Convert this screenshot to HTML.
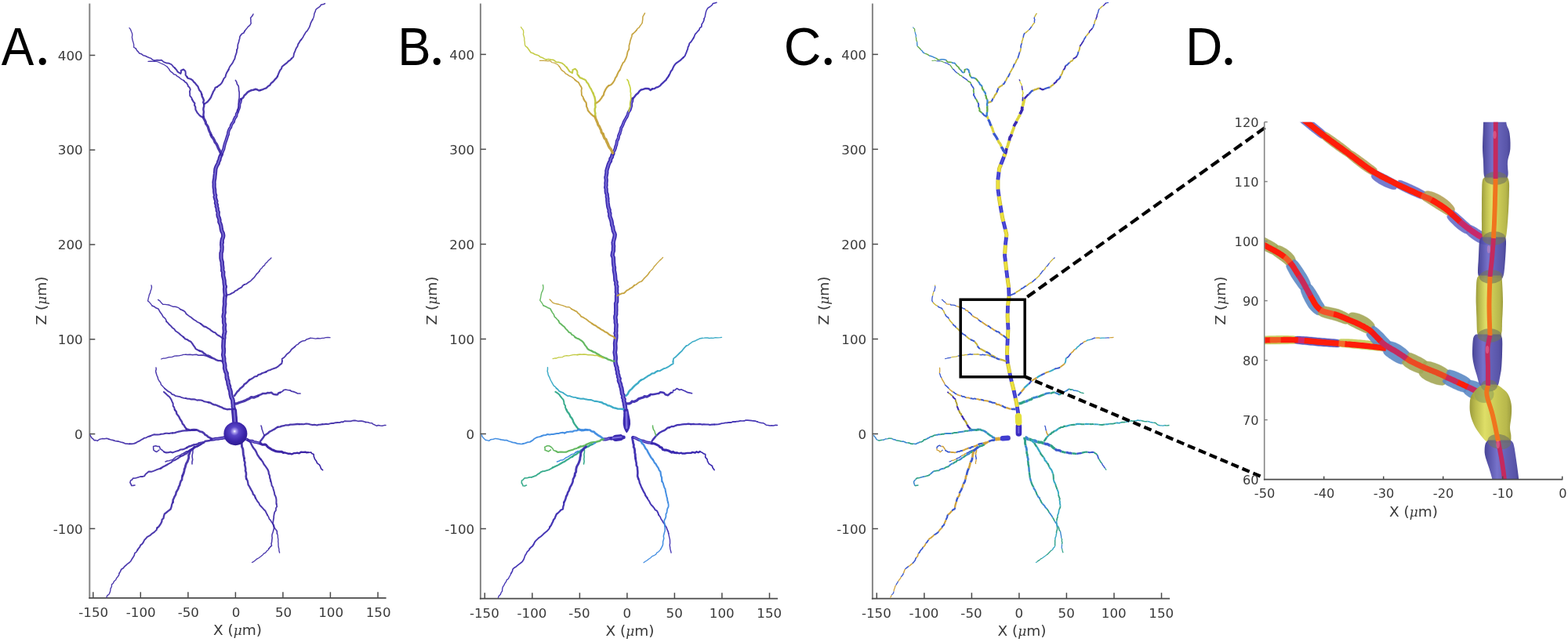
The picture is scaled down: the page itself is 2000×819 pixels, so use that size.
<!DOCTYPE html>
<html lang="en"><head><meta charset="utf-8"><title>Neuron morphology figure</title>
<style>
html,body{margin:0;padding:0;background:#fff;}
body{width:2000px;height:819px;overflow:hidden;}
svg{display:block;}
.tk{font-family:'DejaVu Sans','Liberation Sans',sans-serif;font-size:16.7px;fill:#3a3a3a;}
.tkd{font-size:16.2px;}
.lb{font-family:'DejaVu Sans','Liberation Sans',sans-serif;font-size:18.5px;fill:#3a3a3a;}
.mu{font-family:"DejaVu Serif","Liberation Serif",serif;font-style:italic;font-size:0.92em;}
.pl{font-family:'Liberation Sans','DejaVu Sans',sans-serif;font-size:68px;fill:#000;}
.dot{font-family:"Liberation Serif",serif;font-size:78px;fill:#000;}
</style></head><body>
<svg width="2000" height="819" viewBox="0 0 2000 819">
<defs><filter id="soft" x="-5%" y="-5%" width="110%" height="110%"><feGaussianBlur stdDeviation="0.45"/></filter><radialGradient id="soma" cx="0.46" cy="0.40" r="0.62" fx="0.46" fy="0.40"><stop offset="0" stop-color="#ffffff"/><stop offset="0.10" stop-color="#b0a4f0"/><stop offset="0.30" stop-color="#5a46c8"/><stop offset="0.7" stop-color="#3a24a8"/><stop offset="1" stop-color="#2c1a90"/></radialGradient></defs>
<rect width="2000" height="819" fill="#fff"/>
<g>
<line x1="114.3" y1="4.5" x2="114.3" y2="763.6" stroke="#858585" stroke-width="2"/>
<line x1="113.3" y1="762.8" x2="492.6" y2="762.8" stroke="#4a4a4a" stroke-width="1.7"/>
<line x1="118.8" y1="755.3" x2="118.8" y2="762.8" stroke="#4a4a4a" stroke-width="1.5"/>
<text x="119.2" y="786.5" text-anchor="middle" class="tk">-150</text>
<line x1="179.3" y1="755.3" x2="179.3" y2="762.8" stroke="#4a4a4a" stroke-width="1.5"/>
<text x="179.7" y="786.5" text-anchor="middle" class="tk">-100</text>
<line x1="239.9" y1="755.3" x2="239.9" y2="762.8" stroke="#4a4a4a" stroke-width="1.5"/>
<text x="240.3" y="786.5" text-anchor="middle" class="tk">-50</text>
<line x1="300.4" y1="755.3" x2="300.4" y2="762.8" stroke="#4a4a4a" stroke-width="1.5"/>
<text x="301" y="786.5" text-anchor="middle" class="tk">0</text>
<line x1="360.9" y1="755.3" x2="360.9" y2="762.8" stroke="#4a4a4a" stroke-width="1.5"/>
<text x="361.5" y="786.5" text-anchor="middle" class="tk">50</text>
<line x1="421.4" y1="755.3" x2="421.4" y2="762.8" stroke="#4a4a4a" stroke-width="1.5"/>
<text x="422.1" y="786.5" text-anchor="middle" class="tk">100</text>
<line x1="482" y1="755.3" x2="482" y2="762.8" stroke="#4a4a4a" stroke-width="1.5"/>
<text x="482.6" y="786.5" text-anchor="middle" class="tk">150</text>
<line x1="114.3" y1="674.4" x2="121.3" y2="674.4" stroke="#4a4a4a" stroke-width="1.5"/>
<text x="105.7" y="680.5" text-anchor="end" class="tk">-100</text>
<line x1="114.3" y1="553.6" x2="121.3" y2="553.6" stroke="#4a4a4a" stroke-width="1.5"/>
<text x="105.7" y="559.7" text-anchor="end" class="tk">0</text>
<line x1="114.3" y1="432.8" x2="121.3" y2="432.8" stroke="#4a4a4a" stroke-width="1.5"/>
<text x="105.7" y="438.9" text-anchor="end" class="tk">100</text>
<line x1="114.3" y1="312" x2="121.3" y2="312" stroke="#4a4a4a" stroke-width="1.5"/>
<text x="105.7" y="318.1" text-anchor="end" class="tk">200</text>
<line x1="114.3" y1="191.3" x2="121.3" y2="191.3" stroke="#4a4a4a" stroke-width="1.5"/>
<text x="105.7" y="197.4" text-anchor="end" class="tk">300</text>
<line x1="114.3" y1="70.5" x2="121.3" y2="70.5" stroke="#4a4a4a" stroke-width="1.5"/>
<text x="105.7" y="76.6" text-anchor="end" class="tk">400</text>
<text x="303" y="810.1" text-anchor="middle" class="lb">X (<tspan class="mu">μ</tspan>m)</text>
<text transform="translate(58.5 383.5) rotate(-90)" text-anchor="middle" class="lb">Z (<tspan class="mu">μ</tspan>m)</text>
<text transform="translate(1.8 82.8) scale(0.916 1)" class="pl">A</text>
<text x="44.4" y="81.9" class="dot">.</text>
</g>
<g fill="none" stroke-linecap="round" stroke-linejoin="round" filter="url(#soft)">
<path d="M300 540 L299.6 536.9 L299.8 534 L299.4 531.5 L298.8 528.8 L298.5 525.9 L298.2 523.2 L298.1 521.5 L297.4 518.5 L297.5 516.8 L297.1 513.9 L297 511.2 L296.4 509.1 L295.1 506.6 L294.8 505 L294.2 502.4 L294.1 499.9 L293.4 497.2 L292.4 494.9 L292.4 492.7 L291.4 490.5 L291 487.8 L290.8 485.9 L289.7 483.4 L289.5 481.4" stroke="#3c28a6" stroke-width="5.65" />
<path d="M289.5 481.4 L289.2 478.5 L289 476 L287.9 474.3 L287.2 471.6 L286.6 469.4 L286.8 466.9 L286.5 464.2 L285.8 462.1 L285.6 459.6 L285.7 457.6 L285.2 455 L284.7 452.6 L285.1 450.5 L285.4 447 L285.1 444.6 L284.9 441.6 L285.1 438.4 L285.2 436.3 L285.4 433.1 L285.8 431 L285.6 427.9 L286.2 425.7 L286.6 423" stroke="#3c28a6" stroke-width="5.55" />
<path d="M286.6 423 L286.2 419.9 L286.1 417.7 L286.6 414.3 L285.7 411.7 L285.6 409.3 L285.8 406.4 L285.1 403.9 L285.5 401.3 L286.2 398.6 L285.9 395.7 L286.1 392.4 L286.4 390.3 L286.7 387.9 L286.5 385.1 L286.6 382.9 L286.8 380 L287.3 377.7 L287.3 375.2 L286.9 372.9 L286.8 370.7 L286.6 368.8 L287.1 365.6" stroke="#3c28a6" stroke-width="5.45" />
<path d="M287.1 365.6 L286.4 363 L286.1 360 L286.1 358.1 L285.4 354.8 L284.6 351.6 L284.6 349.4 L284.8 346.9 L283.7 345.3 L283.9 342 L283.6 339.5 L283.3 337.7 L283.3 334.6 L282.4 331.5 L282 329.1 L282 326.3 L282 322.9 L282.7 320.9 L283 317.9 L283.1 315 L282.7 312 L283.1 309.1" stroke="#3c28a6" stroke-width="5.35" />
<path d="M283.1 309.1 L283.1 307 L283.6 305 L284.6 302.3 L284.8 300.5 L284.3 297.4 L282.9 294.7 L282.3 292.2 L282.1 290.4 L281.7 287.6 L281 285.5 L279.8 283 L280 280.7 L279.3 278 L278.3 275.9 L278 273.5 L278.3 270.7 L277.3 268.8 L277.2 265.7 L276.2 263.3 L276.6 261.5 L275.4 259.1 L275.9 256.6 L274.9 254 L274.3 251.1" stroke="#3c28a6" stroke-width="5.25" />
<path d="M274.3 251.1 L274.8 249.3 L274.1 247.2 L273.7 244.8 L273.7 241.7 L273.2 239.4 L273.1 237.3 L273.2 234.7 L273 232.8 L273.3 230 L273.8 227.6 L274 224.8 L274.4 221.6 L274.7 218.3 L274.9 215.7 L275.5 213.8 L276.7 211 L278.2 208.6 L278.8 206 L279.9 204 L280.3 201.6 L281.3 199 L282.4 197" stroke="#3c28a6" stroke-width="5.15" />
<path d="M300 540 L299.6 536.9 L299.8 534 L299.4 531.5 L298.8 528.8 L298.5 525.9 L298.2 523.2 L298.1 521.5 L297.4 518.5 L297.5 516.8 L297.1 513.9 L297 511.2 L296.4 509.1 L295.1 506.6 L294.8 505 L294.2 502.4 L294.1 499.9 L293.4 497.2 L292.4 494.9 L292.4 492.7 L291.4 490.5 L291 487.8 L290.8 485.9 L289.7 483.4 L289.5 481.4" stroke="#8a7ee0" stroke-width="2.15" stroke-opacity="0.75"/>
<path d="M289.5 481.4 L289.2 478.5 L289 476 L287.9 474.3 L287.2 471.6 L286.6 469.4 L286.8 466.9 L286.5 464.2 L285.8 462.1 L285.6 459.6 L285.7 457.6 L285.2 455 L284.7 452.6 L285.1 450.5 L285.4 447 L285.1 444.6 L284.9 441.6 L285.1 438.4 L285.2 436.3 L285.4 433.1 L285.8 431 L285.6 427.9 L286.2 425.7 L286.6 423" stroke="#8a7ee0" stroke-width="2.11" stroke-opacity="0.75"/>
<path d="M286.6 423 L286.2 419.9 L286.1 417.7 L286.6 414.3 L285.7 411.7 L285.6 409.3 L285.8 406.4 L285.1 403.9 L285.5 401.3 L286.2 398.6 L285.9 395.7 L286.1 392.4 L286.4 390.3 L286.7 387.9 L286.5 385.1 L286.6 382.9 L286.8 380 L287.3 377.7 L287.3 375.2 L286.9 372.9 L286.8 370.7 L286.6 368.8 L287.1 365.6" stroke="#8a7ee0" stroke-width="2.07" stroke-opacity="0.75"/>
<path d="M287.1 365.6 L286.4 363 L286.1 360 L286.1 358.1 L285.4 354.8 L284.6 351.6 L284.6 349.4 L284.8 346.9 L283.7 345.3 L283.9 342 L283.6 339.5 L283.3 337.7 L283.3 334.6 L282.4 331.5 L282 329.1 L282 326.3 L282 322.9 L282.7 320.9 L283 317.9 L283.1 315 L282.7 312 L283.1 309.1" stroke="#8a7ee0" stroke-width="2.03" stroke-opacity="0.75"/>
<path d="M283.1 309.1 L283.1 307 L283.6 305 L284.6 302.3 L284.8 300.5 L284.3 297.4 L282.9 294.7 L282.3 292.2 L282.1 290.4 L281.7 287.6 L281 285.5 L279.8 283 L280 280.7 L279.3 278 L278.3 275.9 L278 273.5 L278.3 270.7 L277.3 268.8 L277.2 265.7 L276.2 263.3 L276.6 261.5 L275.4 259.1 L275.9 256.6 L274.9 254 L274.3 251.1" stroke="#8a7ee0" stroke-width="2" stroke-opacity="0.75"/>
<path d="M274.3 251.1 L274.8 249.3 L274.1 247.2 L273.7 244.8 L273.7 241.7 L273.2 239.4 L273.1 237.3 L273.2 234.7 L273 232.8 L273.3 230 L273.8 227.6 L274 224.8 L274.4 221.6 L274.7 218.3 L274.9 215.7 L275.5 213.8 L276.7 211 L278.2 208.6 L278.8 206 L279.9 204 L280.3 201.6 L281.3 199 L282.4 197" stroke="#8a7ee0" stroke-width="1.96" stroke-opacity="0.75"/>
<path d="M282.4 197 L283.5 194.7 L284.2 192.6 L285.4 189.9 L285.8 187.7 L286.3 185.5 L287 183 L287.6 181.1 L288.5 178.7 L289.4 175.8 L289.9 174.1 L291 171" stroke="#3c28a6" stroke-width="4.03" />
<path d="M291 171 L291.1 168.9 L291.9 166.4 L292.7 164.5 L294.3 162.4 L294.9 159.8 L296.6 156.8 L298 155.3 L298.5 152.9 L299.9 150" stroke="#3c28a6" stroke-width="3.89" />
<path d="M299.9 150 L301.5 148.1 L301.7 145.4 L303 143.1 L303.7 140.8 L304.9 137.9 L305.4 135.6 L305.5 132.8 L306.7 130 L307.2 127" stroke="#3c28a6" stroke-width="3.75" />
<path d="M282.4 197 L283.5 194.7 L284.2 192.6 L285.4 189.9 L285.8 187.7 L286.3 185.5 L287 183 L287.6 181.1 L288.5 178.7 L289.4 175.8 L289.9 174.1 L291 171" stroke="#8a7ee0" stroke-width="1.53" stroke-opacity="0.75"/>
<path d="M291 171 L291.1 168.9 L291.9 166.4 L292.7 164.5 L294.3 162.4 L294.9 159.8 L296.6 156.8 L298 155.3 L298.5 152.9 L299.9 150" stroke="#8a7ee0" stroke-width="1.48" stroke-opacity="0.75"/>
<path d="M299.9 150 L301.5 148.1 L301.7 145.4 L303 143.1 L303.7 140.8 L304.9 137.9 L305.4 135.6 L305.5 132.8 L306.7 130 L307.2 127" stroke="#8a7ee0" stroke-width="1.42" stroke-opacity="0.75"/>
<path d="M307.2 127 L308.2 126 L310.3 124.5 L311.6 121.8 L313.5 120.3 L315.8 117.6 L317.9 116.4 L321 115 L323 114.8 L326.1 113.8 L327.6 114.2 L330.2 115.5 L332.1 115.1" stroke="#3c28a6" stroke-width="2.47" stroke-opacity="0.92"/>
<path d="M332.1 115.1 L335.1 114.1 L337.1 113.3 L339.6 112.4 L342 110 L344.1 108.8 L345.8 106.2 L348 104.5 L349.6 102.7 L350.8 101.2 L352.3 99.8 L354 97.3" stroke="#3c28a6" stroke-width="2.27" stroke-opacity="0.92"/>
<path d="M354 97.3 L355 94.7 L356.1 92 L357.3 89.5 L359 87.6 L359.7 85 L362.4 82.9 L364.3 81.4 L366 80.1 L367.9 78 L370.2 76.6 L371.8 74.7" stroke="#3c28a6" stroke-width="2.08" stroke-opacity="0.92"/>
<path d="M371.8 74.7 L374.2 72.6 L374.7 70.1 L375.2 67.6 L376.1 66 L377.1 63.2 L377.8 61.6 L379.4 59.2 L380.2 56.4 L381.6 54.4 L382.9 52 L384.4 50.3" stroke="#3c28a6" stroke-width="1.89" stroke-opacity="0.92"/>
<path d="M384.4 50.3 L386.5 47.5 L387.2 45.9 L388.8 43.2 L390 41.1 L392 39.2 L393.2 37.1 L394.5 34.8 L395.5 32.4 L396.3 29.5 L397.5 27.2 L398.7 25" stroke="#3c28a6" stroke-width="1.69" stroke-opacity="0.92"/>
<path d="M398.7 25 L399.8 22.7 L400.5 20.4 L400.9 17.3 L402.2 14.6 L402.7 12.6 L403.9 11.2 L406.6 9.4 L408.4 7.9 L409.6 6 L412.3 5.6 L414.5 4.5" stroke="#3c28a6" stroke-width="1.5" stroke-opacity="0.92"/>
<path d="M302.6 143 L303.6 140.3 L304.1 137.4 L304.4 134.9 L304.3 131.9 L304.4 129.9 L304.5 127.8 L305.1 125.1 L305.2 122.7 L305.2 119.5 L305.2 117.7 L304.6 115 L304.5 112.1 L304.2 109.8 L302.4 107.2 L301.8 104.6 L300.4 102.4" stroke="#3c28a6" stroke-width="1.64" stroke-opacity="0.92"/>
<path d="M282 196 L281 194.1 L279.6 191.1 L278.4 189 L277.5 186.5 L276.1 183.6 L274.2 181.4 L273.4 179 L271.9 176.3 L270 174.2 L269.2 172.2" stroke="#3c28a6" stroke-width="3.52" stroke-opacity="0.92"/>
<path d="M269.2 172.2 L268.2 169.4 L267 167.2 L266 164.4 L265.4 162.1 L264.5 160.4 L262.5 157.6 L262.3 155.8 L260.9 152.8 L260 151.4 L259.5 149" stroke="#3c28a6" stroke-width="3.21" stroke-opacity="0.92"/>
<path d="M260 133 L262.2 131.6 L264.6 130 L266.7 127.6 L267.8 126 L269.1 124.2 L269.7 122.4 L271.2 119 L272 117 L273.7 114.3 L274.6 111.8 L276.8 111" stroke="#3c28a6" stroke-width="2.23" stroke-opacity="0.92"/>
<path d="M276.8 111 L278.5 109.6 L281.3 107.6 L282.9 105.7 L284.4 102.8 L285.4 100.4 L287.5 98.1 L288.1 95.5 L289.2 92.7 L290.2 91.1 L291.6 88.8" stroke="#3c28a6" stroke-width="2.04" stroke-opacity="0.92"/>
<path d="M291.6 88.8 L292.7 85.8 L294.2 83.5 L295.3 82.1 L297 79.7 L297.9 77.6 L299.4 75 L300.1 71.8 L300.9 69.5 L301.8 66.9 L302.2 63.5" stroke="#3c28a6" stroke-width="1.86" stroke-opacity="0.92"/>
<path d="M302.2 63.5 L303.2 61.1 L303.2 58.8 L303.4 56.7 L304.5 53.8 L304.9 51.6 L305.6 49.4 L305.9 46.9 L306.7 45.4 L308.7 43 L310.9 42 L312.2 39.4" stroke="#3c28a6" stroke-width="1.68" stroke-opacity="0.92"/>
<path d="M312.2 39.4 L313.7 37.6 L315.3 35.6 L316.7 33.8 L318.6 32.4 L320.2 29.9 L319.9 27.7 L319.9 25.2 L319.6 22.8 L322 20.1 L323 18" stroke="#3c28a6" stroke-width="1.49" stroke-opacity="0.92"/>
<path d="M259.5 149 L259.5 146.1 L259.9 142.7 L259.4 139.7 L259.6 137.6 L260.2 135.7 L260.2 132.5 L259.2 130.7 L260 128 L258.8 124.8 L257.8 123.1 L257.3 120.4" stroke="#3c28a6" stroke-width="2.45" stroke-opacity="0.92"/>
<path d="M257.3 120.4 L256.2 117.2 L254.1 114.7 L253.3 112.7 L252.4 110.2 L250.6 108.3 L249 106.1 L247 104.3 L245.7 102.4 L243.1 100.8 L239.6 99.8 L238.6 98.2" stroke="#3c28a6" stroke-width="2.22" stroke-opacity="0.92"/>
<path d="M238.6 98.2 L236.6 95.6 L236.8 93.6 L236.4 90.7 L234.1 88.5 L230.8 90 L231 92.1 L230.4 94 L226.7 91.7 L225.5 89.7 L222.8 86.5" stroke="#3c28a6" stroke-width="2" stroke-opacity="0.92"/>
<path d="M222.8 86.5 L221.3 85.4 L219.6 83.2 L218.2 82 L215.1 80.6 L212.5 80.5 L210.2 79.7 L208.3 78.7 L206 76.7 L203.5 76.8 L200.3 76.7 L196.7 77.3" stroke="#3c28a6" stroke-width="1.77" stroke-opacity="0.92"/>
<path d="M196.7 77.3 L194.5 76.3 L192.5 74.4 L190 73.5 L188.2 72.8 L185.1 71.2 L182.7 70.7 L180.1 68.7 L177.6 67.9 L176.6 66.4 L174.7 64.5 L173.2 61.8" stroke="#3c28a6" stroke-width="1.54" stroke-opacity="0.92"/>
<path d="M173.2 61.8 L170.7 60.4 L170.7 57 L170.2 54.9 L169.4 52.3 L168.7 49.5 L168.4 47.4 L168.8 44.6 L168.4 42.2 L167.5 40.3 L166.6 37.7 L165 35.6" stroke="#3c28a6" stroke-width="1.31" stroke-opacity="0.92"/>
<path d="M259 150 L255.5 148 L253.9 146.4 L251.7 143.9 L250.4 141.5 L249.4 139.8 L249.3 136.5 L248 134.1 L248.4 131.8 L246.8 129.9 L245 126.8" stroke="#3c28a6" stroke-width="2.15" stroke-opacity="0.92"/>
<path d="M245 126.8 L244.3 124.6 L242.2 122.2 L242.2 119.1 L241.9 116.9 L242.8 114.1 L241.7 111.5 L239.9 110 L239.6 108.5 L237.9 105.8 L235.9 104.5 L234.4 102.7" stroke="#3c28a6" stroke-width="1.82" stroke-opacity="0.92"/>
<path d="M234.4 102.7 L232.3 101.7 L230.3 100.3 L228.1 98.4 L225.8 97.1 L224.3 95.4 L221.7 94.7 L219.7 92.6 L217.9 91.3 L216.6 89.9 L215.6 88.1 L213.4 85.4" stroke="#3c28a6" stroke-width="1.49" stroke-opacity="0.92"/>
<path d="M213.4 85.4 L211.6 84 L209.7 82.7 L206.7 81.4 L204.6 80.4 L202.2 79.3 L199.8 78.5 L197.7 78.5 L195.1 78.4 L192.2 78.1 L189 78.4" stroke="#3c28a6" stroke-width="1.16" stroke-opacity="0.92"/>
<path d="M288 377.6 L290.4 376.1 L293 375.6 L296.1 373.8 L297.9 373.2 L300 371.1 L302.3 370.2 L304.5 368.3 L306 367.7 L308.3 366.4 L309.5 364.5 L311.6 363" stroke="#3c28a6" stroke-width="1.93" stroke-opacity="0.92"/>
<path d="M311.6 363 L314.5 362.1 L316.4 360.5 L318.4 359.3 L319.8 358.3 L322.4 355.6 L324.1 354.1 L325.7 351.9 L327.2 349.7 L329 348.1 L331 345.7" stroke="#3c28a6" stroke-width="1.64" stroke-opacity="0.92"/>
<path d="M331 345.7 L331.9 343.8 L334.2 341.7 L335.4 339.9 L337.5 338.4 L338.4 336.2 L340.3 334.9 L342.1 332.6 L343.7 331.2 L346 329" stroke="#3c28a6" stroke-width="1.35" stroke-opacity="0.92"/>
<path d="M284 461 L281.2 460.1 L278.5 460.1 L275.8 459.1 L273.4 457.7 L271.4 457 L268.4 454.9 L266.2 453.7 L263.5 453.2 L261.9 451.8 L259.9 450.6 L258 448.7 L254.8 447.7" stroke="#3c28a6" stroke-width="2.43" stroke-opacity="0.92"/>
<path d="M254.8 447.7 L252.8 446.7 L249.6 445.1 L248.4 442.8 L246.6 440.3 L245.5 438.7 L243.6 436 L241.6 435.1 L238.4 433 L236.4 432.5 L234 430" stroke="#3c28a6" stroke-width="2.16" stroke-opacity="0.92"/>
<path d="M234 430 L232.4 428.7 L230.4 427.3 L228.3 425.3 L226.3 423.7 L223.9 422.3 L222.3 419.7 L219.7 417.9 L218 415.9 L215.6 413.7 L214.6 412.4 L212.3 410.1" stroke="#3c28a6" stroke-width="1.88" stroke-opacity="0.92"/>
<path d="M212.3 410.1 L211.5 407.5 L209.9 405.6 L208.1 404.1 L206.6 401.3 L204.9 399.1 L203.4 396.7 L201.9 393.9 L198.9 392.8 L196.7 391.1 L194.3 390.3" stroke="#3c28a6" stroke-width="1.61" stroke-opacity="0.92"/>
<path d="M194.3 390.3 L192.3 387.7 L190.6 385.6 L188.6 383.9 L189.1 381.3 L189.9 378.2 L190.5 375.6 L191.5 373.9 L192.1 370.9 L193 368.9 L193.5 366.1 L193 364" stroke="#3c28a6" stroke-width="1.34" stroke-opacity="0.92"/>
<path d="M285 432 L283 430.8 L280.6 429 L277.7 427.5 L276 426.2 L274.4 424.2 L272.3 423.7 L269.6 421.9 L267.8 420.2 L265.4 418.8 L262.8 417.1 L260 416.4 L257.7 414.4 L256 413" stroke="#3c28a6" stroke-width="2.13" stroke-opacity="0.92"/>
<path d="M256 413 L253.5 411.5 L251.7 410.8 L250.2 409.4 L247.7 408 L245.6 406.5 L244.1 405.1 L242.4 404.1 L240.1 402.4 L237.6 400.5 L236.1 397.9 L234.3 396.5 L232.5 395.6 L229.9 394.5" stroke="#3c28a6" stroke-width="1.76" stroke-opacity="0.92"/>
<path d="M229.9 394.5 L227.9 392.7 L225.7 391.8 L223.3 391.3 L220.6 391.2 L218.1 390.2 L215.3 389 L212.5 388.6 L210.6 388.4 L208 388.4 L205.5 385.9 L203.9 383.8 L201.6 382.4" stroke="#3c28a6" stroke-width="1.39" stroke-opacity="0.92"/>
<path d="M270 457 L266.8 455.7 L264.3 454.6 L261.7 453.7 L259.3 453.1 L256.5 453.1 L253.2 453.3 L250.5 452.3 L247.6 452.5 L245.6 452.7 L242.3 452.2 L239.1 452.5 L236.9 452.3" stroke="#3c28a6" stroke-width="1.64" stroke-opacity="0.92"/>
<path d="M236.9 452.3 L234.1 452.3 L231.6 453.2 L228.1 453.8 L225.1 454 L222.7 454.2 L219.6 455.3 L217.1 455.6 L215.6 455.6 L212.5 456.6 L210.4 457.1 L208.3 457.2 L205.6 458" stroke="#3c28a6" stroke-width="1.28" stroke-opacity="0.92"/>
<path d="M296 522.4 L293.1 521.9 L290.2 522.3 L288.3 521.8 L285 521 L283.2 519.8 L280.7 518.9 L277.7 517.6 L275.2 516.5 L272.8 516.2 L270.7 515.3 L268.2 513.8 L265.7 513.3" stroke="#3c28a6" stroke-width="2.41" stroke-opacity="0.92"/>
<path d="M265.7 513.3 L263.5 512.8 L260.6 512.3 L258.9 511.3 L256.4 510.5 L253.4 510.3 L251.4 510.6 L249 509.6 L246.8 509.2 L243.7 509.4 L241.7 508.8 L239.4 508.7 L236.8 508.1" stroke="#3c28a6" stroke-width="2.09" stroke-opacity="0.92"/>
<path d="M236.8 508.1 L234.6 507.8 L231.9 507.2 L229.6 506.1 L226.7 505.6 L224.1 505.2 L221.6 503.5 L219.6 503.2 L217.8 501.1 L215.5 499.8 L214.2 499.1 L212.4 497.5 L210.1 495.6" stroke="#3c28a6" stroke-width="1.77" stroke-opacity="0.92"/>
<path d="M210.1 495.6 L208.6 494.1 L207.3 492.4 L205.3 490.4 L204.9 488.4 L202.9 485.7 L201.6 483.5 L201.3 481.6 L200.1 479 L199.1 475.8 L198.6 473.3 L199.3 471 L199 469" stroke="#3c28a6" stroke-width="1.46" stroke-opacity="0.92"/>
<path d="M299 505 L300.8 502.4 L302.5 499.8 L304.4 498.2 L306.2 495.8 L308.5 494 L310.4 492.3 L311.5 490.3 L313.9 488.9 L315.8 487 L318 484.7" stroke="#3c28a6" stroke-width="2.45" stroke-opacity="0.92"/>
<path d="M318 484.7 L320.8 483.2 L323.1 481.9 L324.7 480.5 L327.9 479.9 L329.5 478 L332.4 477.3 L334.5 476 L337 475.3 L339.4 474.4" stroke="#3c28a6" stroke-width="2.22" stroke-opacity="0.92"/>
<path d="M339.4 474.4 L341.8 472.7 L344.6 472 L346.4 471.1 L348.8 470.3 L351.8 469.3 L354.1 467.9 L356.4 465.9 L359.4 463.6 L359.9 460.5" stroke="#3c28a6" stroke-width="2" stroke-opacity="0.92"/>
<path d="M359.9 460.5 L359.7 457.8 L362.4 456 L363.9 454.4 L365.7 452 L368 450.3 L370.3 448.1 L371.8 445.8 L373.7 444.3 L376.2 442.2" stroke="#3c28a6" stroke-width="1.77" stroke-opacity="0.92"/>
<path d="M376.2 442.2 L377.7 440.4 L380.3 439.1 L381.6 437.5 L384.4 435.7 L386.1 434.9 L389 434.6 L390.9 433 L393.3 432.3 L396 431.3" stroke="#3c28a6" stroke-width="1.54" stroke-opacity="0.92"/>
<path d="M396 431.3 L398.2 431.3 L401.3 431.8 L402.8 432.1 L405.2 431.5 L408.5 431.9 L410.8 431.3 L412.9 431.3 L415.4 430.7 L418.3 430.3 L421 430.6" stroke="#3c28a6" stroke-width="1.31" stroke-opacity="0.92"/>
<path d="M300 515 L302.3 514.8 L305.3 513.5 L307.7 512.7 L309.4 512.2 L312.5 511.1 L316.1 509.2 L318.1 508.4 L320.5 506.7 L323.7 507.1 L326.5 506 L329.1 505" stroke="#3c28a6" stroke-width="3.28" stroke-opacity="0.92"/>
<path d="M329.1 505 L331.3 503.7 L333.2 503.1 L335.3 501.9 L339 502.1 L341.2 501.1 L343.4 501.2 L346.2 500.8 L348.3 502.6 L349.4 503 L352.5 503.4 L354 503.3 L355.2 501.4 L357.4 500.7" stroke="#3c28a6" stroke-width="2.49" stroke-opacity="0.92"/>
<path d="M357.4 500.7 L360.8 499 L361.3 497.9 L364.1 497 L366.7 497.5 L369.9 497.8 L371.8 499.2 L374.2 499.6 L377.3 500.7 L379.6 502 L383 502" stroke="#3c28a6" stroke-width="1.7" stroke-opacity="0.92"/>
<path d="M289 558.5 L286.1 558.3 L283.3 558.9 L280.3 559.2 L277.9 559.8 L275.2 559.7 L272.4 560.5 L270 560.6" stroke="#3c28a6" stroke-width="4.1" />
<path d="M289 558.5 L286.1 558.3 L283.3 558.9 L280.3 559.2 L277.9 559.8 L275.2 559.7 L272.4 560.5 L270 560.6" stroke="#8a7ee0" stroke-width="1.56" stroke-opacity="0.75"/>
<path d="M270 560 L268.4 558.7 L265.7 557.6 L263.9 555.7 L261.6 554.6 L260.3 552.8 L258 551.1 L255.1 550.5 L252.5 549.1 L250.3 548.3 L247.3 548.1 L244.7 548.3 L242.3 548.9 L240.4 548 L238 547.5" stroke="#3c28a6" stroke-width="2.69" stroke-opacity="0.92"/>
<path d="M238 547.5 L235.9 544.8 L234.6 542.4 L232.8 540.6 L231.8 537.7 L230.6 536 L229.4 534.1 L228.4 531.9 L227.4 530.4 L225.3 527.8 L224.9 525.3 L222.9 522.8" stroke="#3c28a6" stroke-width="2.38" stroke-opacity="0.92"/>
<path d="M222.9 522.8 L222.1 519.5 L220.8 518 L220.7 514.8 L219.4 512.1 L218.7 510.3 L217.2 507.7 L216.1 506.3 L213.7 504.4 L211.6 502.3 L209 500" stroke="#3c28a6" stroke-width="2.01" stroke-opacity="0.92"/>
<path d="M250 548.5 L247.8 549 L245.5 549 L242.5 549 L240.4 549.1 L237.9 549.4 L235.6 549.3 L232.7 549.6 L230.5 550.1 L228 550.6 L225.5 551.3 L223 552.1 L220 552.4" stroke="#3c28a6" stroke-width="2.23" stroke-opacity="0.92"/>
<path d="M220 552.4 L218 552.5 L215.8 553 L213.1 552.8 L211.3 552.7 L208.5 553.5 L205.5 553.7 L203.8 554.3 L201 554.6 L198.8 554.4 L196.8 554.3 L194.2 555.1 L191.3 556.4" stroke="#3c28a6" stroke-width="2.04" stroke-opacity="0.92"/>
<path d="M191.3 556.4 L188.9 557 L186.5 558.3 L183.7 558.9 L181.9 560.2 L180.3 561 L178.3 562.3 L176 563.3 L173.3 565 L170.8 565.8 L167.8 566.3 L165.1 566.3" stroke="#3c28a6" stroke-width="1.86" stroke-opacity="0.92"/>
<path d="M165.1 566.3 L162.8 566.2 L159.5 565.8 L157.7 564.9 L154.2 564 L151.5 563.2 L149.8 562.9 L146.8 562.5 L144.4 561.6 L141.5 561 L138.9 560.3" stroke="#3c28a6" stroke-width="1.68" stroke-opacity="0.92"/>
<path d="M138.9 560.3 L136.2 559.3 L133.2 559.8 L130.3 559.6 L126.7 560.5 L124.3 562.4 L122.2 561.6 L120.3 561.8 L118.6 559.8 L116.8 558.4 L115.8 556.7 L115 555" stroke="#3c28a6" stroke-width="1.49" stroke-opacity="0.92"/>
<path d="M270 560.6 L267.6 561.9 L264.6 562.4 L262 562.8 L260.3 564.1 L257.8 564.6 L254.2 565.2 L252.1 566.4 L249.8 567 L246.6 567.6 L244.1 568.7 L241 569.5 L238.2 571.2" stroke="#3c28a6" stroke-width="2.56" stroke-opacity="0.92"/>
<path d="M238.2 571.2 L235.6 572.5 L232.9 573.4 L230.3 573.5 L228.2 574.7 L225.6 575.4 L222.2 576.6 L220.2 577.4 L217.6 576.6 L214.8 577.2 L212 577.4 L209.3 576.5" stroke="#3c28a6" stroke-width="2.06" stroke-opacity="0.92"/>
<path d="M209.3 576.5 L207.2 574.5 L204.5 572.7 L203.3 569.6 L200.8 569.4 L198.7 568.8 L195.6 569.6 L195.7 572.1 L195.9 574.2 L197.6 575.5 L199.9 576.5 L203 574" stroke="#3c28a6" stroke-width="1.55" stroke-opacity="0.92"/>
<path d="M260 565 L257.6 566.2 L254.9 567.8 L252.9 569 L250.1 569.8 L247.1 571.7 L245.2 572.8 L242.3 573.9 L240.5 575.3 L237.6 576.1 L234.9 577.9" stroke="#3c28a6" stroke-width="1.85" stroke-opacity="0.92"/>
<path d="M234.9 577.9 L232.4 578.9 L230.1 580.4 L227.8 581.3 L224.5 582.8 L222.4 584.6 L220.3 586.4 L217.3 587.1 L215.8 587.9 L213.3 588 L211 589" stroke="#3c28a6" stroke-width="1.42" stroke-opacity="0.92"/>
<path d="M246 574 L245.9 577.3 L245.2 580.4 L245.1 582.6 L245.7 586.3 L245 589.3 L245 592" stroke="#3c28a6" stroke-width="1.57" stroke-opacity="0.92"/>
<path d="M256 567 L253.9 568 L251.1 569.7 L248.5 570.5 L245.8 572.3 L244.3 573.5 L241.6 575.3 L240.3 576.2 L238.1 578.4 L235.9 579.5 L233 581.1 L230.2 582.2" stroke="#3c28a6" stroke-width="2.43" stroke-opacity="0.92"/>
<path d="M230.2 582.2 L227.7 584.2 L225.4 585.6 L222.9 587 L220.1 588 L218.5 589.9 L215.1 591.6 L213.3 592.7 L210.6 594.3 L208 595.5 L205 597.5" stroke="#3c28a6" stroke-width="2.17" stroke-opacity="0.92"/>
<path d="M205 597.5 L203.4 598 L200.6 598.8 L198.3 599.9 L195.8 600.9 L193 601.8 L189.8 601.5 L187.7 603.3 L185.6 604.9 L184.1 607.4 L181.3 608.1" stroke="#3c28a6" stroke-width="1.9" stroke-opacity="0.92"/>
<path d="M181.3 608.1 L179.1 607.9 L176.1 608.9 L172.6 610 L169.8 610.1 L168.4 612 L166.7 612.9 L165.9 615.7 L167.5 618.5 L167.7 619.5 L169.8 619.4 L172 619" stroke="#3c28a6" stroke-width="1.63" stroke-opacity="0.92"/>
<path d="M248 570 L246.4 572.4 L244.3 573.5 L242.3 576.2 L241.6 579 L240.6 580.6 L240.8 583.9 L240.2 585.8 L239.1 588.9 L237.6 591.2 L236.8 593.6 L236.2 596.2 L235.2 598.6 L234.9 601 L234.2 603.7 L232.8 606.9" stroke="#3c28a6" stroke-width="2.9" stroke-opacity="0.92"/>
<path d="M232.8 606.9 L232.2 609.4 L232.1 611.9 L230.6 613.9 L229.6 616.8 L229.3 618.9 L228 621 L227.3 623.6 L226.1 625.6 L224.7 628 L224.2 630.9 L222.6 633.6 L221.8 635.5 L220.7 637.8 L220.6 640.6" stroke="#3c28a6" stroke-width="2.59" stroke-opacity="0.92"/>
<path d="M220.6 640.6 L219.2 643.5 L218.6 646.7 L217.6 649.5 L215.6 651.1 L214.2 652.2 L212 654 L209.8 655.7 L208.9 658.9 L208.5 661.2 L206.6 663 L206.4 665.2 L205.2 667.8 L204.1 669.5 L202.5 671.8 L200.4 673.5" stroke="#3c28a6" stroke-width="2.28" stroke-opacity="0.92"/>
<path d="M200.4 673.5 L199.7 676 L197.7 677.9 L196.4 679.2 L194.1 680.6 L191.7 682.8 L190.2 683.7 L187.6 685.1 L186.1 687 L184.2 688.9 L182.9 691.6 L181.5 693.7 L179.3 695.4 L178.2 697.9 L176.7 699.6 L175.3 701.8" stroke="#3c28a6" stroke-width="1.97" stroke-opacity="0.92"/>
<path d="M175.3 701.8 L173.8 704.4 L172 705.5 L171.2 708.5 L169.9 710.8 L167.9 713.8 L166.9 715.7 L164.9 717.8 L162.5 719.4 L160.9 721 L158.6 722.9 L157.3 724.7 L154.8 726.2 L153.6 728.8 L152.1 731.4" stroke="#3c28a6" stroke-width="1.66" stroke-opacity="0.92"/>
<path d="M152.1 731.4 L151.7 733.5 L150 736 L148.6 737.5 L147.7 739.7 L145.5 741.6 L144.2 744.3 L142.5 745.6 L142.4 748.2 L141 751.1 L140.8 753.5 L140.2 755.6 L139 758.2 L136.9 759.6 L136 762" stroke="#3c28a6" stroke-width="1.35" stroke-opacity="0.92"/>
<path d="M308 558 L310.3 559 L312.4 559.6 L314.9 560.6 L317.3 562 L319.1 562.4 L322 562.6 L324.3 564 L326.6 564.2 L329.7 565 L332 565.6" stroke="#3c28a6" stroke-width="3.7" />
<path d="M308 558 L310.3 559 L312.4 559.6 L314.9 560.6 L317.3 562 L319.1 562.4 L322 562.6 L324.3 564 L326.6 564.2 L329.7 565 L332 565.6" stroke="#8a7ee0" stroke-width="1.41" stroke-opacity="0.75"/>
<path d="M332 565.6 L334.5 567.2 L337.8 566.9 L339.5 567.7 L341.9 570.5 L344.5 572.1 L346.6 573.6 L347.9 574 L352.2 575.8 L353.5 575.9 L356.7 576.3 L359.1 576.2 L361.4 577.5" stroke="#3c28a6" stroke-width="3.05" />
<path d="M361.4 577.5 L363.1 577.4 L367.3 578.7 L369.8 578.7 L372.1 579.4 L374.7 578.2 L376.8 578.1 L379.3 577.6 L381.6 578.3 L384.2 576.6 L386.4 576.9 L389.6 576.6 L390.8 577.3 L392.9 577.2" stroke="#3c28a6" stroke-width="2.35" />
<path d="M392.9 577.2 L396.8 577 L397.6 578.4 L400.1 579.4 L400.3 582.3 L401.6 585.8 L403.3 587.9 L404.6 590.8 L407.6 593.2 L408.7 595.5 L409.5 597.8 L411.6 599.6" stroke="#3c28a6" stroke-width="1.65" />
<path d="M332 563 L333.8 560.7 L335.7 558.3 L337.2 555.7 L339.3 554.3 L341.7 552.8 L343.5 550.9 L346.4 549.5 L348.1 548.5 L349.8 547.7 L351.8 546.3 L354.2 544.8" stroke="#3c28a6" stroke-width="2.47" stroke-opacity="0.92"/>
<path d="M354.2 544.8 L357.4 544.4 L359.1 543.6 L361.9 543.2 L364.4 542.3 L368.1 542.4 L370.1 541.6 L373.1 541.6 L376.1 541.3 L379.1 541 L381.8 541.2" stroke="#3c28a6" stroke-width="2.27" stroke-opacity="0.92"/>
<path d="M381.8 541.2 L384.7 541 L387.5 541.2 L390.4 540.6 L393.2 540.7 L395.9 541.5 L398.4 542.1 L401.3 541.7 L404.3 542.4 L406.5 541.7 L408.8 541.6 L411.4 541.2" stroke="#3c28a6" stroke-width="2.08" stroke-opacity="0.92"/>
<path d="M411.4 541.2 L413.5 541.3 L415.9 540.8 L418.7 541.1 L420.8 540.4 L422.9 540 L425.2 540 L428.1 539.2 L430.8 539 L433.1 539.1 L435.7 538.1 L437.5 538.4" stroke="#3c28a6" stroke-width="1.89" stroke-opacity="0.92"/>
<path d="M437.5 538.4 L439.5 537.1 L442.5 537.4 L445.2 537.4 L447.2 537.4 L449.6 536.7 L452.2 536.3 L454.3 536.7 L456.7 537.3 L459.4 537.1 L461.2 537.2 L463.9 537.7 L466.6 538.6" stroke="#3c28a6" stroke-width="1.69" stroke-opacity="0.92"/>
<path d="M466.6 538.6 L469.5 538.8 L471.4 539.5 L474.5 539.8 L476 541.3 L477.7 541.8 L480.5 543.3 L482.4 542.5 L485.2 543 L487.5 543.3 L490 542.6 L492 542.6" stroke="#3c28a6" stroke-width="1.5" stroke-opacity="0.92"/>
<path d="M337.4 556 L335.9 552.8 L335 550 L334 547.3 L333.8 545.4 L333 543" stroke="#3c28a6" stroke-width="1.51" stroke-opacity="0.92"/>
<path d="M307 558 L307.3 560.9 L307.9 562.3 L308.1 565.5 L308.4 567.8 L308.5 569.8 L309.7 572.5 L310 574.5 L310.2 577.3 L310.4 579.7 L311 582.5 L311.5 584.7" stroke="#3c28a6" stroke-width="2.9" stroke-opacity="0.92"/>
<path d="M311.5 584.7 L311.4 587.3 L312.5 590 L312.2 592.9 L313 596.3 L313.3 598.7 L313 600.3 L313.9 603 L314 605.5 L313.7 607.8 L314.3 610.9" stroke="#3c28a6" stroke-width="2.59" stroke-opacity="0.92"/>
<path d="M314.3 610.9 L315.6 612.8 L316.2 615.4 L316.6 618.4 L318.3 620.9 L319.3 622.9 L320.3 624.7 L322.2 628 L322.8 630.4 L324.7 632.2 L325.9 635.3" stroke="#3c28a6" stroke-width="2.28" stroke-opacity="0.92"/>
<path d="M325.9 635.3 L327.2 637.6 L328.3 639.5 L330.2 641.7 L331.4 644.4 L333.2 646.3 L334.5 647.7 L336.3 649.7 L338.5 651.8 L339.6 654.1 L341 656.9" stroke="#3c28a6" stroke-width="1.97" stroke-opacity="0.92"/>
<path d="M341 656.9 L342.4 659.1 L343.6 662.3 L345.1 663.7 L346.2 665.8 L347.5 667.5 L349.2 669.8 L350 672.9 L351.3 675.1 L353.3 677.6 L353.4 680.8" stroke="#3c28a6" stroke-width="1.66" stroke-opacity="0.92"/>
<path d="M353.4 680.8 L354.3 682.7 L354.4 685.7 L354.9 688.5 L354.7 691 L355 692.7 L355 695.1 L355.2 697.8 L355.9 700.4 L355.9 702.4 L356.6 705" stroke="#3c28a6" stroke-width="1.35" stroke-opacity="0.92"/>
<path d="M316 561 L318.1 562.7 L319.9 564.9 L321 567.5 L322.3 570 L323.9 572.2 L325.6 574.3 L326.9 576.6 L328.2 579.9 L329.8 582.2 L331 584.1 L332.7 586" stroke="#3c28a6" stroke-width="2.45" stroke-opacity="0.92"/>
<path d="M332.7 586 L334 587.6 L335.4 589.7 L336.6 592.2 L338.3 594.4 L340.4 597.3 L341.9 599.9 L342.6 601.8 L342.9 604.6 L344 606.7 L344.1 609.4 L344.8 611.3 L345.3 613.9" stroke="#3c28a6" stroke-width="2.22" stroke-opacity="0.92"/>
<path d="M345.3 613.9 L346.1 616.2 L346.6 619.4 L348.2 621.7 L348.5 623.5 L349.3 626.1 L350 628.7 L350.3 631 L351.5 633.3 L352.3 636.1 L352.5 638.3 L352.4 641.2 L352.6 643" stroke="#3c28a6" stroke-width="2" stroke-opacity="0.92"/>
<path d="M352.6 643 L353.3 646.3 L352 648 L351.9 651.1 L350.3 653.2 L349.6 656.3 L349.2 658.9 L349.2 660.6 L348.7 663.4 L348.2 666.3 L348.1 668.3 L349.1 671.3" stroke="#3c28a6" stroke-width="1.77" stroke-opacity="0.92"/>
<path d="M349.1 671.3 L349.4 674.2 L348.7 676.8 L348.1 679 L347.1 681.7 L346.9 684 L347.2 686 L346.9 688.3 L346.6 691.5 L346 693.6 L346.5 696.1 L344.7 697.7 L342.9 699.9" stroke="#3c28a6" stroke-width="1.54" stroke-opacity="0.92"/>
<path d="M342.9 699.9 L341.9 701.7 L340.1 703.1 L338.7 705.2 L336.5 706.2 L335 707.9 L333.1 709.5 L330.1 711.7 L327.6 713.1 L325.7 714.8 L323.7 716.3 L321.5 717.5" stroke="#3c28a6" stroke-width="1.31" stroke-opacity="0.92"/>
<path d="M300 542 L298.6 524" stroke="#3c28a6" stroke-width="7" />
<path d="M300 542 L298.6 524" stroke="#8a7ee0" stroke-width="2.4" stroke-opacity="0.7"/>
</g>
<circle cx="300.4" cy="553.2" r="15" fill="url(#soma)"/>
<g>
<line x1="612.9" y1="4.5" x2="612.9" y2="764.5" stroke="#858585" stroke-width="2"/>
<line x1="611.9" y1="763.7" x2="992.1" y2="763.7" stroke="#4a4a4a" stroke-width="1.7"/>
<line x1="618.3" y1="756.2" x2="618.3" y2="763.7" stroke="#4a4a4a" stroke-width="1.5"/>
<text x="617.9" y="787.9" text-anchor="middle" class="tk">-150</text>
<line x1="678.9" y1="756.2" x2="678.9" y2="763.7" stroke="#4a4a4a" stroke-width="1.5"/>
<text x="678.5" y="787.9" text-anchor="middle" class="tk">-100</text>
<line x1="739.4" y1="756.2" x2="739.4" y2="763.7" stroke="#4a4a4a" stroke-width="1.5"/>
<text x="739" y="787.9" text-anchor="middle" class="tk">-50</text>
<line x1="799.9" y1="756.2" x2="799.9" y2="763.7" stroke="#4a4a4a" stroke-width="1.5"/>
<text x="799.7" y="787.9" text-anchor="middle" class="tk">0</text>
<line x1="860.4" y1="756.2" x2="860.4" y2="763.7" stroke="#4a4a4a" stroke-width="1.5"/>
<text x="860.2" y="787.9" text-anchor="middle" class="tk">50</text>
<line x1="920.9" y1="756.2" x2="920.9" y2="763.7" stroke="#4a4a4a" stroke-width="1.5"/>
<text x="920.8" y="787.9" text-anchor="middle" class="tk">100</text>
<line x1="981.5" y1="756.2" x2="981.5" y2="763.7" stroke="#4a4a4a" stroke-width="1.5"/>
<text x="981.3" y="787.9" text-anchor="middle" class="tk">150</text>
<line x1="612.9" y1="674.5" x2="619.9" y2="674.5" stroke="#4a4a4a" stroke-width="1.5"/>
<text x="605.2" y="680.6" text-anchor="end" class="tk">-100</text>
<line x1="612.9" y1="553.5" x2="619.9" y2="553.5" stroke="#4a4a4a" stroke-width="1.5"/>
<text x="605.2" y="559.6" text-anchor="end" class="tk">0</text>
<line x1="612.9" y1="432.5" x2="619.9" y2="432.5" stroke="#4a4a4a" stroke-width="1.5"/>
<text x="605.2" y="438.6" text-anchor="end" class="tk">100</text>
<line x1="612.9" y1="311.5" x2="619.9" y2="311.5" stroke="#4a4a4a" stroke-width="1.5"/>
<text x="605.2" y="317.6" text-anchor="end" class="tk">200</text>
<line x1="612.9" y1="190.4" x2="619.9" y2="190.4" stroke="#4a4a4a" stroke-width="1.5"/>
<text x="605.2" y="196.5" text-anchor="end" class="tk">300</text>
<line x1="612.9" y1="69.4" x2="619.9" y2="69.4" stroke="#4a4a4a" stroke-width="1.5"/>
<text x="605.2" y="75.5" text-anchor="end" class="tk">400</text>
<text x="803.5" y="811" text-anchor="middle" class="lb">X (<tspan class="mu">μ</tspan>m)</text>
<text transform="translate(557 383.5) rotate(-90)" text-anchor="middle" class="lb">Z (<tspan class="mu">μ</tspan>m)</text>
<text transform="translate(507.2 82.8) scale(0.935 1)" class="pl">B</text>
<text x="547.4" y="81.9" class="dot">.</text>
</g>
<g fill="none" stroke-linecap="round" stroke-linejoin="round" filter="url(#soft)">
<path d="M799.5 539.9 L799 537.2 L799.2 534.2 L799.2 531.8 L798.3 528.4 L798.4 525.6 L797.7 523.2 L797.4 521.2 L797.2 518.2 L796.7 516.2 L796.4 513.5 L795.6 511 L796 509.4 L794.6 507 L795 504.5 L793.6 502.1 L793.4 499.5 L792.9 496.9 L792.7 495.1 L791.8 493 L791.3 489.9 L790.2 487.4 L789.5 485.7 L789.8 482.9" stroke="#3b2bb0" stroke-width="5.65" />
<path d="M789.8 482.9 L788.7 480.9 L788.8 478.8 L787.7 476.4 L787.8 474 L786.8 471 L786.9 468.8 L785.9 466.6 L785.4 464.5 L784.8 461.3 L785 459.4 L785.2 457.1 L785.1 454.9 L784.6 452.1 L784.2 449.5 L784.7 446.5 L784.9 443.7 L784.8 441.7 L784.6 438 L785 435.4 L785.5 432.5 L785.7 430.7 L785.8 427.6 L785.4 425.1" stroke="#3b2bb0" stroke-width="5.55" />
<path d="M785.4 425.1 L785.8 422.2 L785.7 419.6 L785.9 417.3 L786 414 L785.3 411.6 L785.4 408.8 L784.9 405.9 L784.9 403.6 L785.7 401.2 L785.6 398.5 L785.8 395.3 L785.7 391.9 L785.7 389.7 L785.6 387.2 L786.6 384.7 L786.6 382.2 L786.6 380.3 L786.6 377.2 L787.2 375.1 L786.4 372.9 L786.6 370.4 L786.5 368 L786.6 365.4" stroke="#3b2bb0" stroke-width="5.45" />
<path d="M786.6 365.4 L785.7 362.4 L786.1 360 L784.9 357.5 L784.7 353.9 L784.5 351.3 L784.2 349.1 L783.7 346.8 L783.3 344.3 L783.5 341.5 L783 339 L782.7 337 L782.5 334.1 L782.4 330.7 L782.3 328.5 L781.1 325.8 L781.6 322.3 L782.4 319.9 L782.4 316.7 L782.6 313.8 L782.2 311.3 L782.3 309.1" stroke="#3b2bb0" stroke-width="5.35" />
<path d="M782.3 309.1 L782.8 306.4 L783.5 304.1 L784 301.9 L784.3 299.5 L783.7 297.3 L782.4 294.6 L781.9 292.1 L781.7 289.7 L780.5 286.8 L780.5 285 L779.9 281.7 L779.2 279.4 L778.5 277.7 L777.7 275.4 L777.9 272.3 L777 270.1 L777.2 267.8 L776.1 264.8 L775.7 263.2 L775.4 260.6 L775.1 258.3 L774.8 255.4 L774.9 253.3 L774.4 251.2" stroke="#3b2bb0" stroke-width="5.25" />
<path d="M774.4 251.2 L774.3 248 L773.4 245.7 L773.2 244.1 L773.2 240.8 L772.6 239.2 L773.1 236.4 L772.9 233.7 L773.2 231.6 L773.3 229.4 L772.8 226.3 L773.3 224 L773.9 220.4 L773.8 217.9 L774.5 215.3 L775.4 212.6 L776 210.3 L777.3 207.2 L778.5 205.7 L778.9 202.6 L780.4 200.5 L780.8 198.4 L781.9 196.2" stroke="#3b2bb0" stroke-width="5.15" />
<path d="M799.5 539.9 L799 537.2 L799.2 534.2 L799.2 531.8 L798.3 528.4 L798.4 525.6 L797.7 523.2 L797.4 521.2 L797.2 518.2 L796.7 516.2 L796.4 513.5 L795.6 511 L796 509.4 L794.6 507 L795 504.5 L793.6 502.1 L793.4 499.5 L792.9 496.9 L792.7 495.1 L791.8 493 L791.3 489.9 L790.2 487.4 L789.5 485.7 L789.8 482.9" stroke="#8a7ee0" stroke-width="2.15" stroke-opacity="0.75"/>
<path d="M789.8 482.9 L788.7 480.9 L788.8 478.8 L787.7 476.4 L787.8 474 L786.8 471 L786.9 468.8 L785.9 466.6 L785.4 464.5 L784.8 461.3 L785 459.4 L785.2 457.1 L785.1 454.9 L784.6 452.1 L784.2 449.5 L784.7 446.5 L784.9 443.7 L784.8 441.7 L784.6 438 L785 435.4 L785.5 432.5 L785.7 430.7 L785.8 427.6 L785.4 425.1" stroke="#8a7ee0" stroke-width="2.11" stroke-opacity="0.75"/>
<path d="M785.4 425.1 L785.8 422.2 L785.7 419.6 L785.9 417.3 L786 414 L785.3 411.6 L785.4 408.8 L784.9 405.9 L784.9 403.6 L785.7 401.2 L785.6 398.5 L785.8 395.3 L785.7 391.9 L785.7 389.7 L785.6 387.2 L786.6 384.7 L786.6 382.2 L786.6 380.3 L786.6 377.2 L787.2 375.1 L786.4 372.9 L786.6 370.4 L786.5 368 L786.6 365.4" stroke="#8a7ee0" stroke-width="2.07" stroke-opacity="0.75"/>
<path d="M786.6 365.4 L785.7 362.4 L786.1 360 L784.9 357.5 L784.7 353.9 L784.5 351.3 L784.2 349.1 L783.7 346.8 L783.3 344.3 L783.5 341.5 L783 339 L782.7 337 L782.5 334.1 L782.4 330.7 L782.3 328.5 L781.1 325.8 L781.6 322.3 L782.4 319.9 L782.4 316.7 L782.6 313.8 L782.2 311.3 L782.3 309.1" stroke="#8a7ee0" stroke-width="2.03" stroke-opacity="0.75"/>
<path d="M782.3 309.1 L782.8 306.4 L783.5 304.1 L784 301.9 L784.3 299.5 L783.7 297.3 L782.4 294.6 L781.9 292.1 L781.7 289.7 L780.5 286.8 L780.5 285 L779.9 281.7 L779.2 279.4 L778.5 277.7 L777.7 275.4 L777.9 272.3 L777 270.1 L777.2 267.8 L776.1 264.8 L775.7 263.2 L775.4 260.6 L775.1 258.3 L774.8 255.4 L774.9 253.3 L774.4 251.2" stroke="#8a7ee0" stroke-width="2" stroke-opacity="0.75"/>
<path d="M774.4 251.2 L774.3 248 L773.4 245.7 L773.2 244.1 L773.2 240.8 L772.6 239.2 L773.1 236.4 L772.9 233.7 L773.2 231.6 L773.3 229.4 L772.8 226.3 L773.3 224 L773.9 220.4 L773.8 217.9 L774.5 215.3 L775.4 212.6 L776 210.3 L777.3 207.2 L778.5 205.7 L778.9 202.6 L780.4 200.5 L780.8 198.4 L781.9 196.2" stroke="#8a7ee0" stroke-width="1.96" stroke-opacity="0.75"/>
<path d="M781.9 196.2 L782.5 193.9 L783.7 192 L785 188.7 L785.2 187.1 L786.2 184.8 L786.6 182.3 L787 179.6 L788.1 177.9 L788.9 175.3 L789.1 173.1 L790.4 170.5" stroke="#3b2bb0" stroke-width="4.03" />
<path d="M790.4 170.5 L791.1 168 L791.9 165.7 L792.2 163.3 L793.3 161.6 L794.7 158.6 L795.6 156 L796.9 153.5 L797.8 151.9 L799.5 149" stroke="#3b2bb0" stroke-width="3.89" />
<path d="M799.5 149 L800.6 146.6 L801.2 144.2 L802.3 142.1 L803.7 140.1 L804.6 137.2 L805.3 134.8 L805.1 131.7 L806.2 129.5 L806.7 126.1" stroke="#3b2bb0" stroke-width="3.75" />
<path d="M781.9 196.2 L782.5 193.9 L783.7 192 L785 188.7 L785.2 187.1 L786.2 184.8 L786.6 182.3 L787 179.6 L788.1 177.9 L788.9 175.3 L789.1 173.1 L790.4 170.5" stroke="#8a7ee0" stroke-width="1.53" stroke-opacity="0.75"/>
<path d="M790.4 170.5 L791.1 168 L791.9 165.7 L792.2 163.3 L793.3 161.6 L794.7 158.6 L795.6 156 L796.9 153.5 L797.8 151.9 L799.5 149" stroke="#8a7ee0" stroke-width="1.48" stroke-opacity="0.75"/>
<path d="M799.5 149 L800.6 146.6 L801.2 144.2 L802.3 142.1 L803.7 140.1 L804.6 137.2 L805.3 134.8 L805.1 131.7 L806.2 129.5 L806.7 126.1" stroke="#8a7ee0" stroke-width="1.42" stroke-opacity="0.75"/>
<path d="M806.7 126.1 L808 124.8 L809.4 123.4 L811.1 121 L813.9 118.8 L815.3 116.6 L817.2 114.8 L820.4 113.9 L822.7 113.1 L825.6 113 L827.6 113.3 L829.7 115.1 L832.1 113.3" stroke="#3b2bb0" stroke-width="2.47" stroke-opacity="0.95"/>
<path d="M832.1 113.3 L834.8 113.2 L836.8 111.6 L839.2 111.1 L841.9 109.4 L843.9 107.1 L845.3 105.9 L847.6 103.7 L849.7 101.8 L850.3 100.4 L851.5 99.1 L853.1 96.5" stroke="#3b2bb0" stroke-width="2.27" stroke-opacity="0.95"/>
<path d="M853.1 96.5 L854.6 93.7 L855.7 91 L857.4 89 L858.7 86 L859.6 84.2 L861.3 81.8 L863.2 80.1 L865.8 78.3 L867.8 76.9 L869.5 75.2 L871.6 73.4" stroke="#3b2bb0" stroke-width="2.08" stroke-opacity="0.95"/>
<path d="M871.6 73.4 L873.6 71.3 L874.6 68.9 L875.4 67.2 L876.3 64.5 L877.1 62.9 L877.6 59.9 L878.5 58.4 L879.5 55.1 L881.3 53.5 L883 50.9 L884.6 48.4" stroke="#3b2bb0" stroke-width="1.89" stroke-opacity="0.95"/>
<path d="M884.6 48.4 L885.8 46 L886.5 43.9 L888.1 42.2 L890.1 39.8 L891.9 37.9 L892.6 35.6 L894.7 34.3 L895.1 30.9 L896.6 28.6 L897.7 26.4 L898.2 23.7" stroke="#3b2bb0" stroke-width="1.69" stroke-opacity="0.95"/>
<path d="M898.2 23.7 L899.3 21.3 L899.6 19.2 L900.1 16.6 L900.8 14 L901.9 11.7 L903.4 9.8 L905.7 8.5 L908.1 6.6 L909.2 4.6 L911.5 4 L914 3.3" stroke="#3b2bb0" stroke-width="1.5" stroke-opacity="0.95"/>
<path d="M802.1 142.1 L802.5 138.8 L803.8 136.2 L803.6 134.2 L803.7 131.5 L804 129.4 L804.8 126.3 L804.8 124.4 L804.4 121.4 L804.7 119.4 L804.1 116.7 L804.2 114 L803.9 111.9 L803.2 109.4 L802.2 106.8 L801.5 103.6 L799.9 101.4" stroke="#c4d034" stroke-width="1.64" stroke-opacity="0.95"/>
<path d="M781.5 195.2 L780.7 193.3 L778.9 189.9 L777.5 188.4 L776.2 186 L775.2 183.4 L773.7 180.4 L772.9 177.9 L771.1 176.4 L770.1 173.9 L769 170.7" stroke="#c4a038" stroke-width="3.52" stroke-opacity="0.95"/>
<path d="M769 170.7 L767.2 169 L766.7 165.9 L765.5 163.7 L764.4 161.1 L763 159.6 L762.3 157.2 L761.1 154.4 L760.1 152 L759.4 150.3 L759 148.1" stroke="#c4a038" stroke-width="3.21" stroke-opacity="0.95"/>
<path d="M759.5 132.1 L761.6 130.8 L764.5 128.7 L765.6 127.1 L767.4 124.9 L768 123.5 L769.9 121.3 L770.5 118.2 L771.8 115.6 L772.8 113.5 L774.4 111.1 L776.4 109.2" stroke="#c4a038" stroke-width="2.23" stroke-opacity="0.95"/>
<path d="M776.4 109.2 L778.7 108.5 L780.5 107.1 L782.2 105 L783.9 102.2 L784.9 99.3 L786.4 97.5 L787.6 94.5 L788.8 91.8 L790.6 89.3" stroke="#c4a038" stroke-width="2.04" stroke-opacity="0.95"/>
<path d="M790.6 89.3 L791.4 87.8 L792.3 85.1 L793.6 82.5 L794.6 80.2 L796.4 78.6 L797.7 75.7 L798.7 73.8 L799.5 71.2 L800 68.9 L800.6 65.9 L802.3 62.9" stroke="#c4a038" stroke-width="1.86" stroke-opacity="0.95"/>
<path d="M802.3 62.9 L802.4 60.9 L802.4 58 L803.3 55.3 L803.7 52.8 L804.3 50.8 L805.2 48.2 L805.9 46.2 L806.2 44 L808 42.5 L810 40.6 L811.8 38.6" stroke="#c4a038" stroke-width="1.68" stroke-opacity="0.95"/>
<path d="M811.8 38.6 L813.2 36.5 L815.4 34.9 L816.5 32.9 L818.3 30.6 L819.2 29.2 L819.5 26.7 L819.8 24.6 L819.9 21.4 L820.9 19.7 L822.5 16.8" stroke="#c4a038" stroke-width="1.49" stroke-opacity="0.95"/>
<path d="M759 148.1 L759.4 144.7 L758.7 141.8 L758.7 138.9 L759.5 136.8 L759.2 134 L759.2 132.6 L759.4 129.5 L759.1 127.4 L758.5 124 L757.5 121.6 L756.5 118.8" stroke="#c0c83c" stroke-width="2.45" stroke-opacity="0.95"/>
<path d="M756.5 118.8 L755.1 116.4 L753.9 113.5 L752.5 111.6 L751.1 108.7 L750.2 106.8 L748.3 104.8 L747.3 102.6 L745.6 101.4 L742.2 99.9 L739.8 99.1 L737.9 96.5" stroke="#c0c83c" stroke-width="2.22" stroke-opacity="0.95"/>
<path d="M737.9 96.5 L736.4 94.9 L736.5 92.3 L735.9 90.1 L733.8 87.8 L730.4 89.1 L730.4 90.7 L730 93.2 L726.4 91.1 L724.3 88 L722.8 85.9" stroke="#c0c83c" stroke-width="2" stroke-opacity="0.95"/>
<path d="M722.8 85.9 L720.9 84.2 L719.6 82.6 L717 80.7 L714.8 80 L712.5 79.4 L709.5 79.3 L707.4 77.4 L705.5 76.3 L702.7 76.2 L699.4 75.5 L696.7 76" stroke="#c0c83c" stroke-width="1.77" stroke-opacity="0.95"/>
<path d="M696.7 76 L694.5 75.1 L691.6 73.4 L689.3 72.8 L687.1 70.9 L685.3 70.3 L682.1 69.3 L680.2 68 L677.1 67.1 L675.7 65 L674.5 63.2 L672.6 60.6" stroke="#c0c83c" stroke-width="1.54" stroke-opacity="0.95"/>
<path d="M672.6 60.6 L670.3 58.9 L669.5 56.9 L669.3 53.7 L668.8 51.2 L668.9 49 L668.2 46.3 L667.4 43.7 L667.8 41.7 L667.5 38.6 L665.5 36.2 L664.5 34.5" stroke="#c0c83c" stroke-width="1.31" stroke-opacity="0.95"/>
<path d="M758.5 149.1 L755.5 147 L753.5 145.1 L751.6 143 L749.8 140.8 L749.4 138.6 L748.1 135.9 L748 133.5 L747.6 130.9 L745.9 128.9 L744.5 126.3" stroke="#c4a038" stroke-width="2.15" stroke-opacity="0.95"/>
<path d="M744.5 126.3 L743.6 123.6 L741.9 121.5 L741.8 118.7 L741.5 115.6 L742 112.6 L741.2 110.6 L739.8 108.7 L739 107.1 L737.8 105 L735.7 103.7 L733.3 101.7" stroke="#c4a038" stroke-width="1.82" stroke-opacity="0.95"/>
<path d="M733.3 101.7 L731.8 100.1 L729.9 98.7 L727.1 97.2 L725.8 96.6 L723.4 94.9 L721.3 93.8 L719.7 91.6 L717.5 90.4 L715.8 88.7 L714.5 86.3 L713.2 84.6" stroke="#c4a038" stroke-width="1.49" stroke-opacity="0.95"/>
<path d="M713.2 84.6 L711.6 82.6 L709.4 81.5 L706.8 80.1 L704.3 79.7 L701.4 77.5 L699 77.9 L696.6 77.7 L694.1 77.4 L691.7 77.3 L688.5 77.4" stroke="#c4a038" stroke-width="1.16" stroke-opacity="0.95"/>
<path d="M787.5 377.2 L790.3 375.6 L793.2 374.4 L795.9 374 L797.9 372.2 L799.3 370.7 L801.8 369.5 L803.9 367.8 L805.5 367.2 L807.6 365.6 L809.1 363.8" stroke="#c4a038" stroke-width="1.93" stroke-opacity="0.95"/>
<path d="M809.1 363.8 L811.3 363.2 L813.8 361.2 L815.9 359.7 L817.6 359.3 L819.3 358 L821.7 355.1 L823.3 353.5 L825.2 351.7 L826.8 349.8 L828.5 347.1" stroke="#c4a038" stroke-width="1.64" stroke-opacity="0.95"/>
<path d="M828.5 347.1 L830.4 345.1 L832 343.8 L833.6 341.4 L834.6 339.7 L836.3 338 L837.9 336.1 L839.8 334.1 L841.7 332.1 L843.2 330.9 L845.5 328.5" stroke="#c4a038" stroke-width="1.35" stroke-opacity="0.95"/>
<path d="M783.5 460.7 L780.7 460.4 L778.5 459.4 L775.1 458.3 L773.4 457.1 L770.5 456.2 L767.6 454.9 L765.2 453.7 L763.5 452.3 L761.2 451.1 L759.2 449.6 L757.2 449.1 L754.8 447.7" stroke="#5cb458" stroke-width="2.43" stroke-opacity="0.95"/>
<path d="M754.8 447.7 L751.7 446.5 L749.5 445 L748.1 442.6 L746.2 440.4 L744.7 437.7 L743 435.6 L740.9 434.1 L738.6 432.6 L735.6 431.4 L733.6 430.3" stroke="#5cb458" stroke-width="2.16" stroke-opacity="0.95"/>
<path d="M733.6 430.3 L731.7 428 L729.2 426.9 L728 424.8 L725.6 423.8 L723.8 421.5 L721.8 419.6 L719.9 417.1 L717.9 415.5 L715.4 413.2 L713.6 411.9 L712.5 409.3" stroke="#5cb458" stroke-width="1.88" stroke-opacity="0.95"/>
<path d="M712.5 409.3 L710.5 407.3 L708.8 405.3 L707.3 404.1 L706.5 401.4 L704.5 398.6 L703.3 396.5 L701.8 393.7 L698.5 392.4 L696.5 391.2 L693.1 389.8" stroke="#5cb458" stroke-width="1.61" stroke-opacity="0.95"/>
<path d="M693.1 389.8 L691.7 387.2 L690.6 385.7 L688.7 383.2 L689.3 381.3 L689.8 378.5 L690.2 375.8 L690.9 373.1 L692 371.2 L692.9 368.3 L693 366.1 L692.5 363.5" stroke="#5cb458" stroke-width="1.34" stroke-opacity="0.95"/>
<path d="M784.5 431.7 L782.6 429.6 L780.3 428.6 L777.3 427 L775.2 425.1 L773.5 423.9 L771.5 423.3 L769.7 421.8 L766.9 420.4 L764.8 418.8 L762.4 417.5 L759.4 415.2 L757.7 414.6 L755.3 412.9" stroke="#c4a038" stroke-width="2.13" stroke-opacity="0.95"/>
<path d="M755.3 412.9 L753.8 411.7 L751 410 L749 408.2 L747.8 407.3 L745.6 406.1 L743.3 404.6 L741.4 403.9 L739.6 401.4 L737.1 399.4 L735.7 397.5 L733.7 396.6 L731.1 395.3 L729 394.2" stroke="#c4a038" stroke-width="1.76" stroke-opacity="0.95"/>
<path d="M729 394.2 L727.2 392.4 L725.5 391.7 L722.2 391.5 L720.1 390.7 L717.4 389.6 L715.5 389.1 L713 388.3 L710.3 387.7 L707.5 387.1 L705 386.1 L703.2 384.1 L701.1 382" stroke="#c4a038" stroke-width="1.39" stroke-opacity="0.95"/>
<path d="M769.5 456.7 L766.6 455.4 L763.8 454.5 L761.9 453.3 L758.6 453.5 L756.3 453 L752.7 452.7 L750.2 452.8 L747.4 452.3 L744.8 452 L741.9 452.3 L739.5 452.1 L736.2 452.6" stroke="#c0c83c" stroke-width="1.64" stroke-opacity="0.95"/>
<path d="M736.2 452.6 L733.1 452.4 L730.9 452.7 L727.8 453.4 L725.5 453.9 L722.5 453.7 L719.3 454.3 L717.6 455.6 L714.3 455.8 L712.4 455.8 L709.8 457 L707.6 457 L705.1 457.7" stroke="#c0c83c" stroke-width="1.28" stroke-opacity="0.95"/>
<path d="M795.5 522.2 L793.1 521.8 L790.2 521.6 L788 521.6 L785.3 520.7 L782.4 520.1 L780.2 518.9 L777.3 517.5 L775.1 517.2 L772.8 515.7 L769.6 514.8 L767.9 513.5 L765.3 512.9" stroke="#34a8c4" stroke-width="2.41" stroke-opacity="0.95"/>
<path d="M765.3 512.9 L762.5 512.2 L760.1 511.9 L758.4 511.9 L755.2 510.6 L753.5 510.1 L750.5 510 L747.9 509.4 L745.8 509.1 L744 508.6 L740.8 508.8 L738.7 508.3 L736.4 507.9" stroke="#34a8c4" stroke-width="2.09" stroke-opacity="0.95"/>
<path d="M736.4 507.9 L733.7 506.9 L731.8 506.8 L729.1 506.2 L726.8 505.1 L723.9 505 L721.5 503.6 L719.6 502.3 L717.8 500.8 L715.8 500.1 L713.4 499.2 L711.5 496.8 L709.6 495.3" stroke="#34a8c4" stroke-width="1.77" stroke-opacity="0.95"/>
<path d="M709.6 495.3 L708.5 493.7 L706.4 492.1 L704.9 489.6 L704.1 488.2 L702.9 486 L701.8 483.7 L700.9 481.3 L699.3 478.3 L698.8 475.6 L698.2 473.8 L698.5 471.1 L698.5 468.7" stroke="#34a8c4" stroke-width="1.46" stroke-opacity="0.95"/>
<path d="M798.5 504.8 L800.7 502.7 L802.1 499.6 L803.7 497.7 L805.8 496.1 L807.7 493.9 L809.4 492.1 L811.3 490.5 L813.8 488.7 L815.2 486.7 L817.8 484.8" stroke="#34a8c4" stroke-width="2.45" stroke-opacity="0.95"/>
<path d="M817.8 484.8 L820.3 483.8 L822.5 482.3 L824.8 480.9 L826.7 479.4 L829.7 477.9 L831.7 476.3 L834.4 476.1 L836.5 474.5 L838.8 473.3" stroke="#34a8c4" stroke-width="2.22" stroke-opacity="0.95"/>
<path d="M838.8 473.3 L841.7 473.2 L844.2 471.6 L846.5 470.3 L849 469.6 L850.6 468.9 L853.1 467.5 L855.6 465.7 L858.6 464 L858.5 461" stroke="#34a8c4" stroke-width="2" stroke-opacity="0.95"/>
<path d="M858.5 461 L859.1 457.4 L861.6 455.5 L863.3 453.8 L865.2 452 L867.2 450 L869.8 447.7 L871 446 L873 443.7 L875.4 441.2" stroke="#34a8c4" stroke-width="1.77" stroke-opacity="0.95"/>
<path d="M875.4 441.2 L877.6 440.4 L879.6 438.6 L881.5 437.3 L883.2 436 L886.4 435.1 L888.8 433.7 L891.2 432.6 L893.1 431.8 L895.5 431.4" stroke="#34a8c4" stroke-width="1.54" stroke-opacity="0.95"/>
<path d="M895.5 431.4 L898.1 431.2 L900.1 430.9 L902.6 431 L904.8 431.5 L907.5 431.2 L909.8 431.3 L912.4 430.6 L915.4 430.9 L918.4 430.7 L920.5 430.3" stroke="#34a8c4" stroke-width="1.31" stroke-opacity="0.95"/>
<path d="M799.5 514.8 L802.8 514.8 L804.9 513.7 L806.2 512 L808.6 512.5 L812.6 510.7 L814.4 508.9 L816.9 508 L821.1 506.7 L822 505.6 L825.2 506.1 L828.5 504.4" stroke="#3b2bb0" stroke-width="3.28" stroke-opacity="0.95"/>
<path d="M828.5 504.4 L829.8 502.9 L832.4 503.2 L835.4 502.7 L838.7 502.1 L840.5 501.9 L842.3 500.3 L845.6 500.8 L847 501.2 L848.6 503.3 L851.9 504.2 L854.4 502.1 L855.9 500.9" stroke="#3b2bb0" stroke-width="2.49" stroke-opacity="0.95"/>
<path d="M855.9 500.9 L858.1 500.6 L858.8 497.9 L861 497.7 L863.3 495.5 L866.8 497.5 L868.8 496.8 L872.2 498.3 L873.5 498.8 L877.2 500.7 L879.7 501.1 L882.5 501.8" stroke="#3b2bb0" stroke-width="1.7" stroke-opacity="0.95"/>
<path d="M788.5 558.4 L785.5 558.4 L783.4 558.8 L779.9 559.3 L777.1 559.2 L774.8 559.9 L772.3 560.4 L769.5 560.5" stroke="#3b2bb0" stroke-width="4.1" />
<path d="M788.5 558.4 L785.5 558.4 L783.4 558.8 L779.9 559.3 L777.1 559.2 L774.8 559.9 L772.3 560.4 L769.5 560.5" stroke="#8a7ee0" stroke-width="1.56" stroke-opacity="0.75"/>
<path d="M769.5 559.9 L767.4 558.1 L765.7 556.8 L763.5 555.8 L761.7 554.4 L759.2 552.7 L757.7 550.9 L754.5 550.3 L752.3 548.5 L749.2 548.4 L746.6 548.1 L744.5 548.9 L741.6 549.1 L739 547.7 L737.5 547.4" stroke="#3d8ae0" stroke-width="2.69" stroke-opacity="0.95"/>
<path d="M737.5 547.4 L736 545.2 L733.7 542.1 L732.6 540.6 L731.2 538 L730.7 536 L729.4 533.6 L727.4 531.4 L726.8 529.5 L725.7 527.6 L723.7 525.2 L722.4 522.4" stroke="#2fa888" stroke-width="2.38" stroke-opacity="0.95"/>
<path d="M722.4 522.4 L721.1 520.1 L721.1 517.7 L719.5 515.2 L719.3 512.6 L718.5 509.9 L716.9 508.1 L714.7 505.4 L713.5 503.6 L710.9 501.3 L708.5 499.8" stroke="#2fa888" stroke-width="2.01" stroke-opacity="0.95"/>
<path d="M749.5 548.4 L747.3 548 L745 548.9 L742.3 548.3 L740.1 548.5 L737.4 548.5 L735.5 549.4 L732.4 549.5 L730.2 550.7 L727.8 550.5 L724.9 551 L722.8 551.2 L720.1 552.4" stroke="#3d8ae0" stroke-width="2.23" stroke-opacity="0.95"/>
<path d="M720.1 552.4 L717.8 551.8 L714.7 552.2 L712.9 552.9 L710.3 553 L707.8 553.4 L705.6 553.9 L703.3 554.1 L701.1 554.4 L698.5 553.9 L696.1 555 L693.4 555.3 L690.7 556.3" stroke="#3d8ae0" stroke-width="2.04" stroke-opacity="0.95"/>
<path d="M690.7 556.3 L688.4 557.1 L685.8 557.7 L683.3 558.7 L681.1 560 L680 561.3 L677.9 562.6 L675.8 563.9 L673.1 564.2 L669.9 565.3 L667 566.2" stroke="#3d8ae0" stroke-width="1.86" stroke-opacity="0.95"/>
<path d="M667 566.2 L665.2 566.5 L662 566.1 L659.8 565.9 L657.1 564.9 L653.8 564.4 L651.3 563.5 L648.7 562.8 L646.6 561.7 L643.5 561.6 L640.9 561.2 L638.1 560.6" stroke="#3d8ae0" stroke-width="1.68" stroke-opacity="0.95"/>
<path d="M638.1 560.6 L635.7 560 L632.1 559.4 L629.3 560.3 L626 560.7 L623.7 562.4 L621.2 561.6 L619.7 561.6 L618.2 560.2 L616.2 558.2 L615 556.8 L614.5 554.9" stroke="#3d8ae0" stroke-width="1.49" stroke-opacity="0.95"/>
<path d="M769.5 560.5 L766.7 561.1 L765 562.4 L762.1 563.2 L759.6 564.1 L756.6 564.2 L753.7 564.8 L751.4 565.6 L748.4 566.9 L746.6 568.1 L743.3 569.2 L740.5 569.5 L738 570.8" stroke="#5cb458" stroke-width="2.56" stroke-opacity="0.95"/>
<path d="M738 570.8 L735.7 571.9 L733.1 572.5 L730.6 573.8 L727.8 574.5 L725.2 575.3 L722.5 576.6 L719.7 576.7 L716.3 576.6 L714.6 576.6 L711.7 577 L709.2 575.6" stroke="#5cb458" stroke-width="2.06" stroke-opacity="0.95"/>
<path d="M709.2 575.6 L706.1 574.5 L705 572.3 L702.7 570 L700.2 568.7 L698 568.7 L694.7 570.4 L695.2 572.2 L695.1 574.2 L697.3 575 L699.5 576 L702.5 573.9" stroke="#5cb458" stroke-width="1.55" stroke-opacity="0.95"/>
<path d="M759.5 564.9 L756.7 566.5 L754.3 567.3 L752.3 568.4 L749.2 569.7 L746.9 571.1 L744.6 572.4 L742.4 573.2 L739.7 575.3 L736.7 575.7 L734.4 577.1" stroke="#3d8ae0" stroke-width="1.85" stroke-opacity="0.95"/>
<path d="M734.4 577.1 L732 578.9 L729.1 579.6 L727 581.1 L724.2 582.9 L721.6 584 L719.4 585.9 L717.7 586.8 L714.6 587.2 L713 588.3 L710.5 589" stroke="#3d8ae0" stroke-width="1.42" stroke-opacity="0.95"/>
<path d="M745.5 573.9 L745.4 577.4 L744.9 579.6 L745.2 583 L744.8 585.6 L745.2 588.7 L744.5 592" stroke="#2fa888" stroke-width="1.57" stroke-opacity="0.95"/>
<path d="M755.5 566.9 L752.6 567.9 L750.9 569.4 L748.2 570.3 L745.5 571.8 L743.2 573.6 L741.4 574.6 L740 576.4 L737.2 577.5 L735.2 579.5 L732 580.9 L730.2 582.5" stroke="#2fa888" stroke-width="2.43" stroke-opacity="0.95"/>
<path d="M730.2 582.5 L727.2 584 L725.1 585.6 L722.1 587.3 L720.4 588.7 L717.9 589.8 L715.4 591.2 L712.2 593.1 L710.4 594.1 L707.2 595.5 L704.9 596.6" stroke="#2fa888" stroke-width="2.17" stroke-opacity="0.95"/>
<path d="M704.9 596.6 L702.2 598.2 L700.1 599.4 L697.4 600.2 L694.3 601.1 L691.9 601.3 L689.5 602.4 L687.5 604.2 L685.6 605.1 L683.8 606.7 L681.3 607.6 L677.9 608.8" stroke="#2fa888" stroke-width="1.9" stroke-opacity="0.95"/>
<path d="M677.9 608.8 L675.3 608.9 L672.3 609.7 L669 609.9 L667.4 611.8 L665.5 613.1 L665.3 616 L666.6 618.2 L667.1 619.8 L669.1 620 L671.5 619" stroke="#2fa888" stroke-width="1.63" stroke-opacity="0.95"/>
<path d="M747.5 569.9 L745.1 571.6 L743.5 574 L741.9 575.5 L740.7 578.1 L740.6 580.9 L739.9 583.8 L739.7 586.3 L739 588.4 L737.9 591.2 L736.1 594.4 L735.4 596 L734.8 598.8 L734.7 601.9 L733.4 604 L733.1 606.8" stroke="#3b2bb0" stroke-width="2.9" stroke-opacity="0.95"/>
<path d="M733.1 606.8 L732.2 609 L730.9 611.3 L730.7 614.1 L729.8 616.8 L729 618.5 L727.1 621.6 L726.6 623.3 L725.7 625.8 L724.2 628.3 L723.5 631 L722.1 633.5 L721.6 635.6 L720.7 638.4 L719.3 640.8" stroke="#3b2bb0" stroke-width="2.59" stroke-opacity="0.95"/>
<path d="M719.3 640.8 L719.2 643.8 L718.4 646 L718 649.4 L715.2 650.8 L714 652.3 L711.4 654.8 L709.9 655.8 L708.7 658.4 L707.7 661.2 L706.1 663 L705.2 665.5 L704 667.8 L703 670.1 L701.3 672.2" stroke="#3b2bb0" stroke-width="2.28" stroke-opacity="0.95"/>
<path d="M701.3 672.2 L700.7 674.2 L698.8 676.3 L697.4 677.8 L695.5 679.2 L693.7 680.8 L691.4 683.1 L689.8 684.5 L687.6 685.8 L685.7 687.6 L683.6 689.6 L682.1 691.3 L681 693.9 L679.4 696.4 L677.6 697.9 L675.5 700.2" stroke="#3b2bb0" stroke-width="1.97" stroke-opacity="0.95"/>
<path d="M675.5 700.2 L674.7 702 L672.6 703.7 L671.2 706.4 L669.8 708.4 L668.8 711.4 L668.2 713.2 L666.1 716.7 L665 717.5 L662.3 719.6 L660.3 721.2 L658.5 722.7 L656.1 724.2 L654.2 725.8 L653.4 728.9 L651.8 731.5" stroke="#3b2bb0" stroke-width="1.66" stroke-opacity="0.95"/>
<path d="M651.8 731.5 L651 733.6 L649.5 736 L648.5 738.3 L646.3 739.9 L645.5 742.2 L644.1 744 L642.8 746.6 L641.3 748.9 L640.7 751.5 L640.6 754.1 L639.2 755.9 L638.3 758.4 L636.5 760 L635.5 762.3" stroke="#3b2bb0" stroke-width="1.35" stroke-opacity="0.95"/>
<path d="M807.5 557.9 L809.9 558.5 L812.3 559.7 L814.3 560.8 L816.8 561.8 L818.5 562.4 L821 562.7 L823.6 563.7 L826.3 564.6 L828.5 564.7 L831.5 565.5" stroke="#3b2bb0" stroke-width="3.7" />
<path d="M807.5 557.9 L809.9 558.5 L812.3 559.7 L814.3 560.8 L816.8 561.8 L818.5 562.4 L821 562.7 L823.6 563.7 L826.3 564.6 L828.5 564.7 L831.5 565.5" stroke="#8a7ee0" stroke-width="1.41" stroke-opacity="0.75"/>
<path d="M831.5 565.5 L834.5 565.9 L836.2 566.6 L840 568.5 L841.9 570.4 L844 570.9 L845.2 573.3 L847.4 574.1 L850.1 574.1 L853.5 575.3 L856.8 577.1 L858.4 576.4 L860.3 577.5 L863.5 577.7" stroke="#3b2bb0" stroke-width="3.05" />
<path d="M863.5 577.7 L866.4 578.3 L869 577.7 L870.2 578.5 L873.5 578.5 L876.3 577.9 L878.2 577.9 L881.4 577.9 L883.3 576.9 L886.7 577.7 L888.5 576.2 L890.6 577.2 L892.7 576.1" stroke="#3b2bb0" stroke-width="2.35" />
<path d="M892.7 576.1 L896.4 577.7 L896.8 578.4 L899.7 579.6 L899.7 583.4 L902 585.9 L902.4 588.1 L904.1 591.5 L905.7 592.6 L908.5 594.5 L908.9 596.6 L911.1 599.6" stroke="#3b2bb0" stroke-width="1.65" />
<path d="M831.5 562.9 L833 560.6 L835.4 557.9 L836.6 556.2 L839 554.1 L840.9 552.3 L844 550.5 L845.3 549.9 L847.9 548.8 L849.5 547.6 L851.6 545.7 L854 545.3" stroke="#3b2bb0" stroke-width="2.47" stroke-opacity="0.95"/>
<path d="M854 545.3 L856.7 544 L858.7 544.1 L861.1 543.2 L864.1 542.2 L866.9 542 L870.4 541.3 L873.1 541.1 L875.2 541.1 L878.1 540.6 L881 541.2" stroke="#3b2bb0" stroke-width="2.27" stroke-opacity="0.95"/>
<path d="M881 541.2 L884.3 540.9 L886.2 541.1 L889.6 541.3 L892.8 540.9 L895.4 541.6 L897.7 541.3 L900.6 541.5 L903.4 541.5 L905.6 542.1 L908.2 541.6 L911.1 541.5" stroke="#3b2bb0" stroke-width="2.08" stroke-opacity="0.95"/>
<path d="M911.1 541.5 L912.8 541.5 L915.8 541.4 L918.1 540.8 L920.6 540.1 L922.9 539.9 L925.4 539.4 L927.5 539.3 L930.2 538.9 L932.6 539 L935.1 537.9 L937.5 538.1" stroke="#3b2bb0" stroke-width="1.89" stroke-opacity="0.95"/>
<path d="M937.5 538.1 L939.7 537.6 L941.4 537.6 L944.3 536.9 L946.5 537 L949.4 536.9 L951.2 536.1 L953.6 536.1 L956.1 536.3 L959 536.7 L960.7 536.8 L963.7 537.2 L966 538" stroke="#3b2bb0" stroke-width="1.69" stroke-opacity="0.95"/>
<path d="M966 538 L968.8 539.1 L970.8 539.4 L973.9 539.8 L975.9 541.1 L977.3 542.3 L979.6 542.5 L982 543.1 L984.3 542.7 L986.6 543 L989.3 542.3 L991.5 542.5" stroke="#3b2bb0" stroke-width="1.5" stroke-opacity="0.95"/>
<path d="M836.9 555.9 L835.6 552.8 L835 550.1 L833.5 548 L832.7 545.3 L832.5 542.9" stroke="#5cb458" stroke-width="1.51" stroke-opacity="0.95"/>
<path d="M806.5 557.9 L806.8 560.5 L807.2 562.3 L807.7 565.4 L808.4 567.4 L808.2 570.2 L809.2 572.1 L809.7 575.2 L809.6 577 L810.3 580 L810.2 581.8 L810.7 585" stroke="#3b2bb0" stroke-width="2.9" stroke-opacity="0.95"/>
<path d="M810.7 585 L811 587.6 L811.7 590.5 L811.7 593.6 L813 596 L813 598.1 L813.3 600.8 L813.4 603.6 L813.2 606 L813.2 607.5 L814.3 610.9" stroke="#3b2bb0" stroke-width="2.59" stroke-opacity="0.95"/>
<path d="M814.3 610.9 L815.4 613.5 L815.8 616 L816.6 617.7 L817.8 620.7 L818.8 622.9 L819.9 625 L821.2 627.7 L822.5 629.6 L823.4 632.3 L825.5 635.1" stroke="#3b2bb0" stroke-width="2.28" stroke-opacity="0.95"/>
<path d="M825.5 635.1 L826.4 637 L828.1 639.3 L829.6 642.5 L830.8 644.2 L832.9 646.3 L834.5 648.3 L835.7 650.4 L837.9 651.6 L839.4 654.5 L840.1 656.7" stroke="#3b2bb0" stroke-width="1.97" stroke-opacity="0.95"/>
<path d="M840.1 656.7 L842.3 659.8 L843.1 662.1 L844.9 664.6 L845.8 666.4 L847 667.8 L848.2 670 L850 672.6 L850.8 675.2 L852.1 677.8 L852.8 680.7" stroke="#3b2bb0" stroke-width="1.66" stroke-opacity="0.95"/>
<path d="M852.8 680.7 L853.2 683.1 L853.9 686.1 L854.5 688.6 L854.5 690.4 L854.6 692.8 L854.2 695.3 L854.7 698.7 L854.9 700.4 L855.5 702.7 L856.1 705.2" stroke="#3b2bb0" stroke-width="1.35" stroke-opacity="0.95"/>
<path d="M815.5 560.9 L817.7 562.8 L818.7 565.5 L820.6 566.9 L822.3 569.9 L823.4 572.1 L825.4 574.3 L826.4 576.7 L828.1 579.6 L829.7 582.4 L830.5 583.8 L832.7 586.3" stroke="#3d8ae0" stroke-width="2.45" stroke-opacity="0.95"/>
<path d="M832.7 586.3 L833.8 588.1 L834.9 590.4 L836.5 591.9 L837.7 594.1 L839.9 597.3 L840.5 599.3 L842.5 602 L842.8 604.8 L843.1 606.8 L844.1 609.3 L844.1 611.4 L844.4 614.1" stroke="#3d8ae0" stroke-width="2.22" stroke-opacity="0.95"/>
<path d="M844.4 614.1 L845.8 616.3 L846.4 618.9 L847.4 621.9 L848.5 623.8 L848.9 626.8 L849.4 629 L849.8 630.9 L850.5 634 L851.1 635.8 L851.3 638.3 L852.2 641.3" stroke="#3d8ae0" stroke-width="2" stroke-opacity="0.95"/>
<path d="M852.2 641.3 L852.7 644 L852.6 646.5 L851.3 649 L850.9 650.8 L850.5 654 L849.4 655.7 L849.4 658.9 L848.6 661.6 L847.5 663.2 L847.1 665.6 L848 668.9 L847.8 671.1" stroke="#3d8ae0" stroke-width="1.77" stroke-opacity="0.95"/>
<path d="M847.8 671.1 L848.2 674.2 L848.2 677.1 L847.4 679.6 L846.9 681.5 L846.3 683.9 L846.8 687.1 L846.3 688.6 L845.6 691 L845.6 694 L845.1 696.2 L844.3 697.7 L842.8 700.5" stroke="#3d8ae0" stroke-width="1.54" stroke-opacity="0.95"/>
<path d="M842.8 700.5 L841.6 702.1 L840.1 703.8 L837.8 705.1 L836.7 707.1 L834.9 708.3 L831.8 709.6 L829.7 711.7 L827 713.5 L825.6 714.7 L822.7 716.5 L821 717.7" stroke="#3d8ae0" stroke-width="1.31" stroke-opacity="0.95"/>
<path d="M795.9 521.8 L795.3 529.9 L794.7 535.9 L794.7 540.9 L795.7 545.9 L797.5 549.9 L799.3 552.5 L801.3 549.9 L803.1 545.9 L804.1 540.9 L803.9 535.9 L802.7 529.9 L801.1 521.8Z" fill="#3b2bb0" stroke="none"/>
<path d="M798.9 525.8 L799.3 545.9" stroke="#8d80e8" stroke-width="2.6" stroke-opacity="0.8"/>
<path d="M790.9 558.2 L785.5 558.9" stroke="#3b2bb0" stroke-width="8.2" />
<path d="M795.5 557.9 L779.5 559.3" stroke="#3b2bb0" stroke-width="4.6" />
<path d="M792.5 557.5 L781.5 558.7" stroke="#8d80e8" stroke-width="2" stroke-opacity="0.8"/>
</g>
<g>
<line x1="1112.9" y1="4.5" x2="1112.9" y2="764.5" stroke="#858585" stroke-width="2"/>
<line x1="1111.9" y1="763.7" x2="1492.1" y2="763.7" stroke="#4a4a4a" stroke-width="1.7"/>
<line x1="1118.3" y1="756.2" x2="1118.3" y2="763.7" stroke="#4a4a4a" stroke-width="1.5"/>
<text x="1117.9" y="787.9" text-anchor="middle" class="tk">-150</text>
<line x1="1178.9" y1="756.2" x2="1178.9" y2="763.7" stroke="#4a4a4a" stroke-width="1.5"/>
<text x="1178.5" y="787.9" text-anchor="middle" class="tk">-100</text>
<line x1="1239.4" y1="756.2" x2="1239.4" y2="763.7" stroke="#4a4a4a" stroke-width="1.5"/>
<text x="1239" y="787.9" text-anchor="middle" class="tk">-50</text>
<line x1="1299.9" y1="756.2" x2="1299.9" y2="763.7" stroke="#4a4a4a" stroke-width="1.5"/>
<text x="1299.7" y="787.9" text-anchor="middle" class="tk">0</text>
<line x1="1360.4" y1="756.2" x2="1360.4" y2="763.7" stroke="#4a4a4a" stroke-width="1.5"/>
<text x="1360.2" y="787.9" text-anchor="middle" class="tk">50</text>
<line x1="1421" y1="756.2" x2="1421" y2="763.7" stroke="#4a4a4a" stroke-width="1.5"/>
<text x="1420.8" y="787.9" text-anchor="middle" class="tk">100</text>
<line x1="1481.5" y1="756.2" x2="1481.5" y2="763.7" stroke="#4a4a4a" stroke-width="1.5"/>
<text x="1481.3" y="787.9" text-anchor="middle" class="tk">150</text>
<line x1="1112.9" y1="674.5" x2="1119.9" y2="674.5" stroke="#4a4a4a" stroke-width="1.5"/>
<text x="1105.2" y="680.6" text-anchor="end" class="tk">-100</text>
<line x1="1112.9" y1="553.5" x2="1119.9" y2="553.5" stroke="#4a4a4a" stroke-width="1.5"/>
<text x="1105.2" y="559.6" text-anchor="end" class="tk">0</text>
<line x1="1112.9" y1="432.5" x2="1119.9" y2="432.5" stroke="#4a4a4a" stroke-width="1.5"/>
<text x="1105.2" y="438.6" text-anchor="end" class="tk">100</text>
<line x1="1112.9" y1="311.5" x2="1119.9" y2="311.5" stroke="#4a4a4a" stroke-width="1.5"/>
<text x="1105.2" y="317.6" text-anchor="end" class="tk">200</text>
<line x1="1112.9" y1="190.4" x2="1119.9" y2="190.4" stroke="#4a4a4a" stroke-width="1.5"/>
<text x="1105.2" y="196.5" text-anchor="end" class="tk">300</text>
<line x1="1112.9" y1="69.4" x2="1119.9" y2="69.4" stroke="#4a4a4a" stroke-width="1.5"/>
<text x="1105.2" y="75.5" text-anchor="end" class="tk">400</text>
<text x="1303.5" y="811" text-anchor="middle" class="lb">X (<tspan class="mu">μ</tspan>m)</text>
<text transform="translate(1057 383.5) rotate(-90)" text-anchor="middle" class="lb">Z (<tspan class="mu">μ</tspan>m)</text>
<text transform="translate(999.8 82.8) scale(0.972 1)" class="pl">C</text>
<text x="1046.4" y="81.9" class="dot">.</text>
</g>
<g fill="none" stroke-linecap="butt" stroke-linejoin="round" filter="url(#soft)">
<path d="M1299.5 539.9 L1299.4 538.9 L1299.4 537.9 L1299.3 536.9 L1299.2 535.9 L1299.1 534.9 L1299.1 533.9 L1299 532.9 L1298.9 531.9 L1298.9 530.9 L1298.8 529.9 L1298.7 528.9" stroke="#c8b830" stroke-width="5" />
<path d="M1299.5 539.9 L1299.4 538.9 L1299.4 537.9 L1299.3 536.9 L1299.2 535.9 L1299.1 534.9 L1299.1 533.9 L1299 532.9 L1298.9 531.9 L1298.9 530.9 L1298.8 529.9 L1298.7 528.9" stroke="#ece23e" stroke-width="3.4" />
<path d="M1298.7 528.9 L1298.6 527.8 L1298.6 526.8 L1298.5 525.8 L1298.3 524.8 L1298.2 523.8 L1298 522.8 L1297.8 521.8 L1297.7 520.8 L1297.5 519.8 L1297.3 518.8" stroke="#3a38c8" stroke-width="4.8" />
<path d="M1298.7 528.9 L1298.6 527.8 L1298.6 526.8 L1298.5 525.8 L1298.3 524.8 L1298.2 523.8 L1298 522.8 L1297.8 521.8 L1297.7 520.8 L1297.5 519.8 L1297.3 518.8" stroke="#5a58e6" stroke-width="2" stroke-opacity="0.7"/>
<path d="M1297.3 518.8 L1297.2 517.8 L1297 516.8 L1296.8 515.8 L1296.7 514.8 L1296.5 513.8 L1296.3 512.8 L1296.1 511.8 L1295.9 510.8 L1295.6 509.8 L1295.4 508.8 L1295.2 507.8" stroke="#c8b830" stroke-width="5" />
<path d="M1297.3 518.8 L1297.2 517.8 L1297 516.8 L1296.8 515.8 L1296.7 514.8 L1296.5 513.8 L1296.3 512.8 L1296.1 511.8 L1295.9 510.8 L1295.6 509.8 L1295.4 508.8 L1295.2 507.8" stroke="#ece23e" stroke-width="3.4" />
<path d="M1295.2 507.8 L1295 506.8 L1294.8 505.8 L1294.6 504.8 L1294.4 503.8 L1294.1 502.8 L1293.9 501.8 L1293.7 500.8 L1293.5 499.8 L1293.2 498.8 L1293 497.8" stroke="#3a38c8" stroke-width="4.8" />
<path d="M1295.2 507.8 L1295 506.8 L1294.8 505.8 L1294.6 504.8 L1294.4 503.8 L1294.1 502.8 L1293.9 501.8 L1293.7 500.8 L1293.5 499.8 L1293.2 498.8 L1293 497.8" stroke="#5a58e6" stroke-width="2" stroke-opacity="0.7"/>
<path d="M1293 497.8 L1292.8 496.8 L1292.5 495.8 L1292.2 494.8 L1292 493.8 L1291.8 492.8 L1291.5 491.8 L1291.2 490.8 L1291 489.8 L1290.8 488.8 L1290.5 487.8 L1290.3 486.8" stroke="#c8b830" stroke-width="5" />
<path d="M1293 497.8 L1292.8 496.8 L1292.5 495.8 L1292.2 494.8 L1292 493.8 L1291.8 492.8 L1291.5 491.8 L1291.2 490.8 L1291 489.8 L1290.8 488.8 L1290.5 487.8 L1290.3 486.8" stroke="#ece23e" stroke-width="3.4" />
<path d="M1290.3 486.8 L1290.1 485.8 L1289.9 484.8 L1289.6 483.8 L1289.4 482.8 L1289.2 481.8 L1289 480.8 L1288.8 479.8 L1288.6 478.8 L1288.4 477.7 L1288.1 476.7 L1287.9 475.7" stroke="#3a38c8" stroke-width="4.8" />
<path d="M1290.3 486.8 L1290.1 485.8 L1289.9 484.8 L1289.6 483.8 L1289.4 482.8 L1289.2 481.8 L1289 480.8 L1288.8 479.8 L1288.6 478.8 L1288.4 477.7 L1288.1 476.7 L1287.9 475.7" stroke="#5a58e6" stroke-width="2" stroke-opacity="0.7"/>
<path d="M1287.9 475.7 L1287.7 474.7 L1287.5 473.7 L1287.3 472.7 L1287.1 471.7 L1286.9 470.7 L1286.7 469.7 L1286.5 468.7 L1286.3 467.7 L1286.1 466.7 L1285.9 465.7 L1285.7 464.7 L1285.5 463.7" stroke="#c8b830" stroke-width="5" />
<path d="M1287.9 475.7 L1287.7 474.7 L1287.5 473.7 L1287.3 472.7 L1287.1 471.7 L1286.9 470.7 L1286.7 469.7 L1286.5 468.7 L1286.3 467.7 L1286.1 466.7 L1285.9 465.7 L1285.7 464.7 L1285.5 463.7" stroke="#ece23e" stroke-width="3.4" />
<path d="M1285.5 463.7 L1285.3 462.7 L1285.1 461.7 L1285 460.7 L1285 459.7 L1284.9 458.7 L1284.9 457.7 L1284.8 456.7 L1284.8 455.7 L1284.8 454.7 L1284.7 453.7 L1284.7 452.7" stroke="#3a38c8" stroke-width="4.8" />
<path d="M1285.5 463.7 L1285.3 462.7 L1285.1 461.7 L1285 460.7 L1285 459.7 L1284.9 458.7 L1284.9 457.7 L1284.8 456.7 L1284.8 455.7 L1284.8 454.7 L1284.7 453.7 L1284.7 452.7" stroke="#5a58e6" stroke-width="2" stroke-opacity="0.7"/>
<path d="M1284.7 452.7 L1284.6 451.7 L1284.5 450.7 L1284.5 449.7 L1284.5 448.7 L1284.6 447.7 L1284.6 446.7 L1284.7 445.7 L1284.7 444.7 L1284.8 443.7 L1284.8 442.7 L1284.8 441.7 L1284.9 440.7" stroke="#c8b830" stroke-width="5" />
<path d="M1284.7 452.7 L1284.6 451.7 L1284.5 450.7 L1284.5 449.7 L1284.5 448.7 L1284.6 447.7 L1284.6 446.7 L1284.7 445.7 L1284.7 444.7 L1284.8 443.7 L1284.8 442.7 L1284.8 441.7 L1284.9 440.7" stroke="#ece23e" stroke-width="3.4" />
<path d="M1284.9 440.7 L1284.9 439.7 L1285 438.7 L1285 437.7 L1285.1 436.7 L1285.1 435.7 L1285.1 434.7 L1285.2 433.7 L1285.2 432.7 L1285.3 431.7" stroke="#3a38c8" stroke-width="4.8" />
<path d="M1284.9 440.7 L1284.9 439.7 L1285 438.7 L1285 437.7 L1285.1 436.7 L1285.1 435.7 L1285.1 434.7 L1285.2 433.7 L1285.2 432.7 L1285.3 431.7" stroke="#5a58e6" stroke-width="2" stroke-opacity="0.7"/>
<path d="M1285.3 431.7 L1285.3 430.7 L1285.4 429.7 L1285.5 428.7 L1285.5 427.7 L1285.5 426.6 L1285.6 425.6 L1285.7 424.6 L1285.7 423.6 L1285.8 422.6 L1285.8 421.6 L1285.9 420.6" stroke="#c8b830" stroke-width="5" />
<path d="M1285.3 431.7 L1285.3 430.7 L1285.4 429.7 L1285.5 428.7 L1285.5 427.7 L1285.5 426.6 L1285.6 425.6 L1285.7 424.6 L1285.7 423.6 L1285.8 422.6 L1285.8 421.6 L1285.9 420.6" stroke="#ece23e" stroke-width="3.4" />
<path d="M1285.9 420.6 L1285.9 419.6 L1285.9 418.6 L1285.8 417.6 L1285.8 416.6 L1285.7 415.6 L1285.7 414.6 L1285.6 413.6 L1285.5 412.6 L1285.5 411.6" stroke="#3a38c8" stroke-width="4.8" />
<path d="M1285.9 420.6 L1285.9 419.6 L1285.9 418.6 L1285.8 417.6 L1285.8 416.6 L1285.7 415.6 L1285.7 414.6 L1285.6 413.6 L1285.5 412.6 L1285.5 411.6" stroke="#5a58e6" stroke-width="2" stroke-opacity="0.7"/>
<path d="M1285.5 411.6 L1285.5 410.6 L1285.4 409.6 L1285.3 408.6 L1285.3 407.6 L1285.2 406.6 L1285.2 405.6 L1285.1 404.6 L1285.1 403.6 L1285.1 402.6 L1285.2 401.6 L1285.2 400.6 L1285.2 399.6" stroke="#c8b830" stroke-width="5" />
<path d="M1285.5 411.6 L1285.5 410.6 L1285.4 409.6 L1285.3 408.6 L1285.3 407.6 L1285.2 406.6 L1285.2 405.6 L1285.1 404.6 L1285.1 403.6 L1285.1 402.6 L1285.2 401.6 L1285.2 400.6 L1285.2 399.6" stroke="#ece23e" stroke-width="3.4" />
<path d="M1285.2 399.6 L1285.2 398.6 L1285.3 397.6 L1285.3 396.6 L1285.3 395.6 L1285.4 394.6 L1285.4 393.6 L1285.4 392.6 L1285.4 391.6 L1285.5 390.6 L1285.5 389.6" stroke="#3a38c8" stroke-width="4.8" />
<path d="M1285.2 399.6 L1285.2 398.6 L1285.3 397.6 L1285.3 396.6 L1285.3 395.6 L1285.4 394.6 L1285.4 393.6 L1285.4 392.6 L1285.4 391.6 L1285.5 390.6 L1285.5 389.6" stroke="#5a58e6" stroke-width="2" stroke-opacity="0.7"/>
<path d="M1285.5 389.6 L1285.6 388.6 L1285.8 387.6 L1285.9 386.6 L1286 385.6 L1286.2 384.6 L1286.3 383.6 L1286.4 382.6 L1286.6 381.6 L1286.7 380.6 L1286.8 379.6 L1287 378.6 L1287.1 377.6" stroke="#c8b830" stroke-width="5" />
<path d="M1285.5 389.6 L1285.6 388.6 L1285.8 387.6 L1285.9 386.6 L1286 385.6 L1286.2 384.6 L1286.3 383.6 L1286.4 382.6 L1286.6 381.6 L1286.7 380.6 L1286.8 379.6 L1287 378.6 L1287.1 377.6" stroke="#ece23e" stroke-width="3.4" />
<path d="M1287.1 377.6 L1287 376.5 L1287 375.5 L1286.9 374.5 L1286.9 373.5 L1286.8 372.5 L1286.8 371.5 L1286.8 370.5 L1286.7 369.5 L1286.7 368.5 L1286.6 367.5 L1286.5 366.5" stroke="#3a38c8" stroke-width="4.8" />
<path d="M1287.1 377.6 L1287 376.5 L1287 375.5 L1286.9 374.5 L1286.9 373.5 L1286.8 372.5 L1286.8 371.5 L1286.8 370.5 L1286.7 369.5 L1286.7 368.5 L1286.6 367.5 L1286.5 366.5" stroke="#5a58e6" stroke-width="2" stroke-opacity="0.7"/>
<path d="M1286.5 366.5 L1286.5 365.5 L1286.4 364.5 L1286.2 363.5 L1286.1 362.5 L1285.9 361.5 L1285.8 360.5 L1285.6 359.5 L1285.5 358.5 L1285.4 357.5 L1285.2 356.5 L1285.1 355.5 L1284.9 354.5" stroke="#c8b830" stroke-width="5" />
<path d="M1286.5 366.5 L1286.5 365.5 L1286.4 364.5 L1286.2 363.5 L1286.1 362.5 L1285.9 361.5 L1285.8 360.5 L1285.6 359.5 L1285.5 358.5 L1285.4 357.5 L1285.2 356.5 L1285.1 355.5 L1284.9 354.5" stroke="#ece23e" stroke-width="3.4" />
<path d="M1284.9 354.5 L1284.8 353.5 L1284.6 352.5 L1284.5 351.5 L1284.4 350.5 L1284.3 349.5 L1284.2 348.5 L1284 347.5 L1283.9 346.5 L1283.8 345.5 L1283.7 344.5" stroke="#3a38c8" stroke-width="4.8" />
<path d="M1284.9 354.5 L1284.8 353.5 L1284.6 352.5 L1284.5 351.5 L1284.4 350.5 L1284.3 349.5 L1284.2 348.5 L1284 347.5 L1283.9 346.5 L1283.8 345.5 L1283.7 344.5" stroke="#5a58e6" stroke-width="2" stroke-opacity="0.7"/>
<path d="M1283.7 344.5 L1283.6 343.5 L1283.4 342.5 L1283.3 341.5 L1283.2 340.5 L1283.1 339.5 L1283 338.5 L1282.9 337.5 L1282.8 336.5 L1282.6 335.5 L1282.5 334.5 L1282.4 333.5" stroke="#c8b830" stroke-width="5" />
<path d="M1283.7 344.5 L1283.6 343.5 L1283.4 342.5 L1283.3 341.5 L1283.2 340.5 L1283.1 339.5 L1283 338.5 L1282.9 337.5 L1282.8 336.5 L1282.6 335.5 L1282.5 334.5 L1282.4 333.5" stroke="#ece23e" stroke-width="3.4" />
<path d="M1282.4 333.5 L1282.3 332.5 L1282.2 331.5 L1282.1 330.5 L1282 329.5 L1281.8 328.5 L1281.7 327.5 L1281.6 326.4 L1281.5 325.4 L1281.6 324.4 L1281.6 323.4" stroke="#3a38c8" stroke-width="4.8" />
<path d="M1282.4 333.5 L1282.3 332.5 L1282.2 331.5 L1282.1 330.5 L1282 329.5 L1281.8 328.5 L1281.7 327.5 L1281.6 326.4 L1281.5 325.4 L1281.6 324.4 L1281.6 323.4" stroke="#5a58e6" stroke-width="2" stroke-opacity="0.7"/>
<path d="M1281.6 323.4 L1281.7 322.4 L1281.8 321.4 L1281.9 320.4 L1281.9 319.4 L1282 318.4 L1282.1 317.4 L1282.1 316.4 L1282.2 315.4 L1282.3 314.4 L1282.4 313.4 L1282.4 312.4" stroke="#c8b830" stroke-width="5" />
<path d="M1281.6 323.4 L1281.7 322.4 L1281.8 321.4 L1281.9 320.4 L1281.9 319.4 L1282 318.4 L1282.1 317.4 L1282.1 316.4 L1282.2 315.4 L1282.3 314.4 L1282.4 313.4 L1282.4 312.4" stroke="#ece23e" stroke-width="3.4" />
<path d="M1282.4 312.4 L1282.5 311.4 L1282.6 310.4 L1282.7 309.4 L1282.8 308.4 L1283 307.4 L1283.1 306.4 L1283.2 305.4 L1283.3 304.4 L1283.4 303.4 L1283.6 302.4" stroke="#3a38c8" stroke-width="4.8" />
<path d="M1282.4 312.4 L1282.5 311.4 L1282.6 310.4 L1282.7 309.4 L1282.8 308.4 L1283 307.4 L1283.1 306.4 L1283.2 305.4 L1283.3 304.4 L1283.4 303.4 L1283.6 302.4" stroke="#5a58e6" stroke-width="2" stroke-opacity="0.7"/>
<path d="M1283.6 302.4 L1283.7 301.4 L1283.8 300.4 L1283.9 299.4 L1283.7 298.4 L1283.4 297.4 L1283.2 296.4 L1282.9 295.4 L1282.7 294.4 L1282.5 293.4 L1282.2 292.4" stroke="#c8b830" stroke-width="5" />
<path d="M1283.6 302.4 L1283.7 301.4 L1283.8 300.4 L1283.9 299.4 L1283.7 298.4 L1283.4 297.4 L1283.2 296.4 L1282.9 295.4 L1282.7 294.4 L1282.5 293.4 L1282.2 292.4" stroke="#ece23e" stroke-width="3.4" />
<path d="M1282.2 292.4 L1282 291.4 L1281.7 290.4 L1281.5 289.4 L1281.2 288.4 L1281 287.4 L1280.8 286.4 L1280.5 285.4 L1280.2 284.4 L1280 283.4 L1279.8 282.4" stroke="#3a38c8" stroke-width="4.8" />
<path d="M1282.2 292.4 L1282 291.4 L1281.7 290.4 L1281.5 289.4 L1281.2 288.4 L1281 287.4 L1280.8 286.4 L1280.5 285.4 L1280.2 284.4 L1280 283.4 L1279.8 282.4" stroke="#5a58e6" stroke-width="2" stroke-opacity="0.7"/>
<path d="M1279.8 282.4 L1279.5 281.4 L1279.2 280.4 L1279 279.4 L1278.8 278.4 L1278.5 277.4 L1278.3 276.4 L1278.2 275.3 L1278 274.3 L1277.8 273.3 L1277.7 272.3 L1277.5 271.3" stroke="#c8b830" stroke-width="5" />
<path d="M1279.8 282.4 L1279.5 281.4 L1279.2 280.4 L1279 279.4 L1278.8 278.4 L1278.5 277.4 L1278.3 276.4 L1278.2 275.3 L1278 274.3 L1277.8 273.3 L1277.7 272.3 L1277.5 271.3" stroke="#ece23e" stroke-width="3.4" />
<path d="M1277.5 271.3 L1277.3 270.3 L1277.2 269.3 L1277 268.3 L1276.8 267.3 L1276.7 266.3 L1276.5 265.3 L1276.3 264.3 L1276.2 263.3 L1276 262.3" stroke="#3a38c8" stroke-width="4.8" />
<path d="M1277.5 271.3 L1277.3 270.3 L1277.2 269.3 L1277 268.3 L1276.8 267.3 L1276.7 266.3 L1276.5 265.3 L1276.3 264.3 L1276.2 263.3 L1276 262.3" stroke="#5a58e6" stroke-width="2" stroke-opacity="0.7"/>
<path d="M1276 262.3 L1275.8 261.3 L1275.7 260.3 L1275.5 259.3 L1275.3 258.3 L1275.2 257.3 L1275 256.3 L1274.8 255.3 L1274.7 254.3 L1274.5 253.3 L1274.4 252.3 L1274.2 251.3 L1274.1 250.3" stroke="#c8b830" stroke-width="5" />
<path d="M1276 262.3 L1275.8 261.3 L1275.7 260.3 L1275.5 259.3 L1275.3 258.3 L1275.2 257.3 L1275 256.3 L1274.8 255.3 L1274.7 254.3 L1274.5 253.3 L1274.4 252.3 L1274.2 251.3 L1274.1 250.3" stroke="#ece23e" stroke-width="3.4" />
<path d="M1274.1 250.3 L1274 249.3 L1273.8 248.3 L1273.7 247.3 L1273.6 246.3 L1273.4 245.3 L1273.3 244.3 L1273.2 243.3 L1273 242.3 L1272.9 241.3" stroke="#3a38c8" stroke-width="4.8" />
<path d="M1274.1 250.3 L1274 249.3 L1273.8 248.3 L1273.7 247.3 L1273.6 246.3 L1273.4 245.3 L1273.3 244.3 L1273.2 243.3 L1273 242.3 L1272.9 241.3" stroke="#5a58e6" stroke-width="2" stroke-opacity="0.7"/>
<path d="M1272.9 241.3 L1272.9 240.3 L1272.9 239.3 L1272.9 238.3 L1272.9 237.3 L1272.9 236.3 L1272.9 235.3 L1272.9 234.3 L1272.9 233.3 L1272.9 232.3 L1272.9 231.3 L1272.9 230.3 L1272.9 229.3" stroke="#c8b830" stroke-width="5" />
<path d="M1272.9 241.3 L1272.9 240.3 L1272.9 239.3 L1272.9 238.3 L1272.9 237.3 L1272.9 236.3 L1272.9 235.3 L1272.9 234.3 L1272.9 233.3 L1272.9 232.3 L1272.9 231.3 L1272.9 230.3 L1272.9 229.3" stroke="#ece23e" stroke-width="3.4" />
<path d="M1272.9 229.3 L1273 228.3 L1273.1 227.3 L1273.2 226.3 L1273.4 225.2 L1273.5 224.2 L1273.6 223.2 L1273.7 222.2 L1273.8 221.2 L1273.9 220.2 L1274 219.2" stroke="#3a38c8" stroke-width="4.8" />
<path d="M1272.9 229.3 L1273 228.3 L1273.1 227.3 L1273.2 226.3 L1273.4 225.2 L1273.5 224.2 L1273.6 223.2 L1273.7 222.2 L1273.8 221.2 L1273.9 220.2 L1274 219.2" stroke="#5a58e6" stroke-width="2" stroke-opacity="0.7"/>
<path d="M1274 219.2 L1274.2 218.2 L1274.3 217.2 L1274.4 216.2 L1274.5 215.2 L1274.9 214.3 L1275.2 213.4 L1275.6 212.5 L1276 211.6 L1276.3 210.7 L1276.7 209.8" stroke="#c8b830" stroke-width="5" />
<path d="M1274 219.2 L1274.2 218.2 L1274.3 217.2 L1274.4 216.2 L1274.5 215.2 L1274.9 214.3 L1275.2 213.4 L1275.6 212.5 L1276 211.6 L1276.3 210.7 L1276.7 209.8" stroke="#ece23e" stroke-width="3.4" />
<path d="M1276.7 209.8 L1277 208.9 L1277.4 207.9 L1277.8 207 L1278.1 206.1 L1278.5 205.2 L1278.8 204.3 L1279.2 203.4 L1279.5 202.5 L1279.9 201.6 L1280.2 200.7 L1280.5 199.8" stroke="#3a38c8" stroke-width="4.8" />
<path d="M1276.7 209.8 L1277 208.9 L1277.4 207.9 L1277.8 207 L1278.1 206.1 L1278.5 205.2 L1278.8 204.3 L1279.2 203.4 L1279.5 202.5 L1279.9 201.6 L1280.2 200.7 L1280.5 199.8" stroke="#5a58e6" stroke-width="2" stroke-opacity="0.7"/>
<path d="M1280.5 199.8 L1280.9 198.9 L1281.2 198 L1281.6 197.1 L1281.9 196.2" stroke="#c8b830" stroke-width="5" />
<path d="M1280.5 199.8 L1280.9 198.9 L1281.2 198 L1281.6 197.1 L1281.9 196.2" stroke="#ece23e" stroke-width="3.4" />
<path d="M1281.9 196.2 L1282.9 194.5 L1283.1 193.1 L1283.5 191.2 L1284.1 189" stroke="#3b2bb0" stroke-width="3.89" />
<path d="M1284.1 189 L1284.7 187.5 L1285.6 185.4 L1286 183.4 L1286.9 180.8 L1287.4 179.4" stroke="#dcd43c" stroke-width="3.84" />
<path d="M1287.4 179.4 L1287.7 177.3 L1288.3 175 L1289.6 173.5 L1290.4 171.1" stroke="#3b2bb0" stroke-width="3.79" />
<path d="M1290.4 171.1 L1290.7 169.4 L1291.6 167.1 L1292.4 165 L1293.2 163.1 L1293.2 161.3" stroke="#dcd43c" stroke-width="3.74" />
<path d="M1293.2 161.3 L1294 159.6 L1294.8 158.1 L1296.1 156.2 L1296.6 154.4" stroke="#3b2bb0" stroke-width="3.69" />
<path d="M1296.6 154.4 L1297.7 152.3 L1298.9 150.4 L1299.5 148.7 L1300.6 147.6 L1300.7 145.5" stroke="#dcd43c" stroke-width="3.64" />
<path d="M1300.7 145.5 L1301.9 143.9 L1302.9 141.7 L1303.9 139.8 L1303.7 138.4 L1304.2 135.8" stroke="#3b2bb0" stroke-width="3.58" />
<path d="M1304.2 135.8 L1305 133.9 L1305.2 132.5 L1305.9 130.3 L1306.1 128.4 L1306.7 126.1" stroke="#dcd43c" stroke-width="3.53" />
<path d="M1306.7 126.1 L1307.8 124.5 L1309.5 122.9 L1310.4 121.6 L1312.3 120.4" stroke="#3b2bb0" stroke-width="2.42" />
<path d="M1312.3 120.4 L1313.5 118.8 L1314.6 117.7 L1315.8 116.2 L1317.9 115.4" stroke="#3a58cc" stroke-width="2.37" />
<path d="M1317.9 115.4 L1319.9 114.4 L1321.9 113.9 L1323.1 113.2 L1325.9 112.5" stroke="#c8b43c" stroke-width="2.32" />
<path d="M1325.9 112.5 L1327.4 113.3 L1329.4 114.3 L1331.9 113.9" stroke="#3b2bb0" stroke-width="2.27" />
<path d="M1331.9 113.9 L1333.3 113 L1335.6 112.2 L1337.7 111.6 L1339.5 111.4" stroke="#3a58cc" stroke-width="2.22" />
<path d="M1339.5 111.4 L1340.9 109.6 L1342.6 108.8 L1344 107.1" stroke="#c8b43c" stroke-width="2.18" />
<path d="M1344 107.1 L1345.6 105.6 L1347.1 104.7 L1347.8 103 L1349.2 101.8" stroke="#3b2bb0" stroke-width="2.14" />
<path d="M1349.2 101.8 L1350.9 100.7 L1352.1 98.9 L1352.7 96.7" stroke="#3a58cc" stroke-width="2.09" />
<path d="M1352.7 96.7 L1353.9 95.4 L1355 93.1 L1355.4 91.3 L1356.3 89.3" stroke="#c8b43c" stroke-width="2.05" />
<path d="M1356.3 89.3 L1357.7 87.9 L1358.4 86.3 L1359.1 83.8" stroke="#3b2bb0" stroke-width="2" />
<path d="M1359.1 83.8 L1361.5 82.7 L1362.7 81 L1364.5 79.8" stroke="#3a58cc" stroke-width="1.96" />
<path d="M1364.5 79.8 L1365.6 78.4 L1367.9 77.3 L1368.8 75.3" stroke="#c8b43c" stroke-width="1.92" />
<path d="M1368.8 75.3 L1370.2 74.3 L1372.2 73.2 L1373.7 71.3" stroke="#3b2bb0" stroke-width="1.88" />
<path d="M1373.7 71.3 L1374.7 69.1 L1375 67.8 L1375.6 65.9" stroke="#3a58cc" stroke-width="1.84" />
<path d="M1375.6 65.9 L1376.7 63.7 L1377 62.1 L1377.4 59.4" stroke="#c8b43c" stroke-width="1.8" />
<path d="M1377.4 59.4 L1378.1 57.9 L1379.5 56.2 L1380.4 54.5 L1381.2 53.4 L1382.4 51.4" stroke="#3b2bb0" stroke-width="1.75" />
<path d="M1382.4 51.4 L1383.2 49.4 L1384.1 48.3 L1385.2 46.2" stroke="#3a58cc" stroke-width="1.7" />
<path d="M1385.2 46.2 L1386.7 44.5 L1387.7 43.2 L1389.1 41.9" stroke="#c8b43c" stroke-width="1.66" />
<path d="M1389.1 41.9 L1389.8 39.8 L1391.5 38.1 L1392.6 36.9 L1393.6 35.7" stroke="#3b2bb0" stroke-width="1.62" />
<path d="M1393.6 35.7 L1394.6 33.8 L1395.1 31.7 L1396.2 30.7" stroke="#3a58cc" stroke-width="1.58" />
<path d="M1396.2 30.7 L1396 28.9 L1396.8 26.3 L1398.1 24.7" stroke="#c8b43c" stroke-width="1.54" />
<path d="M1398.1 24.7 L1398.1 23.4 L1399.2 21.2 L1399.2 19.6 L1399.8 17.6" stroke="#3b2bb0" stroke-width="1.5" />
<path d="M1399.8 17.6 L1400.8 15.5 L1401.1 13.3 L1402.4 11" stroke="#3a58cc" stroke-width="1.45" />
<path d="M1402.4 11 L1403.5 10.4 L1405.1 8.7 L1406.9 7.6" stroke="#c8b43c" stroke-width="1.41" />
<path d="M1406.9 7.6 L1408.2 6.4 L1409.8 4.6 L1411.3 3.7" stroke="#3b2bb0" stroke-width="1.38" />
<path d="M1411.3 3.7 L1414 3.3" stroke="#3a58cc" stroke-width="1.35" />
<path d="M1302.1 142.1 L1303 140.5 L1302.7 138.1 L1303.5 135.8" stroke="#3b2bb0" stroke-width="1.91" />
<path d="M1303.5 135.8 L1303.9 134.3 L1304.2 132.4 L1304.5 131.1 L1304.3 128.7" stroke="#dcd43c" stroke-width="1.77" />
<path d="M1304.3 128.7 L1304.4 126.7 L1304.6 125.2 L1304.6 123.5" stroke="#3b2bb0" stroke-width="1.65" />
<path d="M1304.6 123.5 L1304.2 121.2 L1305 118.7 L1304.3 116.6 L1304.3 115.2" stroke="#dcd43c" stroke-width="1.52" />
<path d="M1304.3 115.2 L1303.8 113.2 L1303.6 111.2 L1303.3 109.4" stroke="#3b2bb0" stroke-width="1.38" />
<path d="M1303.3 109.4 L1302.5 106.7 L1301.3 105.4 L1301.1 103.4" stroke="#dcd43c" stroke-width="1.26" />
<path d="M1301.1 103.4 L1299.9 101.4" stroke="#3b2bb0" stroke-width="1.17" />
<path d="M1281.5 195.2 L1281 193.1 L1279.6 191.8 L1279.2 190.3 L1278.1 188.7 L1277.2 187" stroke="#3a58cc" stroke-width="3.44" />
<path d="M1277.2 187 L1276.6 185.2 L1275.5 183 L1274.2 181.7 L1273.2 179.6 L1272.6 178.5" stroke="#dcd43c" stroke-width="3.34" />
<path d="M1272.6 178.5 L1271.6 176.4 L1270.2 174.1 L1269.4 172.9 L1268.1 171 L1267.4 169.5" stroke="#3a58cc" stroke-width="3.23" />
<path d="M1267.4 169.5 L1267 167.6 L1266.3 166.2 L1266 164.3 L1265 162.4 L1264.5 160.4" stroke="#dcd43c" stroke-width="3.12" />
<path d="M1264.5 160.4 L1263.3 159 L1262.9 157.6 L1262.3 155.8 L1261.2 153.5 L1260.4 152.2" stroke="#3a58cc" stroke-width="3.01" />
<path d="M1260.4 152.2 L1260 150.5 L1259 148.1" stroke="#dcd43c" stroke-width="2.93" />
<path d="M1259.5 132.1 L1261 130.6 L1263.2 130.1 L1264.7 129.5" stroke="#c8b43c" stroke-width="2.19" />
<path d="M1264.7 129.5 L1265.8 127.2 L1266.4 125.5" stroke="#3a58cc" stroke-width="2.16" />
<path d="M1266.4 125.5 L1267.8 124.5 L1268.5 122.5 L1269.3 121 L1270.5 119.7 L1271.5 118" stroke="#c8b43c" stroke-width="2.11" />
<path d="M1271.5 118 L1271.9 116 L1272.7 114.8 L1273.4 112.4" stroke="#3a58cc" stroke-width="2.07" />
<path d="M1273.4 112.4 L1274.3 111.4 L1276.3 109.9 L1277.8 109.4 L1278.9 107.7" stroke="#c8b43c" stroke-width="2.02" />
<path d="M1278.9 107.7 L1280.7 106.9 L1281.2 105.7 L1282.4 103.6" stroke="#3a58cc" stroke-width="1.98" />
<path d="M1282.4 103.6 L1283.6 101.8 L1284.1 100.2 L1285.4 98.2" stroke="#c8b43c" stroke-width="1.94" />
<path d="M1285.4 98.2 L1286.4 97.2 L1287.2 95.4 L1288.3 93.3" stroke="#3a58cc" stroke-width="1.91" />
<path d="M1288.3 93.3 L1288.6 92 L1290 89.9 L1290.5 88.7 L1292 86.4" stroke="#c8b43c" stroke-width="1.86" />
<path d="M1292 86.4 L1292.6 85 L1293.3 82.7 L1294.3 81.4" stroke="#3a58cc" stroke-width="1.82" />
<path d="M1294.3 81.4 L1295.6 79.5 L1296.2 77.4 L1297.3 75.7 L1298.4 74.3" stroke="#c8b43c" stroke-width="1.78" />
<path d="M1298.4 74.3 L1298.7 72.5 L1299.4 70.6 L1300 68.5 L1300.7 66.2" stroke="#3a58cc" stroke-width="1.73" />
<path d="M1300.7 66.2 L1301.6 65 L1301.7 63.2 L1302.2 61.4" stroke="#c8b43c" stroke-width="1.68" />
<path d="M1302.2 61.4 L1302.1 58.8 L1302.6 57 L1303.4 55.2" stroke="#3a58cc" stroke-width="1.65" />
<path d="M1303.4 55.2 L1303.5 52.8 L1304.4 50.7 L1304.5 49.5 L1305.2 47.9" stroke="#c8b43c" stroke-width="1.6" />
<path d="M1305.2 47.9 L1305.5 45.7 L1306.2 43.4 L1307.5 42.1" stroke="#3a58cc" stroke-width="1.56" />
<path d="M1307.5 42.1 L1309.2 41 L1310.7 39.5 L1312.3 38.3" stroke="#c8b43c" stroke-width="1.52" />
<path d="M1312.3 38.3 L1313.9 36.6 L1314.7 35.3 L1315.8 34" stroke="#3a58cc" stroke-width="1.48" />
<path d="M1315.8 34 L1316.8 32.4 L1318.2 30.3 L1319.6 28.9" stroke="#c8b43c" stroke-width="1.44" />
<path d="M1319.6 28.9 L1319.3 26.7 L1319.9 25.2 L1319.2 23.7 L1319.5 21.7" stroke="#3a58cc" stroke-width="1.4" />
<path d="M1319.5 21.7 L1320.3 20.5 L1321.4 18.4 L1322.5 16.8" stroke="#c8b43c" stroke-width="1.36" />
<path d="M1259 148.1 L1258.6 146 L1258.8 144.8 L1259.1 142.9" stroke="#3a86d0" stroke-width="2.42" />
<path d="M1259.1 142.9 L1259.3 141 L1259.4 138.9 L1259.2 137.5 L1259.4 135.2" stroke="#62a848" stroke-width="2.37" />
<path d="M1259.4 135.2 L1259 133.6 L1259 132.5 L1259.5 130.8 L1259.5 128.9 L1259.3 126.9" stroke="#3a86d0" stroke-width="2.32" />
<path d="M1259.3 126.9 L1258.1 125.4 L1257.8 123.1 L1256.8 120.6" stroke="#62a848" stroke-width="2.26" />
<path d="M1256.8 120.6 L1256.9 118.7 L1255.8 117.5 L1255 115.7" stroke="#3a86d0" stroke-width="2.22" />
<path d="M1255 115.7 L1253.7 114.3 L1252.8 112.7 L1252.7 110.3" stroke="#62a848" stroke-width="2.17" />
<path d="M1252.7 110.3 L1251.6 108.8 L1249.9 107.7 L1249.1 105.6 L1247.6 104" stroke="#3a86d0" stroke-width="2.12" />
<path d="M1247.6 104 L1246.8 102.7 L1245.2 100.9 L1243.9 99.9" stroke="#62a848" stroke-width="2.07" />
<path d="M1243.9 99.9 L1241.7 99.3 L1239.7 99.2 L1238.3 97.9" stroke="#3a86d0" stroke-width="2.03" />
<path d="M1238.3 97.9 L1237.1 96.1 L1236.9 95.1 L1236.8 93.4" stroke="#62a848" stroke-width="1.99" />
<path d="M1236.8 93.4 L1235.7 91.3 L1235.8 89.8 L1235.2 89.1 L1233.5 88.1 L1232.3 88.4" stroke="#3a86d0" stroke-width="1.94" />
<path d="M1232.3 88.4 L1230.5 88.9 L1230.3 91.3 L1229.9 92.7" stroke="#62a848" stroke-width="1.89" />
<path d="M1229.9 92.7 L1227.8 92.4 L1226.5 90.7 L1225 88.9" stroke="#3a86d0" stroke-width="1.85" />
<path d="M1225 88.9 L1223.5 87.6 L1222.8 85.9 L1221.1 84.6 L1220.1 83.5 L1219 82.1" stroke="#62a848" stroke-width="1.79" />
<path d="M1219 82.1 L1217.4 80.3 L1215.5 80.5 L1213.9 79.5" stroke="#3a86d0" stroke-width="1.73" />
<path d="M1213.9 79.5 L1211.7 79.3 L1209.2 79.4 L1207.9 78.4 L1207 76.7" stroke="#62a848" stroke-width="1.68" />
<path d="M1207 76.7 L1205.6 76.3 L1203 75.8 L1200.7 75.8 L1198.8 76.3" stroke="#3a86d0" stroke-width="1.62" />
<path d="M1198.8 76.3 L1196.3 76.2 L1195 74.9 L1193.2 73.8" stroke="#62a848" stroke-width="1.57" />
<path d="M1193.2 73.8 L1191.1 73.2 L1189.7 72.4 L1187.2 71.5 L1185.1 70.9" stroke="#3a86d0" stroke-width="1.51" />
<path d="M1185.1 70.9 L1183.4 69.6 L1181.8 68.9 L1179.4 68.1" stroke="#62a848" stroke-width="1.46" />
<path d="M1179.4 68.1 L1177.2 66.6 L1176.5 65.2 L1174.8 63.7" stroke="#3a86d0" stroke-width="1.41" />
<path d="M1174.8 63.7 L1173.1 61.8 L1172.1 60.8 L1170.2 59" stroke="#62a848" stroke-width="1.36" />
<path d="M1170.2 59 L1169.8 57 L1169.7 54.6 L1169.7 53.2" stroke="#3a86d0" stroke-width="1.32" />
<path d="M1169.7 53.2 L1168.8 51.3 L1168.6 48.5 L1168.2 47.2" stroke="#62a848" stroke-width="1.27" />
<path d="M1168.2 47.2 L1168.4 45 L1167.7 43.3 L1167.1 40.7" stroke="#3a86d0" stroke-width="1.23" />
<path d="M1167.1 40.7 L1166.7 39.2 L1166.7 37.1 L1165.2 35.7" stroke="#62a848" stroke-width="1.18" />
<path d="M1165.2 35.7 L1164.5 34.5" stroke="#3a86d0" stroke-width="1.16" />
<path d="M1258.5 149.1 L1257 147.8 L1255.4 147.2 L1254.3 145.8 L1252.7 144.2" stroke="#3a58cc" stroke-width="2.16" />
<path d="M1252.7 144.2 L1251 142.8 L1249.3 141.4 L1249.5 139.4 L1248.4 136.7" stroke="#62a848" stroke-width="2.07" />
<path d="M1248.4 136.7 L1248 135.5 L1248.3 133.5 L1247.5 130.7" stroke="#3a58cc" stroke-width="1.98" />
<path d="M1247.5 130.7 L1246.7 129.8 L1245.6 127.3 L1244.5 126" stroke="#62a848" stroke-width="1.92" />
<path d="M1244.5 126 L1243.5 124.1 L1243.1 123 L1241.8 121.2 L1242.3 118.7" stroke="#3a58cc" stroke-width="1.84" />
<path d="M1242.3 118.7 L1241.8 116.6 L1241.7 114.9 L1242.1 113" stroke="#62a848" stroke-width="1.76" />
<path d="M1242.1 113 L1240.8 111 L1239.7 109.4 L1238.8 108 L1238.6 106.8" stroke="#3a58cc" stroke-width="1.69" />
<path d="M1238.6 106.8 L1237.2 104.6 L1236 104.3 L1234.1 102.9" stroke="#62a848" stroke-width="1.61" />
<path d="M1234.1 102.9 L1233.1 101.6 L1231.2 100.3 L1229.7 99.4 L1227.5 97.8" stroke="#3a58cc" stroke-width="1.53" />
<path d="M1227.5 97.8 L1226.2 96.6 L1224.1 95.9 L1222.7 94.1 L1221.1 93.3" stroke="#62a848" stroke-width="1.44" />
<path d="M1221.1 93.3 L1219.4 92 L1218.2 90.8 L1216.9 89.1 L1215.3 87.9" stroke="#3a58cc" stroke-width="1.35" />
<path d="M1215.3 87.9 L1213.9 85.9 L1212.9 84.3 L1211.6 82.7" stroke="#62a848" stroke-width="1.27" />
<path d="M1211.6 82.7 L1209.5 81.9 L1208.5 81 L1206.1 80.1 L1204.9 79.8" stroke="#3a58cc" stroke-width="1.19" />
<path d="M1204.9 79.8 L1203.4 79.2 L1201.4 78.2 L1199.4 78.1" stroke="#62a848" stroke-width="1.12" />
<path d="M1199.4 78.1 L1197.9 77.7 L1196.5 77.9 L1194.4 77.7" stroke="#3a58cc" stroke-width="1.06" />
<path d="M1194.4 77.7 L1192.1 77 L1190.5 77.5 L1188.5 77.4" stroke="#62a848" stroke-width="0.99" />
<path d="M1287.5 377.2 L1289.4 376.3 L1291.2 375.7 L1293.8 374.6 L1295.3 373.6" stroke="#3a58cc" stroke-width="1.93" />
<path d="M1295.3 373.6 L1296.8 372.4 L1298.8 371.3 L1300.8 370.1 L1302 369" stroke="#c8b43c" stroke-width="1.84" />
<path d="M1302 369 L1303.9 367.7 L1305.6 367 L1307.3 365.4 L1309 364.8" stroke="#3a58cc" stroke-width="1.75" />
<path d="M1309 364.8 L1310.9 363.3 L1312.7 361.9 L1314.3 360.9 L1316.5 360.1" stroke="#c8b43c" stroke-width="1.66" />
<path d="M1316.5 360.1 L1318.1 358.3 L1319.5 357.2 L1321.3 355.6" stroke="#3a58cc" stroke-width="1.58" />
<path d="M1321.3 355.6 L1322.3 354.7 L1323.9 353.2 L1325.9 351.4 L1326.5 350" stroke="#c8b43c" stroke-width="1.5" />
<path d="M1326.5 350 L1328 348.4 L1329.2 346.6 L1330.9 344.7" stroke="#3a58cc" stroke-width="1.42" />
<path d="M1330.9 344.7 L1332.5 343.6 L1333.4 341.6 L1334.6 340.1" stroke="#c8b43c" stroke-width="1.35" />
<path d="M1334.6 340.1 L1336.2 338.9 L1337.3 337.1 L1338.7 335.4" stroke="#3a58cc" stroke-width="1.29" />
<path d="M1338.7 335.4 L1340.1 333.6 L1341.5 332.3 L1342.9 330.7 L1343.8 330" stroke="#c8b43c" stroke-width="1.21" />
<path d="M1343.8 330 L1345.5 328.5" stroke="#3a58cc" stroke-width="1.16" />
<path d="M1283.5 460.7 L1281.8 460.4 L1279.2 459.4 L1277.6 459 L1275.4 458.4" stroke="#c8b43c" stroke-width="2.4" />
<path d="M1275.4 458.4 L1273.5 458.1 L1271.9 457.4 L1270.3 456.5" stroke="#3a58cc" stroke-width="2.34" />
<path d="M1270.3 456.5 L1268.7 455.2 L1267.1 454.1 L1265.4 453.6 L1263.5 453" stroke="#c8b43c" stroke-width="2.29" />
<path d="M1263.5 453 L1262.2 451.2 L1261.1 450.5 L1258.9 449.3 L1257.1 448.9" stroke="#3a58cc" stroke-width="2.22" />
<path d="M1257.1 448.9 L1255.6 447.7 L1253.3 446.5 L1251.9 445.6 L1249.9 445" stroke="#c8b43c" stroke-width="2.15" />
<path d="M1249.9 445 L1248 443.2 L1246.7 441.3" stroke="#3a58cc" stroke-width="2.09" />
<path d="M1246.7 441.3 L1246.2 439.4 L1244.7 437.8 L1243.2 435.7" stroke="#c8b43c" stroke-width="2.04" />
<path d="M1243.2 435.7 L1241.3 434.6 L1239.2 433.8 L1237.6 432.9" stroke="#3a58cc" stroke-width="1.98" />
<path d="M1237.6 432.9 L1235.6 431.7 L1234.2 430.6 L1232.2 428.8" stroke="#c8b43c" stroke-width="1.92" />
<path d="M1232.2 428.8 L1230.9 427.5 L1228.5 426.2 L1227.4 425.4 L1225.6 423.8" stroke="#3a58cc" stroke-width="1.86" />
<path d="M1225.6 423.8 L1224.5 422.5 L1222.6 420.7 L1221.4 419.2 L1219.4 418" stroke="#c8b43c" stroke-width="1.78" />
<path d="M1219.4 418 L1218.6 416.3 L1217.1 415.4 L1215.2 413.3" stroke="#3a58cc" stroke-width="1.72" />
<path d="M1215.2 413.3 L1214.2 411.8 L1213.2 410.7 L1211.5 408.9 L1210.3 406.6" stroke="#c8b43c" stroke-width="1.65" />
<path d="M1210.3 406.6 L1209.3 405 L1207.1 403.6 L1206.1 401.9 L1205.4 400.7" stroke="#3a58cc" stroke-width="1.58" />
<path d="M1205.4 400.7 L1204.4 398.9 L1203.8 397 L1202.3 395.1" stroke="#c8b43c" stroke-width="1.52" />
<path d="M1202.3 395.1 L1201.5 393.5 L1199.6 392.6 L1197.3 391.7 L1195.9 390.3" stroke="#3a58cc" stroke-width="1.46" />
<path d="M1195.9 390.3 L1193.4 389.1 L1191.9 387.7 L1190.9 386.9 L1189.9 385.5" stroke="#c8b43c" stroke-width="1.39" />
<path d="M1189.9 385.5 L1188.8 383.6 L1188.9 381.1 L1189.1 379.3 L1189.7 377.2" stroke="#3a58cc" stroke-width="1.31" />
<path d="M1189.7 377.2 L1189.9 375.4 L1190.5 373.7 L1190.8 372.2" stroke="#c8b43c" stroke-width="1.25" />
<path d="M1190.8 372.2 L1192.1 370.4 L1192.2 368.6 L1192.8 367.3 L1192.7 364.8" stroke="#3a58cc" stroke-width="1.2" />
<path d="M1192.7 364.8 L1192.5 363.5" stroke="#c8b43c" stroke-width="1.16" />
<path d="M1284.5 431.7 L1283 430.8 L1281.1 429.1 L1279.4 427.9" stroke="#3a58cc" stroke-width="2.17" />
<path d="M1279.4 427.9 L1277.7 427.1 L1275.5 425.5" stroke="#cfa23c" stroke-width="2.12" />
<path d="M1275.5 425.5 L1274.6 424.2 L1273 423.2 L1271.2 422.9 L1269.3 421.5" stroke="#3a58cc" stroke-width="2.05" />
<path d="M1269.3 421.5 L1267.6 420.8 L1266.2 419.7 L1264.3 418.7" stroke="#cfa23c" stroke-width="1.98" />
<path d="M1264.3 418.7 L1263.2 417.9 L1261.6 416.4 L1259.5 415.5" stroke="#3a58cc" stroke-width="1.92" />
<path d="M1259.5 415.5 L1257.7 414.7 L1255.9 413.3 L1254.7 412.5 L1252.4 410.7" stroke="#cfa23c" stroke-width="1.84" />
<path d="M1252.4 410.7 L1251.2 410.2 L1249.2 408.9 L1247.8 407.7" stroke="#3a58cc" stroke-width="1.77" />
<path d="M1247.8 407.7 L1246.7 406.2 L1244.5 405.3 L1242.8 404.4 L1241.7 403.7 L1239.7 402.4" stroke="#cfa23c" stroke-width="1.69" />
<path d="M1239.7 402.4 L1238.5 400.3 L1237.3 399.4 L1235.2 398" stroke="#3a58cc" stroke-width="1.6" />
<path d="M1235.2 398 L1234.2 396.3 L1231.9 395.9 L1231 394.2" stroke="#cfa23c" stroke-width="1.54" />
<path d="M1231 394.2 L1229.3 393.8 L1227.6 392.9 L1225.9 391.8 L1223.8 391.8" stroke="#3a58cc" stroke-width="1.46" />
<path d="M1223.8 391.8 L1221.3 390.9 L1219.7 390.5" stroke="#cfa23c" stroke-width="1.4" />
<path d="M1219.7 390.5 L1217.6 389.4 L1215.3 389.2 L1213.2 389.1 L1211.9 388.1" stroke="#3a58cc" stroke-width="1.33" />
<path d="M1211.9 388.1 L1209.7 388.1 L1207.2 387.8 L1206.1 386" stroke="#cfa23c" stroke-width="1.25" />
<path d="M1206.1 386 L1203.9 384.6 L1202.9 383.3 L1201.1 382" stroke="#3a58cc" stroke-width="1.18" />
<path d="M1269.5 456.7 L1267.4 455.6 L1265.6 454.9 L1263.4 454.1" stroke="#3a58cc" stroke-width="1.7" />
<path d="M1263.4 454.1 L1261.4 453.6 L1259.8 452.7 L1257.4 452.8" stroke="#c8b43c" stroke-width="1.64" />
<path d="M1257.4 452.8 L1255.2 452.7 L1253.4 452.3 L1251.8 452.7 L1249.3 452.4" stroke="#3a58cc" stroke-width="1.56" />
<path d="M1249.3 452.4 L1247.1 451.8 L1245.1 452 L1243.4 452.1 L1241.4 451.9" stroke="#c8b43c" stroke-width="1.48" />
<path d="M1241.4 451.9 L1239.7 452.2 L1237.5 451.8 L1235.1 452.4 L1233.8 452.5" stroke="#3a58cc" stroke-width="1.4" />
<path d="M1233.8 452.5 L1231.4 452.6 L1229.6 453 L1227.1 453.1" stroke="#c8b43c" stroke-width="1.32" />
<path d="M1227.1 453.1 L1225.2 453.5 L1223.2 453.8 L1221.8 454.1" stroke="#3a58cc" stroke-width="1.26" />
<path d="M1221.8 454.1 L1219.8 455 L1217.5 455.2 L1215.5 455.3 L1213.1 456" stroke="#c8b43c" stroke-width="1.19" />
<path d="M1213.1 456 L1210.8 456.6 L1209.5 456.6 L1207.2 457.3 L1205.1 457.7" stroke="#3a58cc" stroke-width="1.1" />
<path d="M1295.5 522.2 L1293.3 521.8 L1291.4 522 L1289.7 521.6" stroke="#3a58cc" stroke-width="2.41" />
<path d="M1289.7 521.6 L1287.4 521.3 L1285.3 520.5 L1283.2 520.2" stroke="#cfa23c" stroke-width="2.35" />
<path d="M1283.2 520.2 L1281.7 519.7 L1279.6 518.6 L1277.6 517.6" stroke="#3a58cc" stroke-width="2.29" />
<path d="M1277.6 517.6 L1275.6 517 L1273.9 516.1 L1271.4 515.9 L1269.7 514.2" stroke="#cfa23c" stroke-width="2.21" />
<path d="M1269.7 514.2 L1267.5 513.8 L1265.6 513.6 L1263.1 512.6 L1261.1 512.1" stroke="#3a58cc" stroke-width="2.13" />
<path d="M1261.1 512.1 L1259.5 511.6 L1257.9 511.2 L1255.1 511" stroke="#cfa23c" stroke-width="2.05" />
<path d="M1255.1 511 L1253.2 510.2 L1251.1 509.8" stroke="#3a58cc" stroke-width="2" />
<path d="M1251.1 509.8 L1249.5 510 L1247.4 509.2 L1245.3 509.1" stroke="#cfa23c" stroke-width="1.95" />
<path d="M1245.3 509.1 L1243.2 508.4 L1241.3 508.8 L1239.4 508.3 L1237.4 508.2" stroke="#3a58cc" stroke-width="1.89" />
<path d="M1237.4 508.2 L1235.3 507.4 L1233.2 507.4 L1231.9 507.2" stroke="#cfa23c" stroke-width="1.82" />
<path d="M1231.9 507.2 L1229.7 505.9 L1227.7 505.9 L1225.7 504.6" stroke="#3a58cc" stroke-width="1.76" />
<path d="M1225.7 504.6 L1223.3 504.3 L1221.3 503.6 L1220.2 502.8" stroke="#cfa23c" stroke-width="1.69" />
<path d="M1220.2 502.8 L1218.2 501.9 L1216.5 500.4 L1215.3 499.7" stroke="#3a58cc" stroke-width="1.64" />
<path d="M1215.3 499.7 L1213.6 498.7 L1212.1 497.5 L1210.4 495.7" stroke="#cfa23c" stroke-width="1.58" />
<path d="M1210.4 495.7 L1209.4 494.6 L1207.9 493.1 L1206.7 492.2 L1205.1 490.5" stroke="#3a58cc" stroke-width="1.51" />
<path d="M1205.1 490.5 L1204.6 488.8 L1203.6 487.1 L1202.6 485.5 L1201.5 483.7 L1200.9 481.8" stroke="#cfa23c" stroke-width="1.43" />
<path d="M1200.9 481.8 L1199.7 480.2 L1199.2 478.1 L1198.3 476" stroke="#3a58cc" stroke-width="1.35" />
<path d="M1198.3 476 L1198.7 473.8 L1198.7 471.9 L1198.7 470.8 L1198.5 468.7" stroke="#cfa23c" stroke-width="1.28" />
<path d="M1298.5 504.8 L1299.8 503.3 L1301.1 501.8 L1302.7 500" stroke="#3a58cc" stroke-width="2.41" />
<path d="M1302.7 500 L1304.1 498.1 L1305.1 497.2 L1306.5 495" stroke="#cfa23c" stroke-width="2.36" />
<path d="M1306.5 495 L1307.3 494 L1309.2 492.3 L1310.2 491.4 L1311.9 489.7" stroke="#34a8c4" stroke-width="2.3" />
<path d="M1311.9 489.7 L1313.2 489 L1314.3 487.2 L1316.2 485.9" stroke="#3a58cc" stroke-width="2.24" />
<path d="M1316.2 485.9 L1317.5 484.7 L1318.8 484.1 L1320.9 482.6 L1322.7 482" stroke="#cfa23c" stroke-width="2.19" />
<path d="M1322.7 482 L1323.9 480.7 L1326.2 479.5 L1327.5 478.8" stroke="#34a8c4" stroke-width="2.13" />
<path d="M1327.5 478.8 L1329.9 477.5 L1331 477.2 L1332.7 476.1" stroke="#3a58cc" stroke-width="2.08" />
<path d="M1332.7 476.1 L1334.4 475.3 L1336.4 474.6 L1338.2 474.2" stroke="#cfa23c" stroke-width="2.03" />
<path d="M1338.2 474.2 L1340.1 473.3 L1341.1 472.9 L1343 472 L1344.9 470.9" stroke="#34a8c4" stroke-width="1.97" />
<path d="M1344.9 470.9 L1346.5 470.2 L1348.2 469.9 L1350.1 469.5 L1352.2 468.6" stroke="#3a58cc" stroke-width="1.91" />
<path d="M1352.2 468.6 L1353.5 467.4 L1355.1 466.2 L1356.9 464.9 L1358.1 463.7" stroke="#cfa23c" stroke-width="1.84" />
<path d="M1358.1 463.7 L1359.1 461.5 L1359.4 459.3 L1359.5 457.7 L1360.6 456.4" stroke="#34a8c4" stroke-width="1.78" />
<path d="M1360.6 456.4 L1362.6 455.2 L1363.5 454.1 L1364.6 452.6 L1366 450.7" stroke="#3a58cc" stroke-width="1.71" />
<path d="M1366 450.7 L1367.2 449.7 L1369 448.2 L1369.8 446.7 L1371.5 445.5" stroke="#cfa23c" stroke-width="1.64" />
<path d="M1371.5 445.5 L1372.9 444.6 L1374.1 442.8 L1375.4 442 L1377.4 440.2" stroke="#34a8c4" stroke-width="1.57" />
<path d="M1377.4 440.2 L1378.4 439 L1380.2 438.1 L1381.6 437.1" stroke="#3a58cc" stroke-width="1.52" />
<path d="M1381.6 437.1 L1383.1 435.8 L1385.5 435.2" stroke="#cfa23c" stroke-width="1.48" />
<path d="M1385.5 435.2 L1387.1 433.9 L1389.5 433.5 L1391.9 432.9" stroke="#34a8c4" stroke-width="1.43" />
<path d="M1391.9 432.9 L1393.3 432.4 L1395.4 431.3 L1397.5 431.1" stroke="#3a58cc" stroke-width="1.37" />
<path d="M1397.5 431.1 L1399.5 431 L1401.8 431 L1403.1 431.4" stroke="#cfa23c" stroke-width="1.32" />
<path d="M1403.1 431.4 L1405.7 431.1 L1407.5 431.1 L1409.7 431.1" stroke="#34a8c4" stroke-width="1.27" />
<path d="M1409.7 431.1 L1411.4 431 L1413.5 430.8 L1415 431" stroke="#3a58cc" stroke-width="1.22" />
<path d="M1415 431 L1417.1 430.5 L1418.3 430.6 L1420.5 430.3" stroke="#cfa23c" stroke-width="1.17" />
<path d="M1299.5 514.8 L1301.5 514.6 L1303.7 513.8 L1305.7 512.8 L1307.7 512.2" stroke="#2fa088" stroke-width="3.39" />
<path d="M1307.7 512.2 L1309.5 511.9 L1311.7 510.5" stroke="#3a86d0" stroke-width="3.23" />
<path d="M1311.7 510.5 L1313.4 510.1 L1315.8 509.2 L1317.2 507.5" stroke="#2fa088" stroke-width="3.09" />
<path d="M1317.2 507.5 L1319.1 507.4 L1321.7 506.7 L1323.8 506" stroke="#3a86d0" stroke-width="2.93" />
<path d="M1323.8 506 L1325.6 505.8 L1327.6 504.8 L1329.6 504 L1331.7 503.3" stroke="#2fa088" stroke-width="2.74" />
<path d="M1331.7 503.3 L1333.2 502.5 L1335.4 501.7 L1337.6 501.5 L1339.4 501.3" stroke="#3a86d0" stroke-width="2.53" />
<path d="M1339.4 501.3 L1341.4 501.6 L1343.1 500.6 L1345.7 500.7" stroke="#2fa088" stroke-width="2.35" />
<path d="M1345.7 500.7 L1347.5 501.7 L1349.4 502.3 L1351.1 503.7" stroke="#3a86d0" stroke-width="2.19" />
<path d="M1351.1 503.7 L1353.5 502.3 L1354.7 501.4 L1355.9 501" stroke="#2fa088" stroke-width="2.04" />
<path d="M1355.9 501 L1358.2 499.5 L1359.3 499 L1361.8 497.6 L1363.4 496.1" stroke="#3a86d0" stroke-width="1.86" />
<path d="M1363.4 496.1 L1365.8 497.2 L1367.8 496.9" stroke="#2fa088" stroke-width="1.69" />
<path d="M1367.8 496.9 L1369.6 498.2 L1371.7 498.2 L1373 498.4 L1375.4 499" stroke="#3a86d0" stroke-width="1.54" />
<path d="M1375.4 499 L1377.3 500.1 L1378.8 500.9 L1381.1 501.3 L1382.5 501.8" stroke="#2fa088" stroke-width="1.34" />
<path d="M1288.5 558.4 L1286.9 558.6 L1285.3 559 L1282.6 559.3" stroke="#cfa23c" stroke-width="4.24" />
<path d="M1282.6 559.3 L1280.7 558.9 L1279.7 559 L1277.5 559.8 L1275.5 559.6" stroke="#3b2bb0" stroke-width="3.92" />
<path d="M1275.5 559.6 L1273.2 560.3 L1271.5 559.9 L1269.5 560.5" stroke="#cfa23c" stroke-width="3.59" />
<path d="M1269.5 559.9 L1268.3 558.6 L1266.3 557.9 L1265.4 556.6" stroke="#3a86d0" stroke-width="2.66" />
<path d="M1265.4 556.6 L1263.2 555.6 L1261.7 554.5 L1260.4 553.6 L1258.9 552.1" stroke="#30a0a0" stroke-width="2.61" />
<path d="M1258.9 552.1 L1257.4 551.1 L1255.9 550.1 L1253.9 549.2" stroke="#3a86d0" stroke-width="2.57" />
<path d="M1253.9 549.2 L1251.9 548.7 L1249.7 547.8" stroke="#30a0a0" stroke-width="2.54" />
<path d="M1249.7 547.8 L1247.3 547.8 L1245.8 548.3 L1243.7 548.6" stroke="#3a86d0" stroke-width="2.5" />
<path d="M1243.7 548.6 L1241.5 548.6 L1239.2 548 L1237.5 547.4" stroke="#30a0a0" stroke-width="2.46" />
<path d="M1237.5 547.4 L1236.8 546.2 L1235.3 544.7 L1234.3 542.9 L1233.4 541.6" stroke="#3b2bb0" stroke-width="2.4" />
<path d="M1233.4 541.6 L1232.8 539.8 L1231.8 538 L1230.2 535.9" stroke="#b0a030" stroke-width="2.31" />
<path d="M1230.2 535.9 L1229.2 534.4 L1228.5 533.3 L1227.6 531.4 L1226.3 530.3" stroke="#3b2bb0" stroke-width="2.23" />
<path d="M1226.3 530.3 L1225.9 528 L1224.4 526.9 L1223.8 525.2 L1222.8 523.3" stroke="#b0a030" stroke-width="2.14" />
<path d="M1222.8 523.3 L1222.2 521.9 L1221.3 519.5 L1220.6 518.1" stroke="#3b2bb0" stroke-width="2.06" />
<path d="M1220.6 518.1 L1220.7 516 L1219.9 513.6 L1218.9 511.4 L1218.9 509.4" stroke="#b0a030" stroke-width="1.97" />
<path d="M1218.9 509.4 L1217.4 508.2 L1215.7 506.7 L1215.1 505.1" stroke="#3b2bb0" stroke-width="1.88" />
<path d="M1215.1 505.1 L1213.2 503.9 L1212 502.5 L1209.9 501.5" stroke="#b0a030" stroke-width="1.8" />
<path d="M1209.9 501.5 L1208.5 499.8" stroke="#3b2bb0" stroke-width="1.75" />
<path d="M1249.5 548.4 L1247.4 548.1 L1245.6 548.9 L1243.1 548.2" stroke="#2fa088" stroke-width="2.19" />
<path d="M1243.1 548.2 L1241.2 548.5 L1239.8 549.1 L1237.9 548.9 L1235.2 549.6" stroke="#3a86d0" stroke-width="2.14" />
<path d="M1235.2 549.6 L1233.6 549.7 L1231.3 549.8 L1229.5 550.4" stroke="#2fa088" stroke-width="2.1" />
<path d="M1229.5 550.4 L1227.2 550.7 L1225.2 551 L1223.3 551.3 L1221.8 551.8" stroke="#3a86d0" stroke-width="2.06" />
<path d="M1221.8 551.8 L1219.6 552 L1217.7 551.9 L1215.7 552.5 L1213.6 553" stroke="#2fa088" stroke-width="2.01" />
<path d="M1213.6 553 L1211.6 553 L1209.2 552.9 L1207.8 552.9 L1205.1 553.2" stroke="#3a86d0" stroke-width="1.96" />
<path d="M1205.1 553.2 L1203.9 553.7 L1201.9 553.8 L1199.1 554.4" stroke="#2fa088" stroke-width="1.92" />
<path d="M1199.1 554.4 L1197.3 554.1 L1195.4 554.8 L1193.9 554.9" stroke="#3a86d0" stroke-width="1.88" />
<path d="M1193.9 554.9 L1191.6 555.3 L1189.3 556.7 L1187.1 557.1" stroke="#2fa088" stroke-width="1.84" />
<path d="M1187.1 557.1 L1185.1 558.3 L1183.5 559.1 L1181.8 559.9" stroke="#3a86d0" stroke-width="1.8" />
<path d="M1181.8 559.9 L1180.4 560.7 L1178.4 561.2 L1177.4 562.6 L1175.7 563.6 L1173.4 563.8" stroke="#2fa088" stroke-width="1.76" />
<path d="M1173.4 563.8 L1171.9 564.7 L1169.9 565.4 L1167.9 566.5 L1165.2 566" stroke="#3a86d0" stroke-width="1.7" />
<path d="M1165.2 566 L1163.7 566.4 L1161.4 565.9 L1159.8 565.1 L1157.3 564.8" stroke="#2fa088" stroke-width="1.65" />
<path d="M1157.3 564.8 L1155.7 564.7 L1153.9 563.8 L1151.8 563.1 L1149.8 563.2" stroke="#3a86d0" stroke-width="1.6" />
<path d="M1149.8 563.2 L1147.7 562.5 L1145.9 562.2 L1143.1 561.7" stroke="#2fa088" stroke-width="1.56" />
<path d="M1143.1 561.7 L1141.3 560.8 L1139.6 560.7 L1137.9 559.6" stroke="#3a86d0" stroke-width="1.52" />
<path d="M1137.9 559.6 L1135.4 559.2 L1133.6 559.3 L1131.6 559.9" stroke="#2fa088" stroke-width="1.48" />
<path d="M1131.6 559.9 L1129.3 560 L1127.7 561 L1125.7 561.3" stroke="#3a86d0" stroke-width="1.45" />
<path d="M1125.7 561.3 L1123.5 561.5 L1121.5 562 L1119.4 561.5" stroke="#2fa088" stroke-width="1.41" />
<path d="M1119.4 561.5 L1117.6 559.9 L1116.9 558.4 L1115.1 556.6 L1114.5 554.9" stroke="#3a86d0" stroke-width="1.37" />
<path d="M1269.5 560.5 L1267.8 561.6 L1265.2 561.6 L1263.1 562.4 L1261.1 563.3" stroke="#3a58cc" stroke-width="2.61" />
<path d="M1261.1 563.3 L1259.3 564.1 L1257.6 564.5 L1255.3 565.1 L1253.7 565.6" stroke="#cfa23c" stroke-width="2.48" />
<path d="M1253.7 565.6 L1251.5 565.9 L1249.3 566.3 L1247.5 567.5" stroke="#3a58cc" stroke-width="2.38" />
<path d="M1247.5 567.5 L1245.2 568.5 L1243.8 569.2 L1241.8 569.7" stroke="#cfa23c" stroke-width="2.28" />
<path d="M1241.8 569.7 L1239.2 570.2 L1237.7 571.6 L1235.2 571.5" stroke="#3a58cc" stroke-width="2.18" />
<path d="M1235.2 571.5 L1233.4 572.6 L1231.6 573.1 L1229.8 574 L1227.9 574.8" stroke="#cfa23c" stroke-width="2.07" />
<path d="M1227.9 574.8 L1225.3 575.2 L1223.9 576 L1221.8 576.1 L1219.5 577.2" stroke="#3a58cc" stroke-width="1.94" />
<path d="M1219.5 577.2 L1217.9 577.3 L1215.1 576.8 L1213.9 577 L1211.9 576.7" stroke="#cfa23c" stroke-width="1.82" />
<path d="M1211.9 576.7 L1209.4 576.7 L1208 575.7 L1206.4 575 L1205.6 573.7" stroke="#3a58cc" stroke-width="1.7" />
<path d="M1205.6 573.7 L1204.2 571.4 L1202.8 569.5 L1200.4 569.5" stroke="#cfa23c" stroke-width="1.59" />
<path d="M1200.4 569.5 L1198.3 568.2 L1196.9 568.9 L1195.3 570.1 L1194.9 572.3" stroke="#3a58cc" stroke-width="1.47" />
<path d="M1194.9 572.3 L1195.1 574.1 L1197.4 574.8 L1199.1 576.8 L1201.3 575.1" stroke="#cfa23c" stroke-width="1.34" />
<path d="M1201.3 575.1 L1202.5 573.9" stroke="#3a58cc" stroke-width="1.26" />
<path d="M1259.5 564.9 L1258.2 565.3 L1256.2 566.7 L1254.2 567.8 L1252.8 568 L1251.1 569.2" stroke="#cfa23c" stroke-width="1.9" />
<path d="M1251.1 569.2 L1249.4 569.5 L1247.5 571 L1245.8 571.4" stroke="#3a58cc" stroke-width="1.79" />
<path d="M1245.8 571.4 L1244.8 572.8 L1243.2 573 L1240.7 574.3" stroke="#cfa23c" stroke-width="1.7" />
<path d="M1240.7 574.3 L1239.6 574.8 L1237.4 575.7 L1235.9 576.7 L1234.9 577.2 L1232.5 578.5" stroke="#3a58cc" stroke-width="1.59" />
<path d="M1232.5 578.5 L1230.8 578.9 L1229.4 580.4 L1227.7 580.8 L1226.1 581.7" stroke="#cfa23c" stroke-width="1.47" />
<path d="M1226.1 581.7 L1224.4 583.1 L1222.7 584.2 L1220.9 584.6 L1219.6 585.9" stroke="#3a58cc" stroke-width="1.35" />
<path d="M1219.6 585.9 L1218.1 586.2 L1216.1 587.3 L1214 587.4" stroke="#cfa23c" stroke-width="1.25" />
<path d="M1214 587.4 L1212.4 588.6 L1210.5 589" stroke="#3a58cc" stroke-width="1.18" />
<path d="M1245.5 573.9 L1245.3 576.3 L1244.5 577.8 L1244.6 580.2" stroke="#cfa23c" stroke-width="1.73" />
<path d="M1244.6 580.2 L1244.5 581.9 L1245.2 584.3 L1245.1 586" stroke="#3a58cc" stroke-width="1.5" />
<path d="M1245.1 586 L1244.9 588.2 L1244.4 589.7 L1244.5 592" stroke="#cfa23c" stroke-width="1.27" />
<path d="M1255.5 566.9 L1254.1 567.9 L1252.6 568.7 L1250.1 569 L1248.4 570.2" stroke="#2fa088" stroke-width="2.41" />
<path d="M1248.4 570.2 L1246.7 571.1 L1245.6 571.7 L1244.2 573.1" stroke="#3a86d0" stroke-width="2.35" />
<path d="M1244.2 573.1 L1242.7 574.2 L1240.8 575.6 L1238.9 577 L1237.1 577.7" stroke="#2fa088" stroke-width="2.29" />
<path d="M1237.1 577.7 L1235.7 579.3 L1234.2 579.5 L1232.3 581.1" stroke="#3a86d0" stroke-width="2.22" />
<path d="M1232.3 581.1 L1231.1 581.6 L1229.4 582.9 L1227.5 583.9" stroke="#2fa088" stroke-width="2.17" />
<path d="M1227.5 583.9 L1225.8 585.4 L1224.5 586.3 L1222.7 587.1" stroke="#3a86d0" stroke-width="2.12" />
<path d="M1222.7 587.1 L1220.5 587.6 L1219.5 589.1 L1217.6 589.8 L1215.6 591.4" stroke="#2fa088" stroke-width="2.06" />
<path d="M1215.6 591.4 L1214.2 591.5 L1212.4 592.8 L1210.4 594.4" stroke="#3a86d0" stroke-width="2" />
<path d="M1210.4 594.4 L1209.5 595.3 L1207.1 595.9 L1205.2 597 L1203.8 597.8" stroke="#2fa088" stroke-width="1.94" />
<path d="M1203.8 597.8 L1201.8 598 L1199.1 598.8 L1197.8 600.3" stroke="#3a86d0" stroke-width="1.87" />
<path d="M1197.8 600.3 L1195.5 600.3 L1193.8 600.7 L1191.3 601" stroke="#2fa088" stroke-width="1.81" />
<path d="M1191.3 601 L1189.9 601.9 L1188.2 603.5 L1186.6 604.9" stroke="#3a86d0" stroke-width="1.76" />
<path d="M1186.6 604.9 L1185.2 606.1 L1183.9 606.6 L1181.7 607.3 L1179.3 607.9" stroke="#2fa088" stroke-width="1.7" />
<path d="M1179.3 607.9 L1177.9 608.1 L1175.4 608.7 L1173.9 609.3" stroke="#3a86d0" stroke-width="1.64" />
<path d="M1173.9 609.3 L1171.7 609.7 L1169.7 609.9 L1167.7 611.7" stroke="#2fa088" stroke-width="1.58" />
<path d="M1167.7 611.7 L1166.2 613.4 L1165.6 614.8 L1165.7 616.1 L1166.4 618.1 L1167.1 619.7" stroke="#3a86d0" stroke-width="1.51" />
<path d="M1167.1 619.7 L1169.3 619.2 L1171.5 619" stroke="#2fa088" stroke-width="1.45" />
<path d="M1247.5 569.9 L1246.4 571.4 L1244.8 572.7 L1242.8 574.3 L1241.9 576.1" stroke="#3a58cc" stroke-width="2.88" />
<path d="M1241.9 576.1 L1241.2 578.2 L1240.7 580.1 L1240.5 582 L1240.1 583.6" stroke="#cfa23c" stroke-width="2.82" />
<path d="M1240.1 583.6 L1239.9 586.2 L1238.9 588.3 L1237.7 589.7" stroke="#3a58cc" stroke-width="2.76" />
<path d="M1237.7 589.7 L1237.3 591.9 L1236.8 594 L1236.2 596.2 L1235.6 597.7" stroke="#cfa23c" stroke-width="2.7" />
<path d="M1235.6 597.7 L1234.5 599.8 L1233.8 602 L1233.3 604.1 L1233 606.1" stroke="#3a58cc" stroke-width="2.64" />
<path d="M1233 606.1 L1231.9 608 L1231.8 610.3 L1231.1 611.7" stroke="#cfa23c" stroke-width="2.58" />
<path d="M1231.1 611.7 L1230.9 614 L1230.2 615.3 L1228.8 617.5" stroke="#3a58cc" stroke-width="2.53" />
<path d="M1228.8 617.5 L1228.1 619.3 L1227.9 620.9 L1227.1 622.3" stroke="#cfa23c" stroke-width="2.49" />
<path d="M1227.1 622.3 L1226.3 624.6 L1225.3 626.4 L1224.4 627.7 L1223.7 629.5" stroke="#3a58cc" stroke-width="2.44" />
<path d="M1223.7 629.5 L1223.8 631.6 L1223.1 632.7 L1221.7 634.5" stroke="#cfa23c" stroke-width="2.39" />
<path d="M1221.7 634.5 L1220.9 636.3 L1220.3 638 L1219.9 639.9" stroke="#3a58cc" stroke-width="2.34" />
<path d="M1219.9 639.9 L1219.2 642.1 L1218.7 643.7 L1218.2 645.7 L1218.2 647.7" stroke="#cfa23c" stroke-width="2.29" />
<path d="M1218.2 647.7 L1217.5 649.5 L1215.6 650.2 L1214.2 651.9" stroke="#3a58cc" stroke-width="2.24" />
<path d="M1214.2 651.9 L1212.9 653.1 L1211.2 655.1 L1209.1 656.5" stroke="#cfa23c" stroke-width="2.19" />
<path d="M1209.1 656.5 L1208.4 658 L1208.1 660 L1207.6 660.9 L1206.5 663.4" stroke="#3a58cc" stroke-width="2.13" />
<path d="M1206.5 663.4 L1205.9 665.1 L1205.1 666.6 L1204.6 668.2" stroke="#cfa23c" stroke-width="2.09" />
<path d="M1204.6 668.2 L1203.8 670 L1201.9 671.6 L1201.4 673.4" stroke="#3a58cc" stroke-width="2.04" />
<path d="M1201.4 673.4 L1200.2 674.4 L1198.5 676.2 L1197.2 678.1" stroke="#cfa23c" stroke-width="1.99" />
<path d="M1197.2 678.1 L1196.4 679.2 L1194.5 680.6 L1192.6 681.8 L1191.4 682.4" stroke="#3a58cc" stroke-width="1.94" />
<path d="M1191.4 682.4 L1189.8 684.2 L1188.4 685.1 L1187.2 686.4 L1185.7 686.8 L1184.4 688.7" stroke="#cfa23c" stroke-width="1.88" />
<path d="M1184.4 688.7 L1183.4 690 L1182.4 691.7 L1180.9 693.1" stroke="#3a58cc" stroke-width="1.82" />
<path d="M1180.9 693.1 L1180.1 695 L1179.1 696.6 L1177.3 698" stroke="#cfa23c" stroke-width="1.77" />
<path d="M1177.3 698 L1176.4 699.8 L1175.2 701 L1173.8 702.7 L1173 704.4 L1171.4 706.3" stroke="#3a58cc" stroke-width="1.71" />
<path d="M1171.4 706.3 L1171 707.6 L1170.3 709.9 L1168.8 711.1" stroke="#cfa23c" stroke-width="1.65" />
<path d="M1168.8 711.1 L1167.8 712.9 L1167.4 714.6 L1166.1 716.3 L1165.3 717.2 L1163.7 718.9" stroke="#3a58cc" stroke-width="1.59" />
<path d="M1163.7 718.9 L1161.7 720.4 L1160.6 721.6 L1158.8 722.4" stroke="#cfa23c" stroke-width="1.53" />
<path d="M1158.8 722.4 L1157.5 723.6 L1156 724.7 L1154.5 726" stroke="#3a58cc" stroke-width="1.49" />
<path d="M1154.5 726 L1153.7 727.6 L1153.1 729.6 L1152.4 731.2" stroke="#cfa23c" stroke-width="1.45" />
<path d="M1152.4 731.2 L1151.5 733.4 L1150.3 734.8 L1149.3 735.9" stroke="#3a58cc" stroke-width="1.4" />
<path d="M1149.3 735.9 L1148.6 737.6 L1147.2 739.4 L1145.6 741.6" stroke="#cfa23c" stroke-width="1.36" />
<path d="M1145.6 741.6 L1144.7 743.3 L1144 744.3 L1142.8 746.5" stroke="#3a58cc" stroke-width="1.31" />
<path d="M1142.8 746.5 L1141.6 748.3 L1141.4 750 L1140.5 751.8 L1140 754.5" stroke="#cfa23c" stroke-width="1.25" />
<path d="M1140 754.5 L1139.7 756.1 L1138.8 757.6 L1137.1 759.1" stroke="#3a58cc" stroke-width="1.2" />
<path d="M1137.1 759.1 L1136.8 760.6 L1135.5 762.3" stroke="#cfa23c" stroke-width="1.16" />
<path d="M1307.5 557.9 L1309.2 558.3 L1310.6 559.9 L1312.4 560.4" stroke="#3a86d0" stroke-width="3.8" />
<path d="M1312.4 560.4 L1314.1 560.7 L1316.1 561.6 L1318.3 562.4" stroke="#2fa088" stroke-width="3.75" />
<path d="M1318.3 562.4 L1319.9 562.1 L1321.9 563.3 L1323.2 563.5" stroke="#3a86d0" stroke-width="3.7" />
<path d="M1323.2 563.5 L1325.5 564.2 L1327.8 564.2 L1329.3 564.7 L1331.5 565.5" stroke="#2fa088" stroke-width="3.65" />
<path d="M1331.5 565.5 L1333.9 566.5 L1335.8 566.4 L1337.8 567.6 L1339.5 568.4" stroke="#3a58cc" stroke-width="3.51" />
<path d="M1339.5 568.4 L1341.1 568.8 L1342.2 570.1 L1344.1 571.8 L1345.8 572.5" stroke="#2fa088" stroke-width="3.31" />
<path d="M1345.8 572.5 L1347.1 574.1 L1349.3 574.2 L1351.8 574.8 L1353.8 576.3" stroke="#3a58cc" stroke-width="3.1" />
<path d="M1353.8 576.3 L1355.6 576.4 L1357.1 576.8 L1359.6 577.4" stroke="#2fa088" stroke-width="2.91" />
<path d="M1359.6 577.4 L1361.5 577.2 L1363.3 578.1 L1365.1 577.8 L1367.3 578.6" stroke="#3a58cc" stroke-width="2.74" />
<path d="M1367.3 578.6 L1369.5 578.4 L1371.9 578.8 L1373.3 579" stroke="#2fa088" stroke-width="2.56" />
<path d="M1373.3 579 L1375.8 578.4 L1377.4 578.2 L1379.9 577.9" stroke="#3a58cc" stroke-width="2.41" />
<path d="M1379.9 577.9 L1381.2 577.4 L1383.3 576.9 L1385.7 576.5 L1387.5 576.8" stroke="#2fa088" stroke-width="2.23" />
<path d="M1387.5 576.8 L1389.6 577.2 L1391.5 577.1 L1393.3 576.7 L1395.5 577" stroke="#3a58cc" stroke-width="2.03" />
<path d="M1395.5 577 L1396.6 578.2 L1398.2 578.8 L1399.3 580.3" stroke="#2fa088" stroke-width="1.87" />
<path d="M1399.3 580.3 L1400.5 582.4 L1400.6 583.6 L1401.6 585.5" stroke="#3a58cc" stroke-width="1.74" />
<path d="M1401.6 585.5 L1403.1 587.9 L1403.9 589.4 L1405.4 590.9" stroke="#2fa088" stroke-width="1.58" />
<path d="M1405.4 590.9 L1406.4 593.2 L1407.8 594.7 L1408.4 596 L1409.7 597.5" stroke="#3a58cc" stroke-width="1.4" />
<path d="M1409.7 597.5 L1411.1 599.6" stroke="#2fa088" stroke-width="1.28" />
<path d="M1331.5 562.9 L1332.8 561.5 L1334.4 559 L1335.1 557.8" stroke="#2fa088" stroke-width="2.42" />
<path d="M1335.1 557.8 L1337 556 L1338.6 554.2" stroke="#34a8c4" stroke-width="2.38" />
<path d="M1338.6 554.2 L1340.2 553.7 L1341.9 551.7 L1343.2 551.3 L1345.1 549.6" stroke="#2fa088" stroke-width="2.34" />
<path d="M1345.1 549.6 L1346.9 549.3 L1348.6 548 L1350.2 546.5" stroke="#34a8c4" stroke-width="2.3" />
<path d="M1350.2 546.5 L1351.5 546.2 L1353.4 545 L1355.8 544.9 L1357.1 543.7 L1359.6 543.9" stroke="#2fa088" stroke-width="2.24" />
<path d="M1359.6 543.9 L1361.6 543.2 L1363.1 542.7 L1365.2 542.2" stroke="#34a8c4" stroke-width="2.19" />
<path d="M1365.2 542.2 L1367.2 542 L1369.1 541.9 L1371.6 541.8" stroke="#2fa088" stroke-width="2.15" />
<path d="M1371.6 541.8 L1373.7 540.8 L1375.8 540.9 L1377.9 540.9" stroke="#34a8c4" stroke-width="2.11" />
<path d="M1377.9 540.9 L1379.1 541.1 L1381.2 541.3 L1383.5 541.2" stroke="#2fa088" stroke-width="2.07" />
<path d="M1383.5 541.2 L1385.5 540.7 L1387.6 541.1 L1389.5 540.7" stroke="#34a8c4" stroke-width="2.03" />
<path d="M1389.5 540.7 L1391.4 541.2 L1393.3 540.9 L1395.5 541.4" stroke="#2fa088" stroke-width="1.99" />
<path d="M1395.5 541.4 L1397.1 541.2 L1399.9 541.4 L1401.7 541.6" stroke="#34a8c4" stroke-width="1.95" />
<path d="M1401.7 541.6 L1403.1 541.9 L1405.8 542 L1407.1 541.7 L1409.6 541.4" stroke="#2fa088" stroke-width="1.91" />
<path d="M1409.6 541.4 L1411.6 541.2 L1413.2 541.2 L1415.2 540.7" stroke="#34a8c4" stroke-width="1.86" />
<path d="M1415.2 540.7 L1417.8 540.7 L1419.5 540.6 L1421.5 540.1 L1423.5 539.5" stroke="#2fa088" stroke-width="1.82" />
<path d="M1423.5 539.5 L1425.4 539.3 L1427.9 539.8 L1429.6 538.8" stroke="#34a8c4" stroke-width="1.77" />
<path d="M1429.6 538.8 L1431.8 538.6 L1433.8 538.6 L1435.6 538.4" stroke="#2fa088" stroke-width="1.73" />
<path d="M1435.6 538.4 L1437.3 538.1 L1439.5 537.7 L1441.8 537" stroke="#34a8c4" stroke-width="1.69" />
<path d="M1441.8 537 L1443.4 536.9 L1445.1 537.2 L1447.7 536.7" stroke="#2fa088" stroke-width="1.65" />
<path d="M1447.7 536.7 L1449.5 536.8 L1451.1 536.1 L1453.7 536.5 L1455.5 536.4" stroke="#34a8c4" stroke-width="1.61" />
<path d="M1455.5 536.4 L1457.3 537 L1459.4 537.5 L1461.9 537.7 L1463.3 537.5" stroke="#2fa088" stroke-width="1.56" />
<path d="M1463.3 537.5 L1465.1 537.8 L1467.1 538.4 L1469.9 539.1 L1471.4 539.2" stroke="#34a8c4" stroke-width="1.5" />
<path d="M1471.4 539.2 L1473.9 539.5 L1475.8 541.2 L1477.1 542.3" stroke="#2fa088" stroke-width="1.46" />
<path d="M1477.1 542.3 L1479.6 542.8 L1481.4 542.9 L1483.5 543.1 L1485.9 542.5" stroke="#34a8c4" stroke-width="1.41" />
<path d="M1485.9 542.5 L1487.1 542.9 L1489.6 542.7 L1491.5 542.5" stroke="#2fa088" stroke-width="1.36" />
<path d="M1336.9 555.9 L1336.1 554.1 L1335 551.9 L1334.5 549.5" stroke="#cfa23c" stroke-width="1.59" />
<path d="M1334.5 549.5 L1334 548.3 L1333.6 546.1 L1333.4 544.5 L1332.5 542.9" stroke="#3a58cc" stroke-width="1.3" />
<path d="M1306.5 557.9 L1306.8 559.9 L1307.6 561.7 L1307.5 563.9 L1307.5 565.6 L1308.2 568.2" stroke="#2fa088" stroke-width="2.85" />
<path d="M1308.2 568.2 L1308.4 569.5 L1309.2 571.6 L1309.5 573.5 L1309.6 575.6" stroke="#3a86d0" stroke-width="2.75" />
<path d="M1309.6 575.6 L1309.6 577.9 L1310.4 579.9 L1310.4 581.9" stroke="#2fa088" stroke-width="2.68" />
<path d="M1310.4 581.9 L1310.8 583.8 L1311.5 585.7 L1311 588" stroke="#3a86d0" stroke-width="2.61" />
<path d="M1311 588 L1311.5 590.2 L1311.5 592.1 L1312.1 594.4 L1312.3 595.9" stroke="#2fa088" stroke-width="2.53" />
<path d="M1312.3 595.9 L1312.5 598 L1312.6 600.1 L1312.9 602.2" stroke="#3a86d0" stroke-width="2.45" />
<path d="M1312.9 602.2 L1313 604 L1313.4 606.2 L1313.6 607.9 L1313.7 609.7" stroke="#2fa088" stroke-width="2.37" />
<path d="M1313.7 609.7 L1314.4 611.7 L1315 614.2" stroke="#3a86d0" stroke-width="2.31" />
<path d="M1315 614.2 L1315.8 616.4 L1316.3 617.8 L1317.1 619.4 L1318.4 621.5" stroke="#2fa088" stroke-width="2.24" />
<path d="M1318.4 621.5 L1318.8 623.5 L1320.1 624.8 L1320.9 626.8" stroke="#3a86d0" stroke-width="2.16" />
<path d="M1320.9 626.8 L1321.6 628 L1322.4 630.5 L1323.4 631.9" stroke="#2fa088" stroke-width="2.1" />
<path d="M1323.4 631.9 L1324.1 633.7 L1325.8 635.1 L1326.4 636.9" stroke="#3a86d0" stroke-width="2.03" />
<path d="M1326.4 636.9 L1327.3 638.4 L1328.2 640.5 L1329.5 642.5" stroke="#2fa088" stroke-width="1.96" />
<path d="M1329.5 642.5 L1331.2 644.1 L1332.6 645.7 L1333.1 646.8 L1335.3 649.1" stroke="#3a86d0" stroke-width="1.88" />
<path d="M1335.3 649.1 L1336.3 650.5 L1337.4 652 L1338.2 653.8" stroke="#2fa088" stroke-width="1.8" />
<path d="M1338.2 653.8 L1339.3 655.1 L1340.8 657.2 L1341.8 658.6 L1342.6 660.2" stroke="#3a86d0" stroke-width="1.73" />
<path d="M1342.6 660.2 L1343.8 661.9 L1344.6 663.8 L1345.3 664.9" stroke="#2fa088" stroke-width="1.65" />
<path d="M1345.3 664.9 L1346.5 666.9 L1347.8 668.3 L1348.2 670 L1349.8 671.9" stroke="#3a86d0" stroke-width="1.58" />
<path d="M1349.8 671.9 L1350.6 673.7 L1351.1 676.3 L1352.5 677.8" stroke="#2fa088" stroke-width="1.5" />
<path d="M1352.5 677.8 L1352.9 680.5 L1353.2 682.2 L1353.6 684.2 L1353.7 686.5" stroke="#3a86d0" stroke-width="1.41" />
<path d="M1353.7 686.5 L1354.6 688 L1354.3 689.9 L1354.9 692.5 L1354.4 694.3" stroke="#2fa088" stroke-width="1.32" />
<path d="M1354.4 694.3 L1354.5 695.9 L1354.1 698.4 L1354.6 700" stroke="#3a86d0" stroke-width="1.24" />
<path d="M1354.6 700 L1354.9 701.3 L1355.4 703.6 L1356.1 705.2" stroke="#2fa088" stroke-width="1.18" />
<path d="M1315.5 560.9 L1317.4 563.3 L1319 565" stroke="#34a8c4" stroke-width="2.42" />
<path d="M1319 565 L1320 566.3 L1321.5 568.8 L1322.7 570" stroke="#2fa088" stroke-width="2.38" />
<path d="M1322.7 570 L1323.8 572.1 L1324.8 573.9 L1325.5 575.2 L1326.8 577.1" stroke="#34a8c4" stroke-width="2.33" />
<path d="M1326.8 577.1 L1327.5 579 L1328.1 579.8 L1329.5 581.6 L1331 583.3" stroke="#2fa088" stroke-width="2.27" />
<path d="M1331 583.3 L1332.2 585 L1332.7 587.2 L1334.3 588.6 L1335.4 590.4" stroke="#34a8c4" stroke-width="2.21" />
<path d="M1335.4 590.4 L1336.9 592 L1337.5 593.6 L1338.4 595.5" stroke="#2fa088" stroke-width="2.16" />
<path d="M1338.4 595.5 L1339.2 597.2 L1340.9 598.9 L1341.5 600.2 L1342.1 601.6 L1342.9 604.3" stroke="#34a8c4" stroke-width="2.1" />
<path d="M1342.9 604.3 L1343.5 605.7 L1343.7 608.3 L1343.8 610.3 L1343.9 611.9" stroke="#2fa088" stroke-width="2.04" />
<path d="M1343.9 611.9 L1344.5 614.2 L1345.3 615.8 L1346.4 617.9" stroke="#34a8c4" stroke-width="1.99" />
<path d="M1346.4 617.9 L1346.8 619.8 L1347.7 622.2 L1348.4 624.2" stroke="#2fa088" stroke-width="1.94" />
<path d="M1348.4 624.2 L1349 625.6 L1349.9 627.9 L1350 630.5" stroke="#34a8c4" stroke-width="1.9" />
<path d="M1350 630.5 L1350.2 631.7 L1350.7 633.7 L1351.8 636.1 L1351.3 637.9" stroke="#2fa088" stroke-width="1.84" />
<path d="M1351.3 637.9 L1351.9 639.8 L1351.9 642.4 L1352.3 643.8 L1352.6 645.7" stroke="#34a8c4" stroke-width="1.79" />
<path d="M1352.6 645.7 L1351.9 648.2 L1350.9 650.1" stroke="#2fa088" stroke-width="1.74" />
<path d="M1350.9 650.1 L1350.5 652.3 L1350.2 654.5 L1349.6 655.8 L1348.8 658.3" stroke="#34a8c4" stroke-width="1.7" />
<path d="M1348.8 658.3 L1349 659.7 L1348.2 661.9 L1347.9 664.5" stroke="#2fa088" stroke-width="1.64" />
<path d="M1347.9 664.5 L1347.6 666.3 L1348 667.9 L1348.1 670 L1348.2 672.2" stroke="#34a8c4" stroke-width="1.59" />
<path d="M1348.2 672.2 L1348.7 673.8 L1348.4 675.8 L1347.5 678.5 L1347.7 680" stroke="#2fa088" stroke-width="1.54" />
<path d="M1347.7 680 L1347.3 681.7 L1346.9 683.9 L1345.9 686.4 L1345.9 688.4" stroke="#34a8c4" stroke-width="1.48" />
<path d="M1345.9 688.4 L1345.6 689.8 L1345.7 691.8 L1345.6 694 L1345.7 696.2" stroke="#2fa088" stroke-width="1.42" />
<path d="M1345.7 696.2 L1344.9 698 L1343.2 699.6 L1342.9 700.8 L1341.5 701.9" stroke="#34a8c4" stroke-width="1.36" />
<path d="M1341.5 701.9 L1339.9 703.1 L1338.4 704.7 L1337.1 706 L1336 707.3 L1334.1 708.5" stroke="#2fa088" stroke-width="1.3" />
<path d="M1334.1 708.5 L1332.8 709.6 L1330.8 710.9 L1329.2 712.2" stroke="#34a8c4" stroke-width="1.24" />
<path d="M1329.2 712.2 L1327.6 712.9 L1325.7 714.6 L1323.8 715.6 L1322.7 716.8" stroke="#2fa088" stroke-width="1.19" />
<path d="M1322.7 716.8 L1321 717.7" stroke="#34a8c4" stroke-width="1.16" />
<path d="M1299.4 552.9 L1299.4 543.9" stroke="#3a2cc0" stroke-width="7.6" stroke-linecap="round"/>
<path d="M1299.2 551.9 L1299.2 544.9" stroke="#7468e0" stroke-width="2.4" stroke-linecap="round" stroke-opacity="0.8"/>
<path d="M1299.3 538.9 L1298.9 530.9" stroke="#e4e03c" stroke-width="8.4" stroke-linecap="round" />
<path d="M1285.5 558.7 L1279 559.3" stroke="#3f3ed0" stroke-width="6.6" stroke-linecap="round"/>
<path d="M1275.5 559.7 L1269.5 560.3" stroke="#d8a838" stroke-width="4.6" />
</g>
<rect x="1225.2" y="382.2" width="82" height="98.6" fill="none" stroke="#000" stroke-width="3.5"/>
<line x1="1613.4" y1="162.9" x2="1308" y2="380.4" stroke="#000" stroke-width="4.2" stroke-dasharray="12.2 5.8"/>
<line x1="1607.6" y1="607.5" x2="1308" y2="480.8" stroke="#000" stroke-width="4.2" stroke-dasharray="10 5.1"/>
<g>
<clipPath id="dclip"><rect x="1612.7" y="155.8" width="385.9" height="455.8"/></clipPath>
<g clip-path="url(#dclip)" fill="none" stroke-linecap="round" stroke-linejoin="round">
<defs><linearGradient id="tb" x1="0" x2="1" y1="0" y2="0"><stop offset="0" stop-color="#3a368e"/><stop offset="0.14" stop-color="#4e4aa6"/><stop offset="0.36" stop-color="#6c68c6"/><stop offset="0.6" stop-color="#5a56b2"/><stop offset="0.88" stop-color="#4c48a2"/><stop offset="1" stop-color="#3a368e"/></linearGradient><linearGradient id="ty" x1="0" x2="1" y1="0" y2="0"><stop offset="0" stop-color="#94942e"/><stop offset="0.14" stop-color="#b6b640"/><stop offset="0.36" stop-color="#dcdc5c"/><stop offset="0.6" stop-color="#c8c84a"/><stop offset="0.88" stop-color="#b2b23e"/><stop offset="1" stop-color="#94942e"/></linearGradient></defs>
<path d="M1603.8 430.1 L1605.8 429.4 L1607.8 429.2 L1609.9 429 L1612 428.9 L1614.1 428.8 L1616.1 428.7 L1618.1 428.6 L1620.2 428.6 L1622.3 428.5 L1624.3 428.4 L1626.4 428.4 L1628.4 428.3 L1630.5 428.3 L1632.5 428.3 L1634.6 428.3 L1636.6 428.3 L1638.7 428.3 L1640.7 428.3 L1642.8 428.3 L1644.9 428.4 L1646.9 428.5 L1649 428.6 L1651.1 428.8 L1653.2 429.4 L1652.7 438 L1650.8 438.5 L1648.8 438.6 L1646.8 438.6 L1644.8 438.6 L1642.8 438.7 L1640.8 438.7 L1638.7 438.8 L1636.7 438.8 L1634.7 438.8 L1632.6 438.9 L1630.6 438.9 L1628.6 438.9 L1626.5 439 L1624.5 439 L1622.5 439 L1620.4 439.1 L1618.4 439.1 L1616.4 439.1 L1614.3 439.1 L1612.3 439.2 L1610.3 439.2 L1608.3 439.2 L1606.3 439.1 L1604.2 438.7Z" fill="#c2ca52" fill-opacity="0.9" stroke="#c2ca52" stroke-opacity="0.5" stroke-width="0.8"/>
<path d="M1652.2 429.4 L1654.3 429 L1656.4 429 L1658.5 429.1 L1660.5 429.2 L1662.6 429.3 L1664.6 429.4 L1666.6 429.6 L1668.7 429.8 L1670.7 429.9 L1672.8 430.1 L1674.8 430.3 L1676.8 430.5 L1678.8 430.7 L1680.8 430.9 L1682.9 431 L1684.9 431.2 L1686.9 431.4 L1688.9 431.5 L1690.9 431.7 L1693 431.9 L1695 432.1 L1697 432.2 L1699.1 432.4 L1701.1 432.6 L1703.1 432.8 L1705.1 433 L1707.1 433.3 L1709.1 434 L1708.4 442.6 L1706.4 442.9 L1704.3 442.9 L1702.3 442.8 L1700.3 442.7 L1698.2 442.5 L1696.2 442.4 L1694.2 442.3 L1692.2 442.1 L1690.1 442 L1688.1 441.9 L1686.1 441.7 L1684 441.5 L1682 441.4 L1679.9 441.2 L1677.9 441 L1675.8 440.8 L1673.8 440.6 L1671.8 440.4 L1669.8 440.2 L1667.7 440 L1665.8 439.8 L1663.8 439.6 L1661.7 439.4 L1659.7 439.2 L1657.7 439 L1655.7 438.8 L1653.8 438.6 L1651.8 438Z" fill="#4c4ab6" fill-opacity="0.9" stroke="#4c4ab6" stroke-opacity="0.5" stroke-width="0.8"/>
<path d="M1708.2 433.1 L1710.3 432.5 L1712.3 432.4 L1714.3 432.4 L1716.3 432.5 L1718.4 432.5 L1720.4 432.6 L1722.4 432.7 L1724.5 432.8 L1726.5 432.9 L1728.5 433.1 L1730.5 433.2 L1732.6 433.4 L1734.6 433.5 L1736.6 433.7 L1738.6 433.9 L1740.7 434.1 L1742.7 434.4 L1744.7 434.6 L1746.7 434.9 L1748.8 435.1 L1750.8 435.4 L1752.8 435.7 L1754.8 436 L1756.8 436.3 L1758.8 436.6 L1760.8 437 L1762.8 437.3 L1764.8 437.7 L1766.8 438.2 L1768.7 439.3 L1767.6 447.8 L1765.5 448.1 L1763.5 448 L1761.5 447.8 L1759.4 447.6 L1757.4 447.4 L1755.5 447.2 L1753.5 447 L1751.5 446.8 L1749.5 446.6 L1747.5 446.4 L1745.5 446.2 L1743.5 446 L1741.5 445.8 L1739.5 445.6 L1737.5 445.4 L1735.5 445.2 L1733.5 445 L1731.5 444.8 L1729.5 444.6 L1727.5 444.4 L1725.5 444.2 L1723.5 444 L1721.5 443.8 L1719.5 443.6 L1717.5 443.3 L1715.5 443.1 L1713.5 442.9 L1711.5 442.7 L1709.5 442.3 L1707.5 441.7Z" fill="#c2ca52" fill-opacity="0.9" stroke="#c2ca52" stroke-opacity="0.5" stroke-width="0.8"/>
<path d="M1607.6 301.6 L1609.8 301.8 L1611.7 302.5 L1613.5 303.2 L1615.3 304.1 L1617 305 L1618.7 305.9 L1620.4 306.7 L1622.2 307.7 L1623.9 308.7 L1625.7 309.7 L1627.5 310.9 L1629.1 312.1 L1630.5 314 L1624.5 324.6 L1622.5 324.2 L1620.6 323.5 L1618.9 322.7 L1617.1 321.8 L1615.3 321 L1613.5 320 L1611.7 319.1 L1609.9 318.1 L1608.1 317.1 L1606.4 316.1 L1604.7 315 L1603.1 313.8 L1601.6 312.2Z" fill="#a3a655" fill-opacity="0.9" stroke="#a3a655" stroke-opacity="0.5" stroke-width="0.8"/>
<path d="M1628.5 313.2 L1631 313.2 L1633.1 313.8 L1635.1 314.6 L1636.9 315.4 L1638.8 316.5 L1640.7 317.6 L1642.7 319 L1644.6 320.4 L1646.5 322.1 L1648.3 323.9 L1649.9 325.8 L1651.2 327.8 L1652.2 329.9 L1652.5 332.3 L1643.2 339.4 L1641.3 338.4 L1639.9 337.2 L1638.5 336 L1637.3 334.9 L1636 333.9 L1634.7 332.9 L1633.3 331.9 L1631.8 330.9 L1630.3 329.8 L1628.8 328.8 L1627.2 327.6 L1625.6 326.4 L1624.1 325.2 L1622.9 323.5Z" fill="#a3a655" fill-opacity="0.9" stroke="#a3a655" stroke-opacity="0.5" stroke-width="0.8"/>
<path d="M1650.8 331 L1652.9 332 L1654.6 333.6 L1656.1 335.3 L1657.4 336.9 L1658.6 338.7 L1659.8 340.4 L1660.9 342.1 L1662 343.7 L1663 345.2 L1664 346.9 L1665.1 348.6 L1666.2 350.3 L1667.2 352.1 L1668.3 354 L1669.3 355.9 L1670.2 357.7 L1671 359.7 L1671.6 361.8 L1671.7 364 L1660.2 370.2 L1658.4 368.9 L1657.1 367.4 L1656 365.9 L1654.8 364.3 L1653.8 362.8 L1652.7 361.3 L1651.6 359.7 L1650.5 358.1 L1649.4 356.4 L1648.3 354.7 L1647.1 352.9 L1646.1 351.1 L1645.1 349.3 L1644.2 347.6 L1643.4 346.1 L1642.4 344.3 L1641.7 342.8 L1640.9 341.1 L1640.5 339Z" fill="#5b88c4" fill-opacity="0.9" stroke="#5b88c4" stroke-opacity="0.5" stroke-width="0.8"/>
<path d="M1670.7 362.2 L1672.7 363.5 L1674.1 365 L1675.3 366.6 L1676.4 368.2 L1677.6 369.9 L1678.6 371.6 L1679.6 373.3 L1680.6 375 L1681.6 376.6 L1682.6 378.3 L1683.5 380.1 L1684.3 381.6 L1685.1 383 L1685.8 384.2 L1686.6 385.4 L1687.5 386.8 L1688.3 388.1 L1689.1 389.3 L1689.5 391 L1682.5 402 L1679.6 401.5 L1677.3 400.1 L1675.2 398.6 L1673.5 397 L1671.7 395.1 L1670.1 393.2 L1668.7 391.2 L1667.5 389.2 L1666.5 387.5 L1665.5 385.7 L1664.5 383.9 L1663.6 382 L1662.7 380.2 L1661.8 378.4 L1661.1 376.6 L1660.3 374.7 L1659.6 372.7 L1659.1 370.7 L1659.2 368.4Z" fill="#5b88c4" fill-opacity="0.9" stroke="#5b88c4" stroke-opacity="0.5" stroke-width="0.8"/>
<path d="M1687.9 390.8 L1689.6 390.9 L1690.1 390.8 L1691.6 391.1 L1693.3 391.4 L1695.2 391.8 L1697.4 392.2 L1699.3 392.7 L1701 393 L1703.1 393.4 L1705.2 394 L1707.5 394.6 L1709.7 395.4 L1711.8 396.3 L1713.7 397.2 L1715.6 398.1 L1717.4 399 L1719.1 399.9 L1720.7 400.9 L1722.2 402.4 L1717.8 413.3 L1715.7 413.2 L1713.6 412.7 L1711.7 412 L1709.8 411.3 L1708 410.7 L1706.2 410 L1704.6 409.4 L1703 408.9 L1701.4 408.5 L1699.7 408.1 L1697.9 407.6 L1695.6 407.1 L1693.7 406.6 L1691.9 406.1 L1690 405.5 L1687.8 404.8 L1685.5 403.9 L1682.4 402.1 L1680.7 400Z" fill="#a3a655" fill-opacity="0.9" stroke="#a3a655" stroke-opacity="0.5" stroke-width="0.8"/>
<path d="M1721.2 399.8 L1723.7 398.8 L1725.9 398.8 L1728 399 L1730 399.4 L1732.1 399.9 L1734.2 400.6 L1736.2 401.4 L1738.2 402.2 L1740.2 403.2 L1742.1 404.2 L1743.9 405.3 L1745.8 406.6 L1747.4 407.8 L1749.1 409.3 L1750.8 411 L1752.8 413.4 L1753.6 416.4 L1745.6 425.6 L1743.7 425.3 L1742.2 424.9 L1740.5 424.2 L1738.7 423.4 L1736.9 422.6 L1735.2 421.8 L1733.5 421 L1731.8 420.2 L1730.1 419.4 L1728.3 418.5 L1726.6 417.6 L1724.9 416.8 L1723.2 415.9 L1721.5 414.9 L1719.7 413.9 L1718.1 412.7 L1716.6 411Z" fill="#a3a655" fill-opacity="0.9" stroke="#a3a655" stroke-opacity="0.5" stroke-width="0.8"/>
<path d="M1751 415.8 L1753.6 416.5 L1755.6 417.8 L1757.4 419.2 L1759.1 420.6 L1760.5 422 L1761.9 423.2 L1763.3 424.6 L1764.8 426.1 L1766.1 427.6 L1767.4 429 L1768.6 430.3 L1769.8 431.5 L1770.6 432.3 L1771.8 433.6 L1773 434.9 L1774.1 436.8 L1766.9 448.3 L1764.6 448 L1762.5 447.2 L1760.5 446.1 L1758.2 444.5 L1756.3 443 L1754.7 441.5 L1753.1 440 L1751.8 438.6 L1750.5 437.2 L1749.1 435.7 L1747.7 434.1 L1746.4 432.6 L1745.2 431.1 L1744.2 429.7 L1743.3 428.3 L1742.8 426.5Z" fill="#5b88c4" fill-opacity="0.9" stroke="#5b88c4" stroke-opacity="0.5" stroke-width="0.8"/>
<path d="M1772.5 435.7 L1774.8 435.7 L1776.7 436.2 L1778.3 436.7 L1780.1 437.3 L1782 438.2 L1784.1 439.2 L1786 440.3 L1787.8 441.5 L1789.5 442.7 L1791.2 443.9 L1792.7 445.1 L1794.2 446.4 L1795.8 447.9 L1797.2 449.6 L1798.2 451.8 L1789.4 464.3 L1786.9 464.4 L1785 463.9 L1783.2 463.3 L1781.3 462.4 L1779.5 461.5 L1777.8 460.5 L1776.2 459.6 L1774.6 458.6 L1773.2 457.6 L1771.8 456.7 L1770.3 455.6 L1768.5 454.3 L1766.7 452.7 L1765.2 451 L1764.2 448.5Z" fill="#5b88c4" fill-opacity="0.9" stroke="#5b88c4" stroke-opacity="0.5" stroke-width="0.8"/>
<path d="M1797 450 L1799.3 450.2 L1801 450.8 L1802.6 451.5 L1804.1 452.1 L1805.6 452.7 L1807.2 453.5 L1809 454.4 L1810.7 455.2 L1812.4 456 L1814.1 457 L1815.8 458 L1817.5 459.1 L1819.1 460.3 L1820.4 462.1 L1814.3 476.2 L1812 476.4 L1809.9 476 L1807.9 475.5 L1806 474.8 L1804.1 474.1 L1802.2 473.2 L1800.2 472.3 L1798.4 471.4 L1796.5 470.3 L1794.5 469.1 L1792.5 467.7 L1790.7 466.2 L1789.2 464.6 L1788.2 462.5Z" fill="#a3a655" fill-opacity="0.9" stroke="#a3a655" stroke-opacity="0.5" stroke-width="0.8"/>
<path d="M1816.5 461.3 L1818.9 460.8 L1820.9 460.9 L1822.9 461.3 L1824.8 461.6 L1826.6 462.1 L1828.6 462.7 L1830.5 463.3 L1832.3 464 L1834.3 464.7 L1836.2 465.6 L1838.2 466.5 L1840 467.4 L1841.8 468.5 L1843.6 469.6 L1845.3 470.8 L1846.9 472.1 L1848.4 473.5 L1849.6 475.7 L1842.7 490.4 L1840.1 491.4 L1837.8 491.3 L1835.7 491.1 L1833.7 490.7 L1831.9 490.3 L1830.1 489.8 L1828.2 489.1 L1826.5 488.5 L1824.9 487.9 L1823.1 487.1 L1821.3 486.3 L1819.5 485.4 L1817.7 484.4 L1815.9 483.2 L1814 481.9 L1812.5 480.5 L1810.9 478.8 L1809.8 476.1Z" fill="#a3a655" fill-opacity="0.9" stroke="#a3a655" stroke-opacity="0.5" stroke-width="0.8"/>
<path d="M1846.9 472.1 L1849.2 471.8 L1851.2 472.2 L1853.1 472.7 L1855 473.3 L1856.9 474 L1858.8 474.8 L1860.6 475.6 L1862.5 476.4 L1864.3 477.3 L1866.1 478.2 L1867.8 479.1 L1869.6 480.1 L1871.3 481.1 L1873 482.3 L1874.6 483.6 L1875.9 485.5 L1869.1 500.2 L1866.8 500.3 L1864.8 499.8 L1862.9 499.3 L1861 498.6 L1859.1 497.9 L1857.3 497.1 L1855.5 496.3 L1853.6 495.5 L1851.8 494.6 L1850 493.7 L1848.3 492.8 L1846.5 491.9 L1844.8 490.9 L1843 489.8 L1841.4 488.5 L1840 486.8Z" fill="#5b88c4" fill-opacity="0.9" stroke="#5b88c4" stroke-opacity="0.5" stroke-width="0.8"/>
<path d="M1873.7 485.4 L1876.1 485.1 L1878.2 485.4 L1880.2 485.9 L1882.2 486.5 L1884.1 487.3 L1885.9 488 L1887.8 488.8 L1889.5 489.6 L1891.2 490.5 L1892.9 491.3 L1894.5 492.2 L1896.2 493.1 L1897.8 494.2 L1899.5 495.5 L1900.9 497.5 L1895.1 512.5 L1892.7 513.1 L1890.6 512.9 L1888.5 512.5 L1886.5 511.9 L1884.4 511.2 L1882.3 510.4 L1880.3 509.6 L1878.5 508.7 L1876.6 507.8 L1874.8 506.9 L1873.1 505.9 L1871.4 504.8 L1869.8 503.6 L1868.2 502.2 L1866.9 500.1Z" fill="#5b88c4" fill-opacity="0.9" stroke="#5b88c4" stroke-opacity="0.5" stroke-width="0.8"/>
<path d="M1660.9 145 L1662.8 145.9 L1664.4 147 L1666 148.2 L1667.5 149.4 L1669.1 150.6 L1670.7 151.8 L1672.3 153 L1673.9 154.3 L1675.4 155.5 L1677 156.8 L1678.6 158 L1680.1 159.3 L1681.6 160.5 L1683.2 161.8 L1684.7 163.1 L1686.3 164.3 L1687.8 165.6 L1689.3 166.9 L1690.8 168.2 L1692 169.9 L1686.5 177 L1684.6 176.2 L1682.9 175.2 L1681.2 174 L1679.6 172.8 L1678 171.6 L1676.4 170.3 L1674.8 169.1 L1673.3 167.9 L1671.7 166.6 L1670.1 165.4 L1668.6 164.1 L1667 162.8 L1665.5 161.6 L1663.9 160.3 L1662.4 159 L1660.8 157.7 L1659.3 156.4 L1657.8 155.1 L1656.3 153.7 L1655.1 152Z" fill="#666dc8" fill-opacity="0.9" stroke="#666dc8" stroke-opacity="0.5" stroke-width="0.8"/>
<path d="M1690.7 168.3 L1692.7 169 L1694.4 169.9 L1696.1 171.1 L1697.7 172.2 L1699.3 173.3 L1701 174.4 L1702.6 175.6 L1704.2 176.7 L1705.8 177.9 L1707.5 179.1 L1709.1 180.2 L1710.7 181.4 L1712.3 182.6 L1713.9 183.8 L1715.5 185 L1717.1 186.2 L1718.6 187.5 L1720.2 188.7 L1721.8 190 L1723.2 191.4 L1724.5 193.2 L1719.1 200.4 L1717.2 199.7 L1715.4 198.6 L1713.8 197.5 L1712.1 196.4 L1710.5 195.3 L1708.8 194.2 L1707.2 193 L1705.6 191.9 L1703.9 190.7 L1702.3 189.5 L1700.7 188.3 L1699.1 187.2 L1697.5 186 L1695.8 184.7 L1694.3 183.5 L1692.7 182.3 L1691.1 181 L1689.5 179.8 L1688 178.5 L1686.5 177.1 L1685.2 175.4Z" fill="#b4a258" fill-opacity="0.9" stroke="#b4a258" stroke-opacity="0.5" stroke-width="0.8"/>
<path d="M1722.8 191.9 L1724.9 192.5 L1726.7 193.5 L1728.4 194.6 L1730.1 195.7 L1731.8 196.9 L1733.4 198 L1735 199.2 L1736.6 200.4 L1738.2 201.6 L1739.8 202.7 L1741.4 203.9 L1743 205.1 L1744.5 206.2 L1746.1 207.4 L1747.7 208.7 L1749.1 209.7 L1750.7 210.9 L1752.3 212.1 L1753.7 213.2 L1755.3 214.5 L1756.6 216.2 L1751.9 223.9 L1749.8 223.4 L1748 222.6 L1746.1 221.5 L1744.4 220.4 L1742.7 219.4 L1740.8 218.2 L1739.2 217.1 L1737.5 215.9 L1735.8 214.7 L1734.2 213.5 L1732.6 212.3 L1731 211.1 L1729.4 209.8 L1727.8 208.6 L1726.3 207.4 L1724.7 206.1 L1723.2 204.8 L1721.7 203.6 L1720.2 202.3 L1718.7 200.9 L1717.5 199.2Z" fill="#b4a258" fill-opacity="0.9" stroke="#b4a258" stroke-opacity="0.5" stroke-width="0.8"/>
<path d="M1753.7 217.1 L1755.8 217.6 L1757.6 218.3 L1759.5 219.2 L1761.3 220.1 L1763.1 220.9 L1765 221.8 L1766.8 222.7 L1768.6 223.6 L1770.4 224.5 L1772.2 225.5 L1774 226.4 L1775.8 227.4 L1777.6 228.4 L1779.4 229.5 L1781.2 230.5 L1782.9 231.7 L1784.5 233.2 L1780.5 241.3 L1778 241.8 L1775.8 241.4 L1773.8 240.9 L1771.8 240.2 L1769.8 239.5 L1767.9 238.7 L1766 237.9 L1764.1 237 L1762.3 236.1 L1760.3 235 L1758.5 234 L1756.8 232.8 L1754.9 231.5 L1753.2 230.3 L1751.6 228.9 L1750 227.2 L1749 224.8Z" fill="#666dc8" fill-opacity="0.9" stroke="#666dc8" stroke-opacity="0.5" stroke-width="0.8"/>
<path d="M1783.9 229.9 L1786.1 230 L1788.1 230.6 L1789.9 231.3 L1791.8 232.1 L1793.7 232.8 L1795.6 233.6 L1797.5 234.4 L1799.3 235.2 L1801.2 236.1 L1803 236.9 L1804.9 237.8 L1806.7 238.7 L1808.6 239.6 L1810.4 240.5 L1812.2 241.4 L1814 242.4 L1815.8 243.4 L1817.5 244.4 L1818.9 245.9 L1815.6 254.3 L1813.4 254 L1811.4 253.4 L1809.4 252.7 L1807.5 251.9 L1805.6 251.1 L1803.7 250.3 L1801.8 249.5 L1799.9 248.7 L1798 247.8 L1796.2 247 L1794.3 246.1 L1792.4 245.2 L1790.6 244.3 L1788.8 243.4 L1786.9 242.4 L1785.1 241.5 L1783.2 240.5 L1781.5 239.4 L1779.9 238Z" fill="#666dc8" fill-opacity="0.9" stroke="#666dc8" stroke-opacity="0.5" stroke-width="0.8"/>
<path d="M1817.4 244.5 L1819.9 243.7 L1822.1 243.8 L1824.4 244.2 L1826.7 244.8 L1829 245.6 L1831.1 246.4 L1833 247.2 L1835.1 248.2 L1837 249.3 L1838.9 250.4 L1840.7 251.5 L1842.5 252.7 L1844.2 254 L1846 255.3 L1847.7 256.8 L1849.4 258.3 L1851 259.9 L1852.6 261.7 L1854 263.6 L1855.2 265.6 L1855.6 268.3 L1848.8 275.5 L1846.7 274.9 L1844.9 273.9 L1843.3 273 L1841.6 272 L1840 271 L1838.4 270 L1836.7 269 L1835 268 L1833.4 266.9 L1831.6 265.9 L1830 264.8 L1828.3 263.8 L1826.7 262.7 L1825.1 261.7 L1823.3 260.6 L1821.7 259.6 L1820.2 258.6 L1818.6 257.6 L1816.9 256.6 L1815.2 255.4 L1813.6 253.7Z" fill="#b4a258" fill-opacity="0.9" stroke="#b4a258" stroke-opacity="0.5" stroke-width="0.8"/>
<path d="M1852.8 268.2 L1854.9 269.1 L1856.6 270.3 L1858.2 271.5 L1859.8 272.8 L1861.4 274.2 L1862.9 275.6 L1864.5 276.9 L1866 278.3 L1867.4 279.6 L1868.9 280.9 L1870.3 282.2 L1871.8 283.5 L1873.3 284.8 L1874.9 286.2 L1876.3 287.6 L1877.5 289.3 L1871.2 298.1 L1868.8 297.7 L1866.8 296.8 L1865 295.7 L1863.2 294.5 L1861.4 293.3 L1859.6 291.9 L1857.9 290.5 L1856.2 289 L1854.6 287.6 L1853.2 286.1 L1851.8 284.7 L1850.3 283.2 L1848.9 281.7 L1847.5 280.1 L1846.3 278.3 L1845.6 276.2Z" fill="#666dc8" fill-opacity="0.9" stroke="#666dc8" stroke-opacity="0.5" stroke-width="0.8"/>
<path d="M1876.4 287.6 L1878.4 288.2 L1880.1 289.1 L1881.9 290.1 L1883.6 291.1 L1885.3 292.2 L1886.9 293.2 L1888.5 294.2 L1890 295.1 L1891.4 295.9 L1892.7 296.6 L1894.2 297.3 L1896.1 297.9 L1897.7 298.5 L1899.5 299.1 L1901.4 299.9 L1903.3 301.1 L1900.5 312 L1898.4 312.4 L1896.3 312.3 L1894.1 311.9 L1891.8 311.4 L1889.8 310.9 L1887.4 310 L1885 308.9 L1882.8 307.7 L1880.8 306.5 L1878.9 305.2 L1877.2 304 L1875.5 302.7 L1873.9 301.5 L1872.4 300.1 L1870.8 298.6 L1869.7 296.7Z" fill="#666dc8" fill-opacity="0.9" stroke="#666dc8" stroke-opacity="0.5" stroke-width="0.8"/>
<path d="M1604 434.4 L1606 434.3 L1608.1 434.2 L1610.1 434.1 L1612.1 434 L1614.2 434 L1616.2 433.9 L1618.3 433.9 L1620.3 433.8" stroke="#ff1d0a" stroke-width="7.4" stroke-linecap="butt"/>
<path d="M1619.7 433.8 L1621.8 433.8 L1623.9 433.7 L1625.9 433.7 L1628 433.7 L1630.1 433.6 L1632.2 433.6 L1634.3 433.6" stroke="#f05a24" stroke-width="7.4" stroke-linecap="butt"/>
<path d="M1633.7 433.6 L1635.7 433.6 L1637.8 433.5 L1639.8 433.5 L1641.9 433.5 L1644 433.5 L1646 433.5 L1648.1 433.6 L1650.1 433.6 L1652.2 433.7 L1654.2 433.8 L1656.3 433.9" stroke="#ff1d0a" stroke-width="7.4" stroke-linecap="butt"/>
<path d="M1655.7 433.9 L1657.8 434 L1660 434.2 L1662.1 434.4 L1664.3 434.5" stroke="#d0286a" stroke-width="7.4" stroke-linecap="butt"/>
<path d="M1663.7 434.5 L1665.7 434.7 L1667.7 434.8 L1669.7 435 L1671.7 435.2 L1673.7 435.4 L1675.8 435.6 L1677.8 435.8 L1679.8 436 L1681.8 436.2 L1683.8 436.3 L1685.9 436.5 L1687.9 436.6 L1689.9 436.8 L1691.9 437 L1693.9 437.1 L1696 437.3 L1698 437.4 L1700 437.6 L1702 437.8 L1704.1 437.9 L1706.1 438.1 L1708.1 438.2" stroke="#ff1d0a" stroke-width="7.4" stroke-linecap="butt"/>
<path d="M1707.5 438.2 L1709.6 438.4 L1711.8 438.5 L1713.9 438.7 L1716.1 438.9" stroke="#f26a2a" stroke-width="7.4" stroke-linecap="butt"/>
<path d="M1715.5 438.8 L1717.5 439 L1719.5 439.1 L1721.5 439.3 L1723.6 439.5 L1725.6 439.7 L1727.6 439.8 L1729.6 440 L1731.7 440.2 L1733.7 440.4 L1735.7 440.6 L1737.7 440.8 L1739.8 441 L1741.8 441.2 L1743.8 441.4 L1745.8 441.6 L1747.8 441.9 L1749.9 442.1 L1751.9 442.3 L1753.9 442.6 L1755.9 442.8 L1757.9 443.1 L1759.9 443.3 L1762 443.6 L1764 443.9 L1766 444.1 L1768 444.4" stroke="#ff1d0a" stroke-width="7.4" stroke-linecap="butt"/>
<path d="M1604 308 L1605.8 309 L1607.5 310 L1609.3 311 L1611 311.9 L1612.8 312.9 L1614.6 313.8 L1616.4 314.8 L1618.2 315.7 L1620 316.6 L1621.7 317.6 L1623.5 318.5 L1625.3 319.5 L1627 320.5 L1628.8 321.5 L1630.5 322.5 L1632.2 323.5 L1633.9 324.6 L1635.6 325.7 L1637.3 326.9 L1638.9 328.1" stroke="#ff1d0a" stroke-width="7.4" stroke-linecap="butt"/>
<path d="M1638.4 327.7 L1640.1 329.1 L1641.6 330.5 L1643.1 332 L1644.5 333.6 L1645.9 335.2" stroke="#ee5a28" stroke-width="7.4" stroke-linecap="butt"/>
<path d="M1645.5 334.7 L1646.8 336.4 L1648 338 L1649.2 339.7 L1650.3 341.4 L1651.4 343.2 L1652.5 344.9 L1653.6 346.7 L1654.6 348.4 L1655.8 350.2 L1656.9 351.9" stroke="#e8202c" stroke-width="7.4" stroke-linecap="butt"/>
<path d="M1656.5 351.4 L1657.7 353.1 L1658.8 354.8 L1659.9 356.5 L1661 358.3 L1662 360 L1663 361.8 L1664 363.6 L1665 365.4 L1665.9 367.2 L1666.9 369 L1667.9 370.8 L1668.8 372.5 L1669.8 374.3 L1670.8 376.1 L1671.7 377.9" stroke="#c82a5a" stroke-width="7.4" stroke-linecap="butt"/>
<path d="M1671.5 377.4 L1672.4 379.2 L1673.4 381 L1674.5 382.8 L1675.5 384.6 L1676.5 386.4 L1677.6 388.1 L1678.8 389.8 L1680.1 391.3 L1681.5 392.9 L1683 394.3 L1684.6 395.6" stroke="#ff1d0a" stroke-width="7.4" stroke-linecap="butt"/>
<path d="M1684.1 395.2 L1685.8 396.4 L1687.7 397.3 L1689.6 397.9 L1691.6 398.4 L1693.6 398.9 L1695.6 399.4 L1697.6 399.9 L1699.7 400.4 L1701.7 400.8" stroke="#f2542a" stroke-width="7.4" stroke-linecap="butt"/>
<path d="M1701.1 400.7 L1703.1 401.1 L1705 401.7 L1706.9 402.3 L1708.8 403.1 L1710.7 403.8 L1712.5 404.6 L1714.4 405.4 L1716.2 406.3 L1718.1 407 L1720 407.8 L1721.8 408.6 L1723.7 409.3 L1725.6 410.1 L1727.5 410.9 L1729.3 411.7 L1731.1 412.5 L1733 413.4 L1734.8 414.3 L1736.6 415.2 L1738.4 416.1 L1740.2 417.1 L1741.9 418.1 L1743.7 419.1 L1745.4 420.1 L1747.1 421.3 L1748.6 422.6 L1750.1 423.9" stroke="#ff1d0a" stroke-width="7.4" stroke-linecap="butt"/>
<path d="M1749.7 423.5 L1751.2 425 L1752.6 426.5 L1754 428 L1755.5 429.5 L1756.9 431 L1758.4 432.4 L1759.8 433.9 L1761.3 435.4" stroke="#f01818" stroke-width="7.4" stroke-linecap="butt"/>
<path d="M1760.8 435 L1762.3 436.4 L1763.8 437.8 L1765.3 439.1 L1767 440.3 L1768.7 441.4 L1770.4 442.5 L1772.1 443.6 L1773.9 444.6 L1775.6 445.6 L1777.4 446.5 L1779.2 447.5 L1780.9 448.6 L1782.6 449.7 L1784.3 450.8 L1786 451.9 L1787.7 453 L1789.4 454.1 L1791.1 455.3 L1792.8 456.4 L1794.5 457.6" stroke="#c42a5e" stroke-width="7.4" stroke-linecap="butt"/>
<path d="M1794 457.2 L1795.6 458.4 L1797.4 459.5 L1799.1 460.5 L1800.9 461.5 L1802.8 462.4 L1804.6 463.3 L1806.4 464.2 L1808.3 465.1 L1810.1 465.9 L1812 466.8 L1813.9 467.6 L1815.7 468.4 L1817.6 469.3 L1819.5 470.1" stroke="#ec4a24" stroke-width="7.4" stroke-linecap="butt"/>
<path d="M1818.9 469.8 L1820.8 470.6 L1822.7 471.4 L1824.6 472.2 L1826.5 472.9 L1828.4 473.7 L1830.3 474.4 L1832.2 475.2 L1834 476 L1835.9 476.8 L1837.8 477.7 L1839.6 478.5 L1841.5 479.4 L1843.3 480.3 L1845.2 481.1" stroke="#e84a22" stroke-width="7.4" stroke-linecap="butt"/>
<path d="M1844.6 480.9 L1846.5 481.8 L1848.4 482.6 L1850.3 483.5 L1852.2 484.4 L1854 485.2 L1855.9 486.1 L1857.8 487 L1859.7 487.9" stroke="#c82a5a" stroke-width="7.4" stroke-linecap="butt"/>
<path d="M1859.2 487.6 L1861 488.5 L1862.9 489.4 L1864.8 490.2 L1866.7 491.1 L1868.6 492 L1870.5 492.9 L1872.4 493.8" stroke="#ff1d0a" stroke-width="7.4" stroke-linecap="butt"/>
<path d="M1871.9 493.5 L1873.7 494.4 L1875.6 495.2 L1877.4 496.1 L1879.2 497 L1881.1 497.8 L1882.9 498.7 L1884.8 499.6 L1886.7 500.4 L1888.5 501.2 L1890.4 502 L1892.3 502.8 L1894.2 503.5 L1896.1 504.3 L1898 505" stroke="#c42a62" stroke-width="7.4" stroke-linecap="butt"/>
<path d="M1658 148.5 L1659.5 149.8 L1661.1 151 L1662.6 152.3 L1664.2 153.6 L1665.8 154.8 L1667.3 156.1 L1668.9 157.3 L1670.5 158.6 L1672 159.8 L1673.6 161.1 L1675.1 162.3 L1676.7 163.6 L1678.3 164.8 L1679.8 166.1 L1681.4 167.3 L1683 168.6 L1684.6 169.8 L1686.1 171 L1687.7 172.3 L1689.3 173.5 L1690.9 174.7 L1692.5 175.9 L1694.1 177.1 L1695.7 178.3 L1697.3 179.5 L1699 180.7 L1700.6 181.9 L1702.2 183 L1703.8 184.2 L1705.4 185.4 L1707 186.6 L1708.7 187.7 L1710.3 188.9 L1711.9 190.1 L1713.5 191.3 L1715.1 192.5 L1716.8 193.6 L1718.4 194.8 L1720 196 L1721.6 197.2 L1723.2 198.4 L1724.8 199.6 L1726.4 200.8 L1728 202 L1729.6 203.2 L1731.2 204.5 L1732.8 205.7 L1734.4 206.9 L1736 208.1 L1737.6 209.3 L1739.2 210.5 L1740.8 211.7 L1742.4 212.8 L1744.1 214 L1745.7 215.1 L1747.4 216.3 L1749 217.4 L1750.7 218.4 L1752.4 219.5 L1754.2 220.5 L1755.9 221.5 L1757.6 222.5 L1759.4 223.5 L1761.1 224.5 L1762.9 225.4 L1764.7 226.3 L1766.5 227.2 L1768.2 228.1 L1770 229.1 L1771.8 229.9 L1773.6 230.8 L1775.4 231.7 L1777.2 232.6 L1779 233.5 L1780.8 234.4 L1782.6 235.3 L1784.4 236.2 L1786.2 237 L1788 237.9 L1789.8 238.7 L1791.6 239.6 L1793.5 240.4 L1795.3 241.3 L1797.1 242.1 L1798.9 243 L1800.7 243.8 L1802.6 244.6 L1804.4 245.4 L1806.2 246.3 L1808 247.1 L1809.8 247.9 L1811.7 248.7 L1813.5 249.5" stroke="#ff1d0a" stroke-width="7.6" stroke-linecap="butt"/>
<path d="M1813 249.3 L1814.9 250.1 L1816.8 250.9 L1818.8 251.7 L1820.7 252.5 L1822.6 253.3 L1824.5 254.2 L1826.3 255.2" stroke="#f24a22" stroke-width="7.6" stroke-linecap="butt"/>
<path d="M1825.8 254.9 L1827.6 255.9 L1829.3 256.9 L1831.1 257.9 L1832.8 259 L1834.6 260.1 L1836.3 261.2 L1838 262.3 L1839.7 263.4 L1841.4 264.6 L1843 265.7 L1844.7 267 L1846.3 268.2 L1847.8 269.5 L1849.4 270.9 L1850.9 272.2 L1852.4 273.6" stroke="#ff1d0a" stroke-width="7.6" stroke-linecap="butt"/>
<path d="M1851.9 273.2 L1853.4 274.6 L1855 276.1 L1856.5 277.5 L1858.1 278.9 L1859.6 280.3 L1861.1 281.7 L1862.7 283.1" stroke="#f01818" stroke-width="7.6" stroke-linecap="butt"/>
<path d="M1862.2 282.7 L1863.7 284.1 L1865.3 285.4 L1866.8 286.7 L1868.4 287.9 L1870 289.2 L1871.6 290.4 L1873.3 291.6 L1874.9 292.8 L1876.6 294 L1878.2 295.2 L1879.9 296.3 L1881.6 297.5 L1883.3 298.6 L1885 299.7 L1886.7 300.8 L1888.5 301.7 L1890.3 302.6 L1892.2 303.4 L1894.1 304 L1896.1 304.5 L1898.1 305 L1900 305.5 L1902 306" stroke="#c8286a" stroke-width="7.6" stroke-linecap="butt"/>
<path d="M1892 146 L1892 147.3 L1892 149.1 L1892.1 151.3 L1892.1 154.3 L1892 158 L1891.8 163 L1891.6 169.3 L1891.3 176 L1891.1 182.5 L1891 188 L1891.1 192.4 L1891.3 196.2 L1891.5 199.5 L1891.8 202.7 L1892 206 L1892.1 209.5 L1892.2 213 L1892.3 216.4 L1892.4 219.4 L1892.6 222 L1892.9 224 L1893.4 225.6 L1893.8 226.8 L1894.2 227.8 L1894.5 228.5 L1922 228.5 L1922.3 227.8 L1922.6 226.8 L1923 225.6 L1923.4 224 L1923.6 222 L1923.6 219.4 L1923.3 216.3 L1923.1 212.9 L1922.9 209.4 L1923 206 L1923.5 202.9 L1924.3 199.8 L1925.2 196.7 L1925.9 193.5 L1926.4 190 L1926.5 186.1 L1926.5 181.9 L1926.3 177.6 L1925.9 173.6 L1925.5 170 L1924.8 167.1 L1924 164.6 L1923 162.4 L1922.1 160.3 L1921.5 158 L1921.2 155.4 L1921 152.6 L1921 149.9 L1921 147.6 L1921 146Z" fill="url(#tb)" fill-opacity="0.93" stroke="none"/>
<path d="M1893.5 226.5 L1893.1 226.9 L1892.4 227.2 L1891.7 227.9 L1891.1 229.4 L1890.6 232 L1890.3 236.1 L1890.2 241.5 L1890.1 247.6 L1890 253.9 L1890 260 L1890 266.2 L1889.9 272.8 L1889.9 279.3 L1890 285.2 L1890 290 L1890 293.4 L1890 295.7 L1890.1 297.3 L1890.2 298.6 L1890.4 300 L1890.7 301.5 L1891.2 302.8 L1891.7 303.9 L1892.2 304.8 L1892.5 305.5 L1919.5 305.5 L1919.8 304.7 L1920.2 303.8 L1920.7 302.5 L1921.2 300.6 L1921.6 298 L1922 294.3 L1922.5 289.8 L1922.9 284.7 L1923.3 279.7 L1923.6 275 L1923.9 270.8 L1924.1 266.8 L1924.3 262.9 L1924.5 259 L1924.6 255 L1924.8 250.6 L1924.9 246 L1925 241.5 L1925.1 237.4 L1925 234 L1924.7 231.5 L1924.3 229.7 L1923.8 228.3 L1923.3 227.3 L1923 226.5Z" fill="url(#ty)" fill-opacity="0.93" stroke="none"/>
<path d="M1890 302.5 L1889.6 303 L1888.9 303.5 L1888.2 304.3 L1887.5 305.8 L1887 308 L1886.6 311.4 L1886.4 315.8 L1886.2 320.7 L1886 325.6 L1885.8 330 L1885.6 334 L1885.3 338 L1885.1 341.8 L1885 345.2 L1885 348 L1885.3 350.1 L1885.7 351.7 L1886.2 352.9 L1886.7 353.8 L1887 354.5 L1916.5 354.5 L1916.8 353.8 L1917.1 352.9 L1917.6 351.7 L1918 350.1 L1918.4 348 L1918.7 345.2 L1919.1 341.8 L1919.4 338 L1919.7 334 L1920 330 L1920.3 325.6 L1920.6 320.7 L1920.8 315.8 L1921 311.4 L1921 308 L1920.8 305.8 L1920.5 304.3 L1920.1 303.5 L1919.7 303 L1919.5 302.5Z" fill="url(#tb)" fill-opacity="0.93" stroke="none"/>
<path d="M1886.5 351.5 L1886.1 352 L1885.5 352.5 L1884.8 353.3 L1884.1 354.7 L1883.6 357 L1883.2 360.4 L1883 364.8 L1882.8 369.8 L1882.7 375 L1882.6 380 L1882.6 385 L1882.8 390.2 L1883 395.4 L1883.2 400.4 L1883.4 405 L1883.5 409.2 L1883.6 413.3 L1883.7 417 L1883.8 420.2 L1884 423 L1884.3 425.1 L1884.8 426.7 L1885.3 427.9 L1885.7 428.8 L1886 429.5 L1913.6 429.5 L1913.9 428.7 L1914.3 427.7 L1914.8 426.4 L1915.3 424.8 L1915.6 423 L1915.8 421 L1915.8 418.8 L1915.9 416.4 L1915.9 413.5 L1916 410 L1916.2 405.8 L1916.5 401 L1916.7 395.8 L1916.9 390.4 L1917 385 L1916.9 379.2 L1916.7 372.9 L1916.4 366.7 L1916.1 361.2 L1915.8 357 L1915.4 354.4 L1915 352.9 L1914.6 352.2 L1914.3 351.9 L1914 351.5Z" fill="url(#ty)" fill-opacity="0.93" stroke="none"/>
<path d="M1882.5 426.5 L1882 427 L1881.2 427.6 L1880.4 428.5 L1879.6 429.9 L1879 432 L1878.6 435.2 L1878.3 439.2 L1878.1 443.7 L1878 448.2 L1878 452 L1878.2 455.2 L1878.5 458 L1878.9 460.7 L1879.4 463.3 L1880 466 L1880.7 468.9 L1881.5 471.8 L1882.4 474.8 L1883.3 477.5 L1884 480 L1884.6 482.2 L1885.1 484.2 L1885.6 485.9 L1886 487.5 L1886.5 489 L1887 490.3 L1887.6 491.5 L1888.2 492.6 L1888.7 493.4 L1889 494 L1909.5 494 L1909.8 493.4 L1910.2 492.5 L1910.7 491.4 L1911.2 490.2 L1911.6 489 L1911.9 487.8 L1912.2 486.6 L1912.4 485.3 L1912.7 483.8 L1913 482 L1913.4 480 L1913.8 477.8 L1914.2 475.5 L1914.7 472.9 L1915 470 L1915.3 466.8 L1915.5 463.3 L1915.7 459.6 L1915.9 455.8 L1916 452 L1916.1 447.9 L1916.2 443.4 L1916.3 439.1 L1916.2 435.1 L1916 432 L1915.5 429.9 L1914.9 428.5 L1914.1 427.6 L1913.5 427 L1913 426.5Z" fill="url(#tb)" fill-opacity="0.93" stroke="none"/>
<path d="M1892 490.5 L1891.2 490.9 L1890.2 491.3 L1888.9 491.9 L1887.5 492.8 L1886 494 L1884.2 495.7 L1882.1 497.8 L1880 500.1 L1878.1 502.6 L1876.6 505 L1875.7 507.5 L1875.1 510.1 L1874.8 512.7 L1874.7 515.4 L1874.6 518 L1874.6 520.6 L1874.7 523.2 L1875 525.7 L1875.4 528.3 L1876 531 L1876.8 533.8 L1877.8 536.6 L1879 539.5 L1880.2 542.3 L1881.6 545 L1883.1 547.6 L1884.8 550.1 L1886.6 552.6 L1888.3 554.9 L1890 557 L1891.7 559 L1893.4 560.9 L1895.1 562.6 L1896.5 564 L1897.5 565 L1927 565 L1927.1 563.8 L1927.2 562.1 L1927.4 560.2 L1927.4 558.1 L1927.4 556 L1927.2 554 L1926.8 551.9 L1926.4 549.8 L1926.1 547.5 L1926 545 L1926.2 542.3 L1926.6 539.3 L1927.1 536.2 L1927.5 533.1 L1927.8 530 L1928 527 L1928.1 523.9 L1928.1 520.9 L1928 517.9 L1927.6 515 L1927 512.2 L1926.3 509.5 L1925.4 506.8 L1924.3 504.3 L1923 502 L1921.3 499.8 L1919.1 497.8 L1916.9 495.9 L1914.8 494.3 L1913 493 L1911.6 492 L1910.4 491.4 L1909.4 491 L1908.6 490.7 L1908 490.5Z" fill="url(#ty)" fill-opacity="0.93" stroke="none"/>
<path d="M1898 561.5 L1897.5 562.1 L1896.7 562.9 L1895.8 564 L1895 565.3 L1894.4 567 L1894 569 L1893.7 571.4 L1893.6 574.1 L1893.6 577 L1894 580 L1894.8 583.4 L1895.9 587.1 L1897.2 591 L1898.5 594.7 L1899.6 598 L1900.4 600.8 L1901.2 603.3 L1901.8 605.6 L1902.4 607.8 L1903 610 L1903.5 612.3 L1904 614.6 L1904.4 616.8 L1904.8 618.7 L1905 620 L1938 620 L1937.8 618.2 L1937.6 615.8 L1937.3 612.8 L1937 609.5 L1936.6 606 L1936.1 602 L1935.5 597.6 L1934.9 592.9 L1934.2 588.3 L1933.6 584 L1933 579.9 L1932.4 575.9 L1931.8 572 L1931.1 568.7 L1930.4 566 L1929.5 564.2 L1928.5 563 L1927.5 562.3 L1926.6 561.9 L1926 561.5Z" fill="url(#tb)" fill-opacity="0.93" stroke="none"/>
<ellipse cx="1908" cy="227.5" rx="14.6" ry="8.5" transform="rotate(0 1908 227.5)" fill="#72725c" fill-opacity="0.62" stroke="none"/>
<ellipse cx="1905.8" cy="304" rx="14.8" ry="8.8" transform="rotate(-2 1905.8 304)" fill="#72725c" fill-opacity="0.62" stroke="none"/>
<ellipse cx="1901.8" cy="353" rx="15" ry="8.8" transform="rotate(-2 1901.8 353)" fill="#72725c" fill-opacity="0.62" stroke="none"/>
<ellipse cx="1900" cy="428" rx="15.4" ry="9" transform="rotate(0 1900 428)" fill="#72725c" fill-opacity="0.62" stroke="none"/>
<ellipse cx="1899.4" cy="492" rx="10.6" ry="7.5" transform="rotate(0 1899.4 492)" fill="#72725c" fill-opacity="0.62" stroke="none"/>
<ellipse cx="1912.4" cy="563.5" rx="15" ry="9.5" transform="rotate(8 1912.4 563.5)" fill="#72725c" fill-opacity="0.62" stroke="none"/>
<ellipse cx="1893" cy="503" rx="12.5" ry="11" fill="#8a9a58" fill-opacity="0.55"/>
<path d="M1907.8 146 L1907.6 228" stroke="#c42a5e" stroke-width="5.9" stroke-linecap="butt"/>
<path d="M1907.6 228 L1907.5 233.8 L1907.3 242.2 L1907 251.8 L1906.8 261.4 L1906.5 270 L1906.2 277.9 L1905.9 285.8 L1905.5 293.2 L1905.2 299.5 L1905 304" stroke="#f0741e" stroke-width="5.9" stroke-linecap="butt"/>
<path d="M1905 304 L1904.7 307.6 L1904.4 312.7 L1903.9 318.6 L1903.5 324.6 L1903 330 L1902.5 335.2 L1901.9 340.5 L1901.3 345.6 L1900.8 349.9 L1900.5 353" stroke="#c42a5e" stroke-width="5.9" stroke-linecap="butt"/>
<path d="M1900.5 353 L1900.3 358 L1900.1 365.1 L1899.8 373.4 L1899.6 381.9 L1899.5 390 L1899.6 398.1 L1899.8 407 L1900.1 415.5 L1900.3 422.8 L1900.5 428" stroke="#f0741e" stroke-width="5.9" stroke-linecap="butt"/>
<path d="M1900.5 428 L1900 430.2 L1899.3 433.2 L1898.6 436.8 L1897.9 440.8 L1897.5 445 L1897.4 449.5 L1897.5 454.6 L1897.7 459.8 L1897.9 465.1 L1898 470 L1898 474.9 L1898 480.1 L1898 484.9 L1898 489.1 L1898 492" stroke="#c42a5e" stroke-width="5.9" stroke-linecap="butt"/>
<path d="M1898 492 L1897.7 493.4 L1897.1 495.3 L1896.5 497.6 L1896.2 500.5 L1896.5 504 L1897.4 508.2 L1898.9 513.1 L1900.6 518.4 L1902.4 524.1 L1904 530 L1905.5 536.7 L1907.2 544.3 L1908.7 551.8 L1910.1 558.4 L1911 563" stroke="#f0741e" stroke-width="5.9" stroke-linecap="butt"/>
<path d="M1911 563 L1911.7 566.6 L1912.7 571.7 L1913.8 577.7 L1915 584 L1916 590 L1916.9 596.3 L1917.9 603.2 L1918.7 610 L1919.5 615.9 L1920 620" stroke="#c42a5e" stroke-width="5.9" stroke-linecap="butt"/>
<ellipse cx="1906.5" cy="172" rx="2.2" ry="5" fill="#ff9ac0" fill-opacity="0.35"/>
<ellipse cx="1899" cy="318" rx="2.2" ry="5" fill="#ff9ac0" fill-opacity="0.35"/>
<ellipse cx="1897" cy="446" rx="2.2" ry="5" fill="#ff9ac0" fill-opacity="0.35"/>
<ellipse cx="1910.6" cy="567" rx="2.2" ry="5" fill="#ff9ac0" fill-opacity="0.35"/>
</g>
<line x1="1612.7" y1="155.8" x2="1612.7" y2="612.4" stroke="#858585" stroke-width="1.6"/>
<line x1="1611.9" y1="611.6" x2="1993.3" y2="611.6" stroke="#4a4a4a" stroke-width="1.6"/>
<text x="1613.1" y="634.9" text-anchor="middle" class="tk tkd">-50</text>
<line x1="1688.7" y1="607.6" x2="1688.7" y2="611.6" stroke="#4a4a4a" stroke-width="1.5"/>
<text x="1689.1" y="634.9" text-anchor="middle" class="tk tkd">-40</text>
<line x1="1764.7" y1="607.6" x2="1764.7" y2="611.6" stroke="#4a4a4a" stroke-width="1.5"/>
<text x="1765.1" y="634.9" text-anchor="middle" class="tk tkd">-30</text>
<line x1="1840.7" y1="607.6" x2="1840.7" y2="611.6" stroke="#4a4a4a" stroke-width="1.5"/>
<text x="1841.1" y="634.9" text-anchor="middle" class="tk tkd">-20</text>
<line x1="1916.7" y1="607.6" x2="1916.7" y2="611.6" stroke="#4a4a4a" stroke-width="1.5"/>
<text x="1917.1" y="634.9" text-anchor="middle" class="tk tkd">-10</text>
<line x1="1992.7" y1="607.6" x2="1992.7" y2="611.6" stroke="#4a4a4a" stroke-width="1.5"/>
<text x="1993.3" y="634.9" text-anchor="middle" class="tk tkd">0</text>
<text x="1605.5" y="617.8" text-anchor="end" class="tk tkd">60</text>
<line x1="1612.7" y1="535.6" x2="1616.7" y2="535.6" stroke="#858585" stroke-width="1.5"/>
<text x="1605.5" y="541.8" text-anchor="end" class="tk tkd">70</text>
<line x1="1612.7" y1="459.6" x2="1616.7" y2="459.6" stroke="#858585" stroke-width="1.5"/>
<text x="1605.5" y="465.8" text-anchor="end" class="tk tkd">80</text>
<line x1="1612.7" y1="383.6" x2="1616.7" y2="383.6" stroke="#858585" stroke-width="1.5"/>
<text x="1605.5" y="389.8" text-anchor="end" class="tk tkd">90</text>
<line x1="1612.7" y1="307.6" x2="1616.7" y2="307.6" stroke="#858585" stroke-width="1.5"/>
<text x="1605.5" y="313.8" text-anchor="end" class="tk tkd">100</text>
<line x1="1612.7" y1="231.6" x2="1616.7" y2="231.6" stroke="#858585" stroke-width="1.5"/>
<text x="1605.5" y="237.8" text-anchor="end" class="tk tkd">110</text>
<line x1="1612.7" y1="155.6" x2="1616.7" y2="155.6" stroke="#858585" stroke-width="1.5"/>
<text x="1605.5" y="161.8" text-anchor="end" class="tk tkd">120</text>
<text x="1803" y="658.5" text-anchor="middle" class="lb">X (<tspan class="mu">μ</tspan>m)</text>
<text transform="translate(1562.6 383.5) rotate(-90)" text-anchor="middle" class="lb">Z (<tspan class="mu">μ</tspan>m)</text>
<text transform="translate(1511.9 82.8) scale(0.965 1)" class="pl">D</text>
<text x="1557.2" y="81.9" class="dot">.</text>
</g>
</svg></body></html>
